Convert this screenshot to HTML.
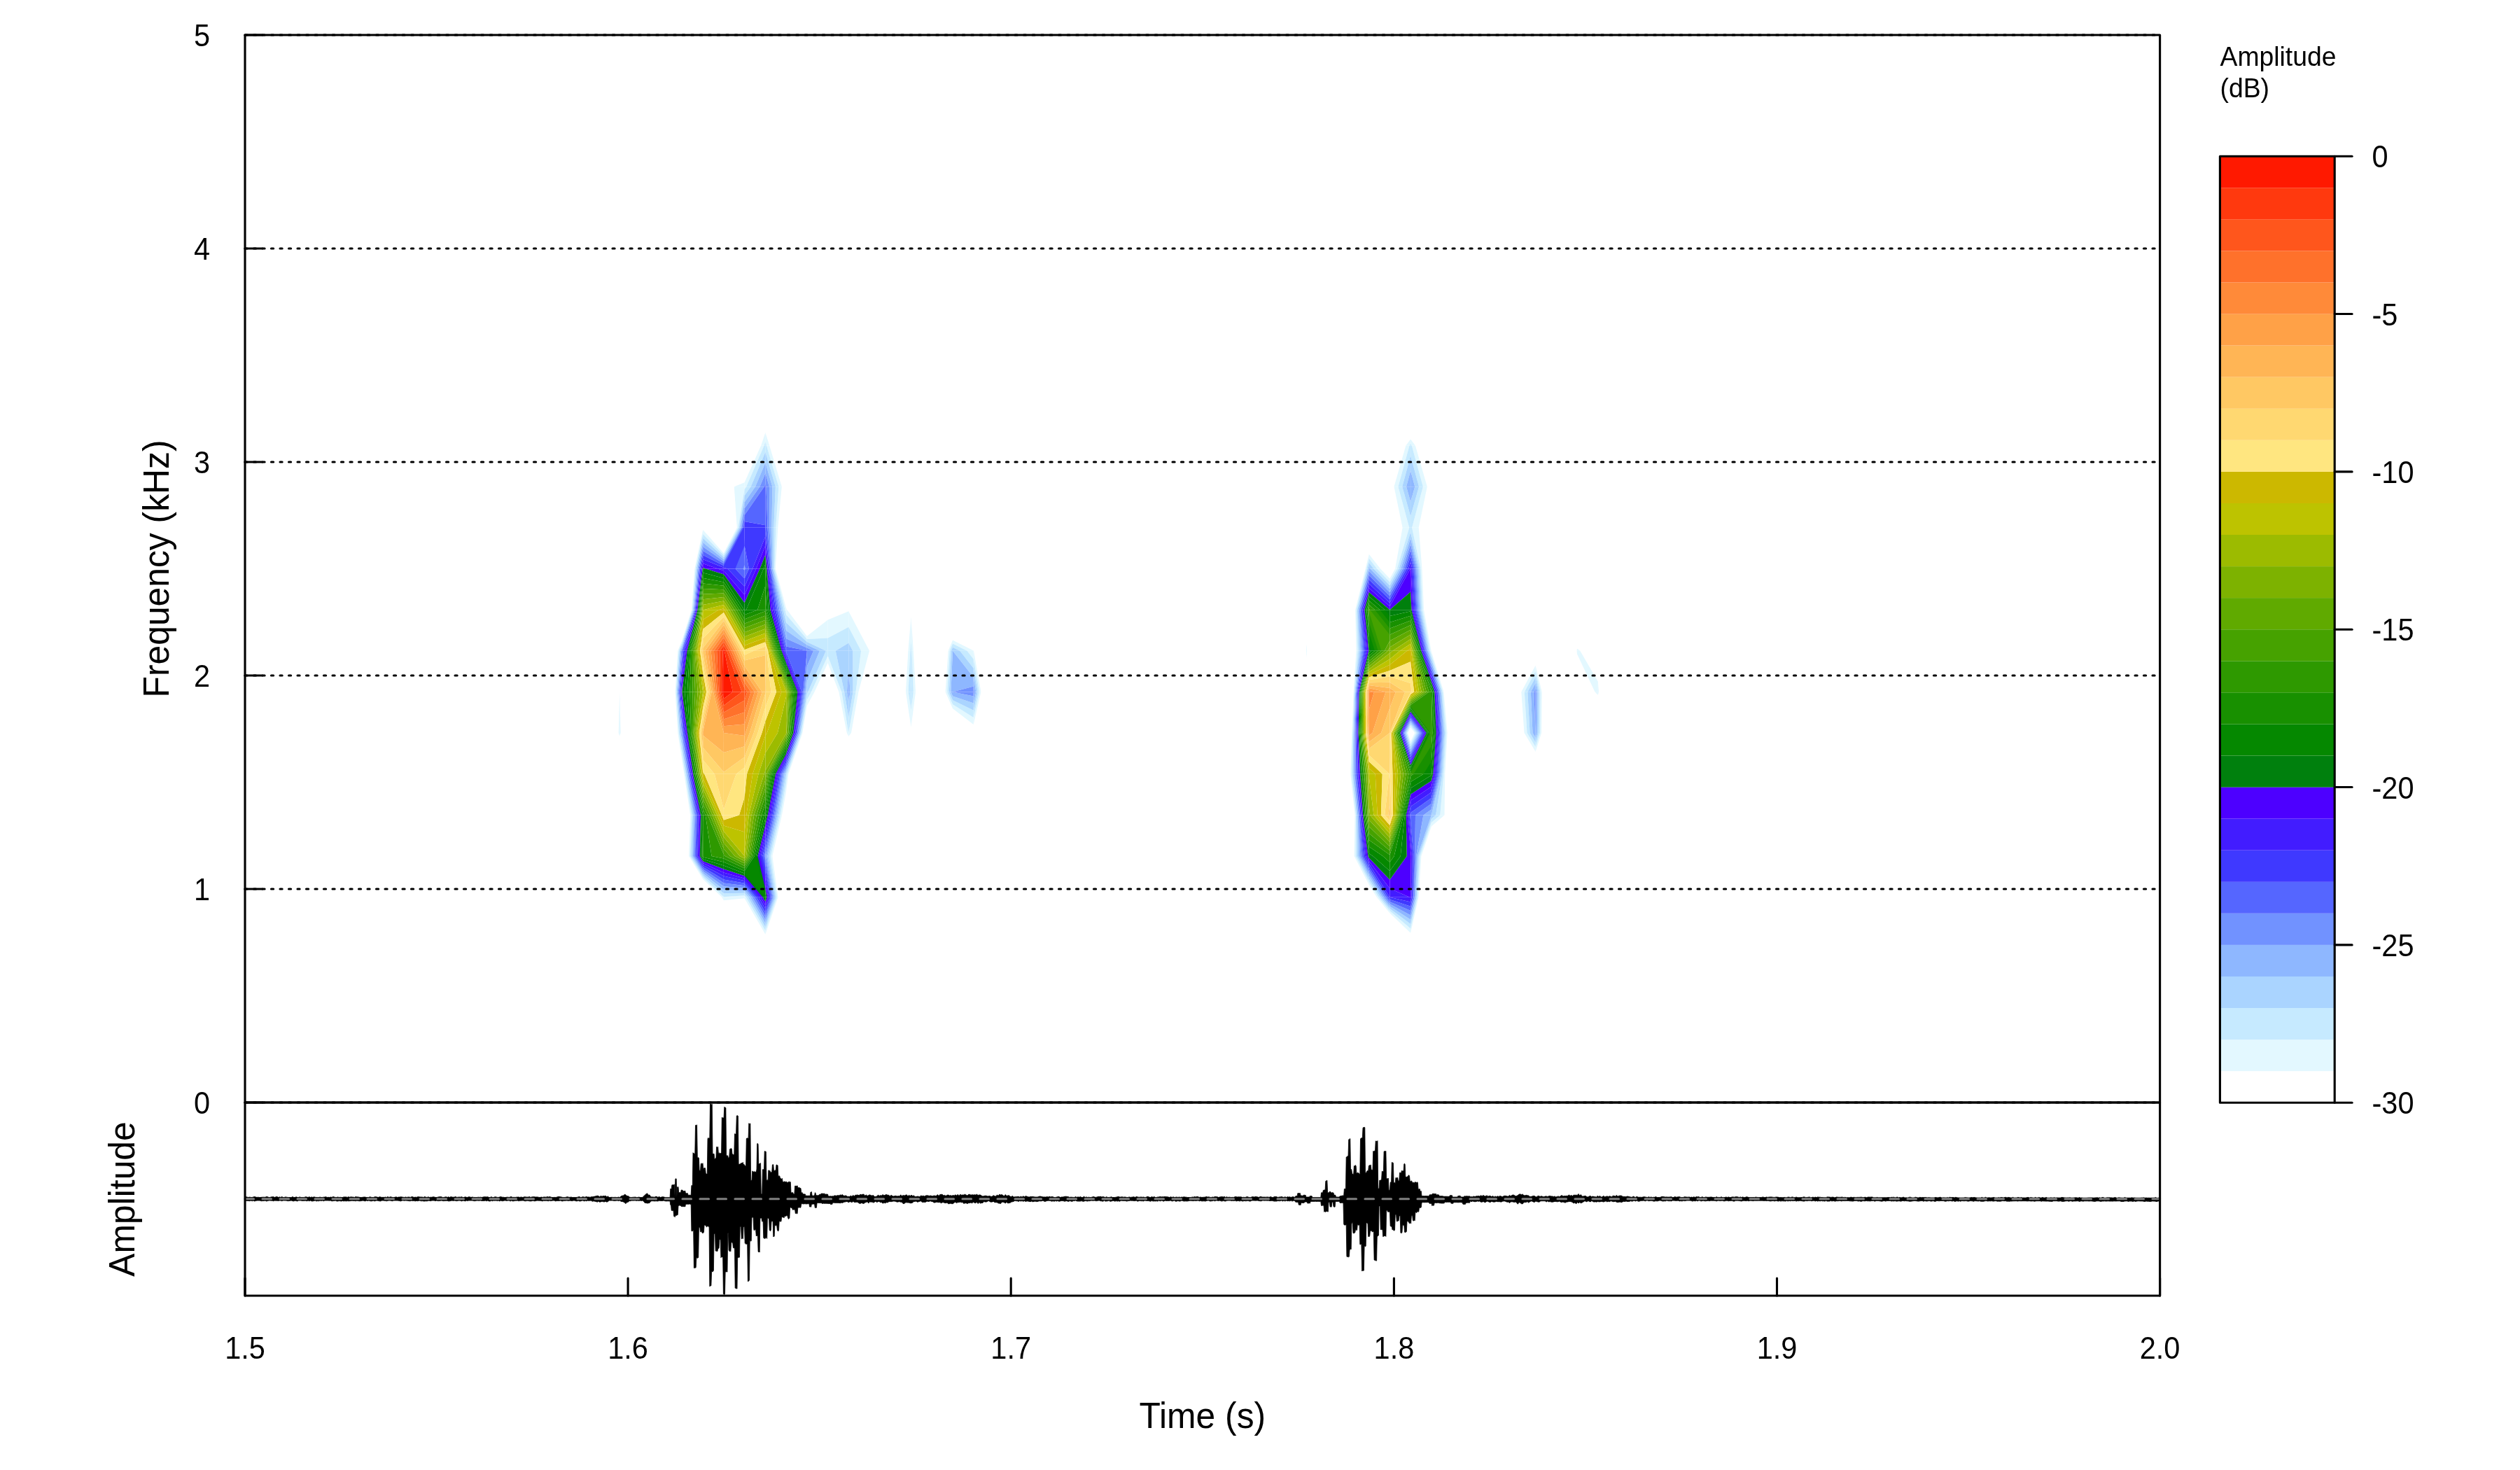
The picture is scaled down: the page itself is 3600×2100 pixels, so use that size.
<!DOCTYPE html>
<html><head><meta charset="utf-8"><title>Spectrogram</title>
<style>html,body{margin:0;padding:0;background:#fff}svg{display:block;will-change:transform}text{font-family:"Liberation Sans",sans-serif;fill:#000}.b1{fill:#E3F8FF}.b2{fill:#C6EAFF}.b3{fill:#AAD4FF}.b4{fill:#8EB7FF}.b5{fill:#7192FF}.b6{fill:#5566FF}.b7{fill:#3F39FF}.b8{fill:#421CFF}.b9{fill:#4D00FF}.b10{fill:#00800D}.b11{fill:#058800}.b12{fill:#189000}.b13{fill:#2E9900}.b14{fill:#46A200}.b15{fill:#60AA00}.b16{fill:#7DB200}.b17{fill:#9CBB00}.b18{fill:#BDC300}.b19{fill:#CCB800}.b20{fill:#FFE680}.b21{fill:#FFD871}.b22{fill:#FFC863}.b23{fill:#FFB555}.b24{fill:#FFA147}.b25{fill:#FF8A39}.b26{fill:#FF712B}.b27{fill:#FF561C}.b28{fill:#FF390E}.b29{fill:#FF1900}</style></head><body>
<svg width="3600" height="2100" viewBox="0 0 3600 2100">
<rect width="3600" height="2100" fill="#fff"/>
<g>
<path class="b1" d="M885.2,1051.4L885.2,1047.1L883.7,1047.1Z"/>
<path class="b1" d="M883.7,1047.1L885.2,1047.1L885.2,988.5Z"/>
<path class="b1" d="M886.7,1047.1L885.2,1047.1L885.2,1051.4Z"/>
<path class="b1" d="M885.2,1047.1L886.7,1047.1L885.2,988.5Z"/>
<path class="b1" d="M974.4,1087.4L974.4,1078.3L969.7,1047.1L968.3,1047.1Z"/>
<path class="b2" d="M974.4,1078.3L974.4,1069.1L971.1,1047.1L969.7,1047.1Z"/>
<path class="b3" d="M974.4,1069.1L974.4,1059.9L972.5,1047.1L971.1,1047.1Z"/>
<path class="b4" d="M974.4,1059.9L974.4,1050.8L973.9,1047.1L972.5,1047.1Z"/>
<path class="b5" d="M974.4,1050.8L974.4,1047.1L973.9,1047.1Z"/>
<path class="b1" d="M968.3,1047.1L969.7,1047.1L965.6,988.5L964.5,988.5Z"/>
<path class="b2" d="M969.7,1047.1L971.1,1047.1L966.7,988.5L965.6,988.5Z"/>
<path class="b3" d="M971.1,1047.1L972.5,1047.1L967.8,988.5L966.7,988.5Z"/>
<path class="b4" d="M972.5,1047.1L973.9,1047.1L968.9,988.5L967.8,988.5Z"/>
<path class="b5" d="M973.9,1047.1L974.4,1047.1L974.4,1039.5L970,988.5L968.9,988.5Z"/>
<path class="b6" d="M974.4,1039.5L974.4,1026.7L971.1,988.5L970,988.5Z"/>
<path class="b7" d="M974.4,1026.7L974.4,1014L972.2,988.5L971.1,988.5Z"/>
<path class="b8" d="M974.4,1014L974.4,1001.2L973.3,988.5L972.2,988.5Z"/>
<path class="b9" d="M974.4,1001.2L974.4,988.5L973.3,988.5Z"/>
<path class="b1" d="M964.5,988.5L965.6,988.5L969.5,929.8L968.2,929.8Z"/>
<path class="b2" d="M965.6,988.5L966.7,988.5L970.7,929.8L969.5,929.8Z"/>
<path class="b3" d="M966.7,988.5L967.8,988.5L972,929.8L970.7,929.8Z"/>
<path class="b4" d="M967.8,988.5L968.9,988.5L973.2,929.8L972,929.8Z"/>
<path class="b5" d="M968.9,988.5L970,988.5L974.4,929.8L973.2,929.8Z"/>
<path class="b6" d="M970,988.5L971.1,988.5L974.4,944.5L974.4,929.8Z"/>
<path class="b7" d="M971.1,988.5L972.2,988.5L974.4,959.1L974.4,944.5Z"/>
<path class="b8" d="M972.2,988.5L973.3,988.5L974.4,973.8L974.4,959.1Z"/>
<path class="b9" d="M973.3,988.5L974.4,988.5L974.4,973.8Z"/>
<path class="b1" d="M968.2,929.8L969.5,929.8L974.4,917.5L974.4,914.4Z"/>
<path class="b2" d="M969.5,929.8L970.7,929.8L974.4,920.5L974.4,917.5Z"/>
<path class="b3" d="M970.7,929.8L972,929.8L974.4,923.6L974.4,920.5Z"/>
<path class="b4" d="M972,929.8L973.2,929.8L974.4,926.7L974.4,923.6Z"/>
<path class="b5" d="M973.2,929.8L974.4,929.8L974.4,926.7Z"/>
<path class="b1" d="M1004.2,1256L1004.2,1253.1L985.8,1223.1L984.1,1223.1Z"/>
<path class="b2" d="M1004.2,1253.1L1004.2,1250.3L987.5,1223.1L985.8,1223.1Z"/>
<path class="b3" d="M1004.2,1250.3L1004.2,1247.4L989.3,1223.1L987.5,1223.1Z"/>
<path class="b4" d="M1004.2,1247.4L1004.2,1244.5L991,1223.1L989.3,1223.1Z"/>
<path class="b5" d="M1004.2,1244.5L1004.2,1241.7L992.8,1223.1L991,1223.1Z"/>
<path class="b6" d="M1004.2,1241.7L1004.2,1238.8L994.5,1223.1L992.8,1223.1Z"/>
<path class="b7" d="M1004.2,1238.8L1004.2,1236L996.3,1223.1L994.5,1223.1Z"/>
<path class="b8" d="M1004.2,1236L1004.2,1233.1L998,1223.1L996.3,1223.1Z"/>
<path class="b9" d="M1004.2,1233.1L1004.2,1230.2L999.8,1223.1L998,1223.1Z"/>
<path class="b10" d="M1004.2,1230.2L1004.2,1227.4L1001.5,1223.1L999.8,1223.1Z"/>
<path class="b11" d="M1004.2,1227.4L1004.2,1224.5L1003.3,1223.1L1001.5,1223.1Z"/>
<path class="b12" d="M1004.2,1224.5L1004.2,1223.1L1003.3,1223.1Z"/>
<path class="b1" d="M984.1,1223.1L985.8,1223.1L987.7,1164.4L986.1,1164.4Z"/>
<path class="b2" d="M985.8,1223.1L987.5,1223.1L989.4,1164.4L987.7,1164.4Z"/>
<path class="b3" d="M987.5,1223.1L989.3,1223.1L991,1164.4L989.4,1164.4Z"/>
<path class="b4" d="M989.3,1223.1L991,1223.1L992.7,1164.4L991,1164.4Z"/>
<path class="b5" d="M991,1223.1L992.8,1223.1L994.4,1164.4L992.7,1164.4Z"/>
<path class="b6" d="M992.8,1223.1L994.5,1223.1L996,1164.4L994.4,1164.4Z"/>
<path class="b7" d="M994.5,1223.1L996.3,1223.1L997.7,1164.4L996,1164.4Z"/>
<path class="b8" d="M996.3,1223.1L998,1223.1L999.3,1164.4L997.7,1164.4Z"/>
<path class="b9" d="M998,1223.1L999.8,1223.1L1001,1164.4L999.3,1164.4Z"/>
<path class="b10" d="M999.8,1223.1L1001.5,1223.1L1002.7,1164.4L1001,1164.4Z"/>
<path class="b11" d="M1001.5,1223.1L1003.3,1223.1L1004.2,1174.2L1004.2,1164.4L1002.7,1164.4Z"/>
<path class="b12" d="M1003.3,1223.1L1004.2,1223.1L1004.2,1174.2Z"/>
<path class="b1" d="M986.1,1164.4L987.7,1164.4L978.7,1105.8L977.3,1105.8Z"/>
<path class="b2" d="M987.7,1164.4L989.4,1164.4L980.1,1105.8L978.7,1105.8Z"/>
<path class="b3" d="M989.4,1164.4L991,1164.4L981.6,1105.8L980.1,1105.8Z"/>
<path class="b4" d="M991,1164.4L992.7,1164.4L983,1105.8L981.6,1105.8Z"/>
<path class="b5" d="M992.7,1164.4L994.4,1164.4L984.4,1105.8L983,1105.8Z"/>
<path class="b6" d="M994.4,1164.4L996,1164.4L985.8,1105.8L984.4,1105.8Z"/>
<path class="b7" d="M996,1164.4L997.7,1164.4L987.3,1105.8L985.8,1105.8Z"/>
<path class="b8" d="M997.7,1164.4L999.3,1164.4L988.7,1105.8L987.3,1105.8Z"/>
<path class="b9" d="M999.3,1164.4L1001,1164.4L990.1,1105.8L988.7,1105.8Z"/>
<path class="b10" d="M1001,1164.4L1002.7,1164.4L991.5,1105.8L990.1,1105.8Z"/>
<path class="b11" d="M1002.7,1164.4L1004.2,1164.4L1004.2,1163.7L993,1105.8L991.5,1105.8Z"/>
<path class="b12" d="M1004.2,1163.7L1004.2,1156.3L994.4,1105.8L993,1105.8Z"/>
<path class="b13" d="M1004.2,1156.3L1004.2,1148.9L995.8,1105.8L994.4,1105.8Z"/>
<path class="b14" d="M1004.2,1148.9L1004.2,1141.6L997.2,1105.8L995.8,1105.8Z"/>
<path class="b15" d="M1004.2,1141.6L1004.2,1134.2L998.7,1105.8L997.2,1105.8Z"/>
<path class="b16" d="M1004.2,1134.2L1004.2,1126.8L1000.1,1105.8L998.7,1105.8Z"/>
<path class="b17" d="M1004.2,1126.8L1004.2,1119.4L1001.5,1105.8L1000.1,1105.8Z"/>
<path class="b18" d="M1004.2,1119.4L1004.2,1112L1003,1105.8L1001.5,1105.8Z"/>
<path class="b19" d="M1004.2,1112L1004.2,1105.8L1003,1105.8Z"/>
<path class="b1" d="M977.3,1105.8L978.7,1105.8L974.4,1078.3L974.4,1087.4Z"/>
<path class="b2" d="M978.7,1105.8L980.1,1105.8L974.4,1069.1L974.4,1078.3Z"/>
<path class="b3" d="M980.1,1105.8L981.6,1105.8L974.4,1059.9L974.4,1069.1Z"/>
<path class="b4" d="M981.6,1105.8L983,1105.8L974.4,1050.8L974.4,1059.9Z"/>
<path class="b5" d="M983,1105.8L984.4,1105.8L975.4,1047.1L974.4,1047.1L974.4,1050.8Z"/>
<path class="b6" d="M984.4,1105.8L985.8,1105.8L977.1,1047.1L975.4,1047.1Z"/>
<path class="b7" d="M985.8,1105.8L987.3,1105.8L978.8,1047.1L977.1,1047.1Z"/>
<path class="b8" d="M987.3,1105.8L988.7,1105.8L980.4,1047.1L978.8,1047.1Z"/>
<path class="b9" d="M988.7,1105.8L990.1,1105.8L982.1,1047.1L980.4,1047.1Z"/>
<path class="b10" d="M990.1,1105.8L991.5,1105.8L983.8,1047.1L982.1,1047.1Z"/>
<path class="b11" d="M991.5,1105.8L993,1105.8L985.5,1047.1L983.8,1047.1Z"/>
<path class="b12" d="M993,1105.8L994.4,1105.8L987.1,1047.1L985.5,1047.1Z"/>
<path class="b13" d="M994.4,1105.8L995.8,1105.8L988.8,1047.1L987.1,1047.1Z"/>
<path class="b14" d="M995.8,1105.8L997.2,1105.8L990.5,1047.1L988.8,1047.1Z"/>
<path class="b15" d="M997.2,1105.8L998.7,1105.8L992.1,1047.1L990.5,1047.1Z"/>
<path class="b16" d="M998.7,1105.8L1000.1,1105.8L993.8,1047.1L992.1,1047.1Z"/>
<path class="b17" d="M1000.1,1105.8L1001.5,1105.8L995.5,1047.1L993.8,1047.1Z"/>
<path class="b18" d="M1001.5,1105.8L1003,1105.8L997.1,1047.1L995.5,1047.1Z"/>
<path class="b19" d="M1003,1105.8L1004.2,1105.8L1004.2,1103.1L998.8,1047.1L997.1,1047.1Z"/>
<path class="b20" d="M1004.2,1103.1L1004.2,1085.6L1000.5,1047.1L998.8,1047.1Z"/>
<path class="b21" d="M1004.2,1085.6L1004.2,1068.1L1002.2,1047.1L1000.5,1047.1Z"/>
<path class="b22" d="M1004.2,1068.1L1004.2,1050.6L1003.8,1047.1L1002.2,1047.1Z"/>
<path class="b23" d="M1004.2,1050.6L1004.2,1047.1L1003.8,1047.1Z"/>
<path class="b5" d="M974.4,1047.1L975.4,1047.1L974.4,1039.5Z"/>
<path class="b6" d="M975.4,1047.1L977.1,1047.1L974.4,1026.7L974.4,1039.5Z"/>
<path class="b7" d="M977.1,1047.1L978.8,1047.1L974.4,1014L974.4,1026.7Z"/>
<path class="b8" d="M978.8,1047.1L980.4,1047.1L974.4,1001.2L974.4,1014Z"/>
<path class="b9" d="M980.4,1047.1L982.1,1047.1L974.4,988.5L974.4,1001.2Z"/>
<path class="b10" d="M982.1,1047.1L983.8,1047.1L978.1,988.5L974.4,988.5Z"/>
<path class="b11" d="M983.8,1047.1L985.5,1047.1L981.9,988.5L978.1,988.5Z"/>
<path class="b12" d="M985.5,1047.1L987.1,1047.1L985.6,988.5L981.9,988.5Z"/>
<path class="b13" d="M987.1,1047.1L988.8,1047.1L989.3,988.5L985.6,988.5Z"/>
<path class="b14" d="M988.8,1047.1L990.5,1047.1L993,988.5L989.3,988.5Z"/>
<path class="b15" d="M990.5,1047.1L992.1,1047.1L996.7,988.5L993,988.5Z"/>
<path class="b16" d="M992.1,1047.1L993.8,1047.1L1000.4,988.5L996.7,988.5Z"/>
<path class="b17" d="M993.8,1047.1L995.5,1047.1L1004.2,988.5L1000.4,988.5Z"/>
<path class="b18" d="M995.5,1047.1L997.1,1047.1L1004.2,999.7L1004.2,988.5Z"/>
<path class="b19" d="M997.1,1047.1L998.8,1047.1L1004.2,1011L1004.2,999.7Z"/>
<path class="b20" d="M998.8,1047.1L1000.5,1047.1L1004.2,1022.3L1004.2,1011Z"/>
<path class="b21" d="M1000.5,1047.1L1002.2,1047.1L1004.2,1033.6L1004.2,1022.3Z"/>
<path class="b22" d="M1002.2,1047.1L1003.8,1047.1L1004.2,1044.9L1004.2,1033.6Z"/>
<path class="b23" d="M1003.8,1047.1L1004.2,1047.1L1004.2,1044.9Z"/>
<path class="b6" d="M976.3,929.8L974.4,929.8L974.4,944.5Z"/>
<path class="b7" d="M978.1,929.8L976.3,929.8L974.4,944.5L974.4,959.1Z"/>
<path class="b8" d="M979.9,929.8L978.1,929.8L974.4,959.1L974.4,973.8Z"/>
<path class="b9" d="M974.4,988.5L981.7,929.8L979.9,929.8L974.4,973.8Z"/>
<path class="b10" d="M974.4,988.5L978.1,988.5L983.6,929.8L981.7,929.8Z"/>
<path class="b11" d="M978.1,988.5L981.9,988.5L985.4,929.8L983.6,929.8Z"/>
<path class="b12" d="M981.9,988.5L985.6,988.5L987.2,929.8L985.4,929.8Z"/>
<path class="b13" d="M985.6,988.5L989.3,988.5L989,929.8L987.2,929.8Z"/>
<path class="b14" d="M989.3,988.5L993,988.5L990.8,929.8L989,929.8Z"/>
<path class="b15" d="M993,988.5L996.7,988.5L992.7,929.8L990.8,929.8Z"/>
<path class="b16" d="M996.7,988.5L1000.4,988.5L994.5,929.8L992.7,929.8Z"/>
<path class="b17" d="M1000.4,988.5L1004.2,988.5L996.3,929.8L994.5,929.8Z"/>
<path class="b18" d="M1004.2,988.5L1004.2,974.8L998.1,929.8L996.3,929.8Z"/>
<path class="b19" d="M1004.2,974.8L1004.2,961.2L1000,929.8L998.1,929.8Z"/>
<path class="b20" d="M1004.2,961.2L1004.2,947.5L1001.8,929.8L1000,929.8Z"/>
<path class="b21" d="M1004.2,947.5L1004.2,933.9L1003.6,929.8L1001.8,929.8Z"/>
<path class="b22" d="M1004.2,933.9L1004.2,929.8L1003.6,929.8Z"/>
<path class="b1" d="M988.8,871.2L987.9,871.2L974.4,914.4L974.4,917.5Z"/>
<path class="b2" d="M989.8,871.2L988.8,871.2L974.4,917.5L974.4,920.5Z"/>
<path class="b3" d="M990.8,871.2L989.8,871.2L974.4,920.5L974.4,923.6Z"/>
<path class="b4" d="M991.7,871.2L990.8,871.2L974.4,923.6L974.4,926.7Z"/>
<path class="b5" d="M974.4,929.8L992.7,871.2L991.7,871.2L974.4,926.7Z"/>
<path class="b6" d="M974.4,929.8L976.3,929.8L993.6,871.2L992.7,871.2Z"/>
<path class="b7" d="M976.3,929.8L978.1,929.8L994.6,871.2L993.6,871.2Z"/>
<path class="b8" d="M978.1,929.8L979.9,929.8L995.6,871.2L994.6,871.2Z"/>
<path class="b9" d="M979.9,929.8L981.7,929.8L996.5,871.2L995.6,871.2Z"/>
<path class="b10" d="M981.7,929.8L983.6,929.8L997.5,871.2L996.5,871.2Z"/>
<path class="b11" d="M983.6,929.8L985.4,929.8L998.4,871.2L997.5,871.2Z"/>
<path class="b12" d="M985.4,929.8L987.2,929.8L999.4,871.2L998.4,871.2Z"/>
<path class="b13" d="M987.2,929.8L989,929.8L1000.4,871.2L999.4,871.2Z"/>
<path class="b14" d="M989,929.8L990.8,929.8L1001.3,871.2L1000.4,871.2Z"/>
<path class="b15" d="M990.8,929.8L992.7,929.8L1002.3,871.2L1001.3,871.2Z"/>
<path class="b16" d="M992.7,929.8L994.5,929.8L1003.3,871.2L1002.3,871.2Z"/>
<path class="b17" d="M994.5,929.8L996.3,929.8L1004.2,871.8L1004.2,871.2L1003.3,871.2Z"/>
<path class="b18" d="M996.3,929.8L998.1,929.8L1004.2,885.3L1004.2,871.8Z"/>
<path class="b19" d="M998.1,929.8L1000,929.8L1004.2,898.8L1004.2,885.3Z"/>
<path class="b20" d="M1000,929.8L1001.8,929.8L1004.2,912.3L1004.2,898.8Z"/>
<path class="b21" d="M1001.8,929.8L1003.6,929.8L1004.2,925.8L1004.2,912.3Z"/>
<path class="b22" d="M1003.6,929.8L1004.2,929.8L1004.2,925.8Z"/>
<path class="b1" d="M987.9,871.2L988.8,871.2L993.6,812.5L992.3,812.5Z"/>
<path class="b2" d="M988.8,871.2L989.8,871.2L994.9,812.5L993.6,812.5Z"/>
<path class="b3" d="M989.8,871.2L990.8,871.2L996.2,812.5L994.9,812.5Z"/>
<path class="b4" d="M990.8,871.2L991.7,871.2L997.5,812.5L996.2,812.5Z"/>
<path class="b5" d="M991.7,871.2L992.7,871.2L998.7,812.5L997.5,812.5Z"/>
<path class="b6" d="M992.7,871.2L993.6,871.2L1000,812.5L998.7,812.5Z"/>
<path class="b7" d="M993.6,871.2L994.6,871.2L1001.3,812.5L1000,812.5Z"/>
<path class="b8" d="M994.6,871.2L995.6,871.2L1002.6,812.5L1001.3,812.5Z"/>
<path class="b9" d="M995.6,871.2L996.5,871.2L1003.8,812.5L1002.6,812.5Z"/>
<path class="b10" d="M996.5,871.2L997.5,871.2L1004.2,818.2L1004.2,812.5L1003.8,812.5Z"/>
<path class="b11" d="M997.5,871.2L998.4,871.2L1004.2,825.8L1004.2,818.2Z"/>
<path class="b12" d="M998.4,871.2L999.4,871.2L1004.2,833.4L1004.2,825.8Z"/>
<path class="b13" d="M999.4,871.2L1000.4,871.2L1004.2,841.1L1004.2,833.4Z"/>
<path class="b14" d="M1000.4,871.2L1001.3,871.2L1004.2,848.7L1004.2,841.1Z"/>
<path class="b15" d="M1001.3,871.2L1002.3,871.2L1004.2,856.3L1004.2,848.7Z"/>
<path class="b16" d="M1002.3,871.2L1003.3,871.2L1004.2,863.9L1004.2,856.3Z"/>
<path class="b17" d="M1003.3,871.2L1004.2,871.2L1004.2,863.9Z"/>
<path class="b1" d="M992.3,812.5L993.6,812.5L1004.2,762.9L1004.2,756.9Z"/>
<path class="b2" d="M993.6,812.5L994.9,812.5L1004.2,768.9L1004.2,762.9Z"/>
<path class="b3" d="M994.9,812.5L996.2,812.5L1004.2,774.9L1004.2,768.9Z"/>
<path class="b4" d="M996.2,812.5L997.5,812.5L1004.2,780.9L1004.2,774.9Z"/>
<path class="b5" d="M997.5,812.5L998.7,812.5L1004.2,786.9L1004.2,780.9Z"/>
<path class="b6" d="M998.7,812.5L1000,812.5L1004.2,792.9L1004.2,786.9Z"/>
<path class="b7" d="M1000,812.5L1001.3,812.5L1004.2,799L1004.2,792.9Z"/>
<path class="b8" d="M1001.3,812.5L1002.6,812.5L1004.2,805L1004.2,799Z"/>
<path class="b9" d="M1002.6,812.5L1003.8,812.5L1004.2,811L1004.2,805Z"/>
<path class="b10" d="M1003.8,812.5L1004.2,812.5L1004.2,811Z"/>
<path class="b1" d="M1033.9,1286.2L1033.9,1281.7L1031.2,1281.7Z"/>
<path class="b1" d="M1031.2,1281.7L1033.9,1281.7L1033.9,1281.2L1004.2,1253.1L1004.2,1256Z"/>
<path class="b2" d="M1033.9,1281.2L1033.9,1276.3L1004.2,1250.3L1004.2,1253.1Z"/>
<path class="b3" d="M1033.9,1276.3L1033.9,1271.3L1004.2,1247.4L1004.2,1250.3Z"/>
<path class="b4" d="M1033.9,1271.3L1033.9,1266.3L1004.2,1244.5L1004.2,1247.4Z"/>
<path class="b5" d="M1033.9,1266.3L1033.9,1261.4L1004.2,1241.7L1004.2,1244.5Z"/>
<path class="b6" d="M1033.9,1261.4L1033.9,1256.4L1004.2,1238.8L1004.2,1241.7Z"/>
<path class="b7" d="M1033.9,1256.4L1033.9,1251.4L1004.2,1236L1004.2,1238.8Z"/>
<path class="b8" d="M1033.9,1251.4L1033.9,1246.4L1004.2,1233.1L1004.2,1236Z"/>
<path class="b9" d="M1033.9,1246.4L1033.9,1241.5L1004.2,1230.2L1004.2,1233.1Z"/>
<path class="b10" d="M1033.9,1241.5L1033.9,1236.5L1004.2,1227.4L1004.2,1230.2Z"/>
<path class="b11" d="M1033.9,1236.5L1033.9,1231.5L1004.2,1224.5L1004.2,1227.4Z"/>
<path class="b12" d="M1033.9,1231.5L1033.9,1226.6L1016.6,1223.1L1004.2,1223.1L1004.2,1224.5Z"/>
<path class="b13" d="M1033.9,1226.6L1033.9,1223.1L1016.6,1223.1Z"/>
<path class="b11" d="M1004.5,1164.4L1004.2,1164.4L1004.2,1174.2Z"/>
<path class="b12" d="M1004.2,1223.1L1016.6,1223.1L1007.8,1164.4L1004.5,1164.4L1004.2,1174.2Z"/>
<path class="b13" d="M1016.6,1223.1L1033.9,1223.1L1033.9,1220.6L1011.1,1164.4L1007.8,1164.4Z"/>
<path class="b14" d="M1033.9,1220.6L1033.9,1212.4L1014.5,1164.4L1011.1,1164.4Z"/>
<path class="b15" d="M1033.9,1212.4L1033.9,1204.2L1017.8,1164.4L1014.5,1164.4Z"/>
<path class="b16" d="M1033.9,1204.2L1033.9,1196L1021.1,1164.4L1017.8,1164.4Z"/>
<path class="b17" d="M1033.9,1196L1033.9,1187.8L1024.4,1164.4L1021.1,1164.4Z"/>
<path class="b18" d="M1033.9,1187.8L1033.9,1179.6L1027.8,1164.4L1024.4,1164.4Z"/>
<path class="b19" d="M1033.9,1179.6L1033.9,1171.4L1031.1,1164.4L1027.8,1164.4Z"/>
<path class="b20" d="M1033.9,1171.4L1033.9,1164.4L1031.1,1164.4Z"/>
<path class="b11" d="M1004.2,1164.4L1004.5,1164.4L1004.2,1163.7Z"/>
<path class="b12" d="M1004.5,1164.4L1007.8,1164.4L1004.2,1156.3L1004.2,1163.7Z"/>
<path class="b13" d="M1007.8,1164.4L1011.1,1164.4L1004.2,1148.9L1004.2,1156.3Z"/>
<path class="b14" d="M1011.1,1164.4L1014.5,1164.4L1004.2,1141.6L1004.2,1148.9Z"/>
<path class="b15" d="M1014.5,1164.4L1017.8,1164.4L1004.2,1134.2L1004.2,1141.6Z"/>
<path class="b16" d="M1017.8,1164.4L1021.1,1164.4L1004.2,1126.8L1004.2,1134.2Z"/>
<path class="b17" d="M1021.1,1164.4L1024.4,1164.4L1004.2,1119.4L1004.2,1126.8Z"/>
<path class="b18" d="M1024.4,1164.4L1027.8,1164.4L1004.2,1112L1004.2,1119.4Z"/>
<path class="b19" d="M1027.8,1164.4L1031.1,1164.4L1006.3,1105.8L1004.2,1105.8L1004.2,1112Z"/>
<path class="b20" d="M1031.1,1164.4L1033.9,1164.4L1033.9,1156L1020.8,1105.8L1006.3,1105.8Z"/>
<path class="b21" d="M1033.9,1156L1033.9,1105.8L1020.8,1105.8Z"/>
<path class="b19" d="M1004.2,1105.8L1006.3,1105.8L1004.2,1103.1Z"/>
<path class="b20" d="M1006.3,1105.8L1020.8,1105.8L1004.2,1085.6L1004.2,1103.1Z"/>
<path class="b21" d="M1020.8,1105.8L1033.9,1105.8L1033.9,1103L1004.2,1068.1L1004.2,1085.6Z"/>
<path class="b22" d="M1033.9,1103L1033.9,1075L1004.2,1050.6L1004.2,1068.1Z"/>
<path class="b23" d="M1033.9,1075L1033.9,1047.1L1004.2,1047.1L1004.2,1050.6Z"/>
<path class="b18" d="M1006.6,988.5L1004.2,988.5L1004.2,999.7Z"/>
<path class="b19" d="M1009.1,988.5L1006.6,988.5L1004.2,999.7L1004.2,1011Z"/>
<path class="b20" d="M1011.6,988.5L1009.1,988.5L1004.2,1011L1004.2,1022.3Z"/>
<path class="b21" d="M1014.1,988.5L1011.6,988.5L1004.2,1022.3L1004.2,1033.6Z"/>
<path class="b22" d="M1016.6,988.5L1014.1,988.5L1004.2,1033.6L1004.2,1044.9Z"/>
<path class="b23" d="M1004.2,1047.1L1033.9,1047.1L1019,988.5L1016.6,988.5L1004.2,1044.9Z"/>
<path class="b24" d="M1033.9,1047.1L1033.9,1037.3L1021.5,988.5L1019,988.5Z"/>
<path class="b25" d="M1033.9,1037.3L1033.9,1027.6L1024,988.5L1021.5,988.5Z"/>
<path class="b26" d="M1033.9,1027.6L1033.9,1017.8L1026.5,988.5L1024,988.5Z"/>
<path class="b27" d="M1033.9,1017.8L1033.9,1008L1028.9,988.5L1026.5,988.5Z"/>
<path class="b28" d="M1033.9,1008L1033.9,998.2L1031.4,988.5L1028.9,988.5Z"/>
<path class="b29" d="M1033.9,998.2L1033.9,988.5L1031.4,988.5Z"/>
<path class="b18" d="M1004.2,988.5L1006.6,988.5L1004.2,974.8Z"/>
<path class="b19" d="M1006.6,988.5L1009.1,988.5L1004.2,961.2L1004.2,974.8Z"/>
<path class="b20" d="M1009.1,988.5L1011.6,988.5L1004.2,947.5L1004.2,961.2Z"/>
<path class="b21" d="M1011.6,988.5L1014.1,988.5L1004.2,933.9L1004.2,947.5Z"/>
<path class="b22" d="M1014.1,988.5L1016.6,988.5L1007.1,929.8L1004.2,929.8L1004.2,933.9Z"/>
<path class="b23" d="M1016.6,988.5L1019,988.5L1011.4,929.8L1007.1,929.8Z"/>
<path class="b24" d="M1019,988.5L1021.5,988.5L1015.6,929.8L1011.4,929.8Z"/>
<path class="b25" d="M1021.5,988.5L1024,988.5L1019.9,929.8L1015.6,929.8Z"/>
<path class="b26" d="M1024,988.5L1026.5,988.5L1024.1,929.8L1019.9,929.8Z"/>
<path class="b27" d="M1026.5,988.5L1028.9,988.5L1028.4,929.8L1024.1,929.8Z"/>
<path class="b28" d="M1028.9,988.5L1031.4,988.5L1032.6,929.8L1028.4,929.8Z"/>
<path class="b29" d="M1031.4,988.5L1033.9,988.5L1033.9,929.8L1032.6,929.8Z"/>
<path class="b17" d="M1005.2,871.2L1004.2,871.2L1004.2,871.8Z"/>
<path class="b18" d="M1026.5,871.2L1005.2,871.2L1004.2,871.8L1004.2,885.3Z"/>
<path class="b19" d="M1033.9,875L1033.9,871.2L1026.5,871.2L1004.2,885.3L1004.2,898.8Z"/>
<path class="b20" d="M1033.9,880.9L1033.9,875L1004.2,898.8L1004.2,912.3Z"/>
<path class="b21" d="M1033.9,886.8L1033.9,880.9L1004.2,912.3L1004.2,925.8Z"/>
<path class="b22" d="M1004.2,929.8L1007.1,929.8L1033.9,892.7L1033.9,886.8L1004.2,925.8Z"/>
<path class="b23" d="M1007.1,929.8L1011.4,929.8L1033.9,898.6L1033.9,892.7Z"/>
<path class="b24" d="M1011.4,929.8L1015.6,929.8L1033.9,904.5L1033.9,898.6Z"/>
<path class="b25" d="M1015.6,929.8L1019.9,929.8L1033.9,910.4L1033.9,904.5Z"/>
<path class="b26" d="M1019.9,929.8L1024.1,929.8L1033.9,916.2L1033.9,910.4Z"/>
<path class="b27" d="M1024.1,929.8L1028.4,929.8L1033.9,922.1L1033.9,916.2Z"/>
<path class="b28" d="M1028.4,929.8L1032.6,929.8L1033.9,928L1033.9,922.1Z"/>
<path class="b29" d="M1032.6,929.8L1033.9,929.8L1033.9,928Z"/>
<path class="b8" d="M1033.9,815.2L1033.9,812.5L1025.4,812.5Z"/>
<path class="b9" d="M1033.9,820.6L1033.9,815.2L1025.4,812.5L1008.4,812.5Z"/>
<path class="b10" d="M1033.9,826L1033.9,820.6L1008.4,812.5L1004.2,812.5L1004.2,818.2Z"/>
<path class="b11" d="M1033.9,831.4L1033.9,826L1004.2,818.2L1004.2,825.8Z"/>
<path class="b12" d="M1033.9,836.8L1033.9,831.4L1004.2,825.8L1004.2,833.4Z"/>
<path class="b13" d="M1033.9,842.2L1033.9,836.8L1004.2,833.4L1004.2,841.1Z"/>
<path class="b14" d="M1033.9,847.6L1033.9,842.2L1004.2,841.1L1004.2,848.7Z"/>
<path class="b15" d="M1033.9,853L1033.9,847.6L1004.2,848.7L1004.2,856.3Z"/>
<path class="b16" d="M1033.9,858.5L1033.9,853L1004.2,856.3L1004.2,863.9Z"/>
<path class="b17" d="M1004.2,871.2L1005.2,871.2L1033.9,863.9L1033.9,858.5L1004.2,863.9Z"/>
<path class="b18" d="M1005.2,871.2L1026.5,871.2L1033.9,869.3L1033.9,863.9Z"/>
<path class="b19" d="M1026.5,871.2L1033.9,871.2L1033.9,869.3Z"/>
<path class="b1" d="M1033.9,793.1L1033.9,790.2L1004.2,756.9L1004.2,762.9Z"/>
<path class="b2" d="M1033.9,796.1L1033.9,793.1L1004.2,762.9L1004.2,768.9Z"/>
<path class="b3" d="M1033.9,799.1L1033.9,796.1L1004.2,768.9L1004.2,774.9Z"/>
<path class="b4" d="M1033.9,802.1L1033.9,799.1L1004.2,774.9L1004.2,780.9Z"/>
<path class="b5" d="M1033.9,805.1L1033.9,802.1L1004.2,780.9L1004.2,786.9Z"/>
<path class="b6" d="M1033.9,808L1033.9,805.1L1004.2,786.9L1004.2,792.9Z"/>
<path class="b7" d="M1033.9,811L1033.9,808L1004.2,792.9L1004.2,799Z"/>
<path class="b8" d="M1025.4,812.5L1033.9,812.5L1033.9,811L1004.2,799L1004.2,805Z"/>
<path class="b9" d="M1008.4,812.5L1025.4,812.5L1004.2,805L1004.2,811Z"/>
<path class="b10" d="M1004.2,812.5L1008.4,812.5L1004.2,811Z"/>
<path class="b1" d="M1063.6,1283.2L1063.6,1281.7L1033.9,1281.7L1033.9,1286.2Z"/>
<path class="b1" d="M1033.9,1281.7L1063.6,1281.7L1063.6,1279.3L1033.9,1281.2Z"/>
<path class="b2" d="M1063.6,1279.3L1063.6,1275.8L1033.9,1276.3L1033.9,1281.2Z"/>
<path class="b3" d="M1063.6,1275.8L1063.6,1272.2L1033.9,1271.3L1033.9,1276.3Z"/>
<path class="b4" d="M1063.6,1272.2L1063.6,1268.7L1033.9,1266.3L1033.9,1271.3Z"/>
<path class="b5" d="M1063.6,1268.7L1063.6,1265.2L1033.9,1261.4L1033.9,1266.3Z"/>
<path class="b6" d="M1063.6,1265.2L1063.6,1261.7L1033.9,1256.4L1033.9,1261.4Z"/>
<path class="b7" d="M1063.6,1261.7L1063.6,1258.2L1033.9,1251.4L1033.9,1256.4Z"/>
<path class="b8" d="M1063.6,1258.2L1063.6,1254.7L1033.9,1246.4L1033.9,1251.4Z"/>
<path class="b9" d="M1063.6,1254.7L1063.6,1251.2L1033.9,1241.5L1033.9,1246.4Z"/>
<path class="b10" d="M1063.6,1251.2L1063.6,1247.7L1033.9,1236.5L1033.9,1241.5Z"/>
<path class="b11" d="M1063.6,1247.7L1063.6,1244.2L1033.9,1231.5L1033.9,1236.5Z"/>
<path class="b12" d="M1063.6,1244.2L1063.6,1240.6L1033.9,1226.6L1033.9,1231.5Z"/>
<path class="b13" d="M1063.6,1240.6L1063.6,1237.1L1036,1223.1L1033.9,1223.1L1033.9,1226.6Z"/>
<path class="b14" d="M1063.6,1237.1L1063.6,1233.6L1042.9,1223.1L1036,1223.1Z"/>
<path class="b15" d="M1063.6,1233.6L1063.6,1230.1L1049.8,1223.1L1042.9,1223.1Z"/>
<path class="b16" d="M1063.6,1230.1L1063.6,1226.6L1056.7,1223.1L1049.8,1223.1Z"/>
<path class="b17" d="M1063.6,1226.6L1063.6,1223.1L1056.7,1223.1Z"/>
<path class="b13" d="M1033.9,1223.1L1036,1223.1L1033.9,1220.6Z"/>
<path class="b14" d="M1036,1223.1L1042.9,1223.1L1033.9,1212.4L1033.9,1220.6Z"/>
<path class="b15" d="M1042.9,1223.1L1049.8,1223.1L1033.9,1204.2L1033.9,1212.4Z"/>
<path class="b16" d="M1049.8,1223.1L1056.7,1223.1L1033.9,1196L1033.9,1204.2Z"/>
<path class="b17" d="M1056.7,1223.1L1063.6,1223.1L1033.9,1187.8L1033.9,1196Z"/>
<path class="b18" d="M1063.6,1223.1L1063.6,1188.6L1033.9,1179.6L1033.9,1187.8Z"/>
<path class="b19" d="M1063.6,1188.6L1063.6,1164.4L1055.9,1164.4L1033.9,1171.4L1033.9,1179.6Z"/>
<path class="b20" d="M1055.9,1164.4L1033.9,1164.4L1033.9,1171.4Z"/>
<path class="b19" d="M1055.9,1164.4L1063.6,1164.4L1063.6,1139.3Z"/>
<path class="b20" d="M1033.9,1164.4L1055.9,1164.4L1063.6,1139.3L1063.6,1105.8L1051.7,1105.8L1033.9,1156Z"/>
<path class="b21" d="M1051.7,1105.8L1033.9,1105.8L1033.9,1156Z"/>
<path class="b20" d="M1051.7,1105.8L1063.6,1105.8L1063.6,1096.6Z"/>
<path class="b21" d="M1033.9,1105.8L1051.7,1105.8L1063.6,1096.6L1063.6,1081.4L1033.9,1103Z"/>
<path class="b22" d="M1063.6,1081.4L1063.6,1066.2L1033.9,1075L1033.9,1103Z"/>
<path class="b23" d="M1063.6,1066.2L1063.6,1050.9L1033.9,1047.1L1033.9,1075Z"/>
<path class="b24" d="M1063.6,1050.9L1063.6,1047.1L1033.9,1047.1Z"/>
<path class="b24" d="M1033.9,1047.1L1063.6,1047.1L1063.6,1034.4L1033.9,1037.3Z"/>
<path class="b25" d="M1063.6,1034.4L1063.6,1017.4L1033.9,1027.6L1033.9,1037.3Z"/>
<path class="b26" d="M1063.6,1017.4L1063.6,1000.4L1033.9,1017.8L1033.9,1027.6Z"/>
<path class="b27" d="M1063.6,1000.4L1063.6,988.5L1059.8,988.5L1033.9,1008L1033.9,1017.8Z"/>
<path class="b28" d="M1059.8,988.5L1046.8,988.5L1033.9,998.2L1033.9,1008Z"/>
<path class="b29" d="M1046.8,988.5L1033.9,988.5L1033.9,998.2Z"/>
<path class="b20" d="M1063.6,935.7L1063.6,929.8L1061.2,929.8Z"/>
<path class="b21" d="M1063.6,943.6L1063.6,935.7L1061.2,929.8L1057.9,929.8Z"/>
<path class="b22" d="M1063.6,951.5L1063.6,943.6L1057.9,929.8L1054.6,929.8Z"/>
<path class="b23" d="M1063.6,959.3L1063.6,951.5L1054.6,929.8L1051.3,929.8Z"/>
<path class="b24" d="M1063.6,967.2L1063.6,959.3L1051.3,929.8L1048,929.8Z"/>
<path class="b25" d="M1063.6,975.1L1063.6,967.2L1048,929.8L1044.7,929.8Z"/>
<path class="b26" d="M1063.6,983L1063.6,975.1L1044.7,929.8L1041.5,929.8Z"/>
<path class="b27" d="M1059.8,988.5L1063.6,988.5L1063.6,983L1041.5,929.8L1038.2,929.8Z"/>
<path class="b28" d="M1046.8,988.5L1059.8,988.5L1038.2,929.8L1034.9,929.8Z"/>
<path class="b29" d="M1033.9,988.5L1046.8,988.5L1034.9,929.8L1033.9,929.8Z"/>
<path class="b10" d="M1063.6,872.1L1063.6,871.2L1063.1,871.2Z"/>
<path class="b11" d="M1063.6,878.3L1063.6,872.1L1063.1,871.2L1059.6,871.2Z"/>
<path class="b12" d="M1063.6,884.6L1063.6,878.3L1059.6,871.2L1056.1,871.2Z"/>
<path class="b13" d="M1063.6,890.8L1063.6,884.6L1056.1,871.2L1052.6,871.2Z"/>
<path class="b14" d="M1063.6,897L1063.6,890.8L1052.6,871.2L1049.1,871.2Z"/>
<path class="b15" d="M1063.6,903.3L1063.6,897L1049.1,871.2L1045.6,871.2Z"/>
<path class="b16" d="M1063.6,909.5L1063.6,903.3L1045.6,871.2L1042.1,871.2Z"/>
<path class="b17" d="M1063.6,915.8L1063.6,909.5L1042.1,871.2L1038.6,871.2Z"/>
<path class="b18" d="M1063.6,922L1063.6,915.8L1038.6,871.2L1035.1,871.2Z"/>
<path class="b19" d="M1063.6,928.2L1063.6,922L1035.1,871.2L1033.9,871.2L1033.9,875Z"/>
<path class="b20" d="M1061.2,929.8L1063.6,929.8L1063.6,928.2L1033.9,875L1033.9,880.9Z"/>
<path class="b21" d="M1057.9,929.8L1061.2,929.8L1033.9,880.9L1033.9,886.8Z"/>
<path class="b22" d="M1054.6,929.8L1057.9,929.8L1033.9,886.8L1033.9,892.7Z"/>
<path class="b23" d="M1051.3,929.8L1054.6,929.8L1033.9,892.7L1033.9,898.6Z"/>
<path class="b24" d="M1048,929.8L1051.3,929.8L1033.9,898.6L1033.9,904.5Z"/>
<path class="b25" d="M1044.7,929.8L1048,929.8L1033.9,904.5L1033.9,910.4Z"/>
<path class="b26" d="M1041.5,929.8L1044.7,929.8L1033.9,910.4L1033.9,916.2Z"/>
<path class="b27" d="M1038.2,929.8L1041.5,929.8L1033.9,916.2L1033.9,922.1Z"/>
<path class="b28" d="M1034.9,929.8L1038.2,929.8L1033.9,922.1L1033.9,928Z"/>
<path class="b29" d="M1033.9,929.8L1034.9,929.8L1033.9,928Z"/>
<path class="b5" d="M1063.6,814.8L1063.6,812.5L1061.4,812.5Z"/>
<path class="b6" d="M1063.6,826.4L1063.6,814.8L1061.4,812.5L1050.4,812.5Z"/>
<path class="b7" d="M1063.6,838.1L1063.6,826.4L1050.4,812.5L1039.4,812.5Z"/>
<path class="b8" d="M1063.6,849.7L1063.6,838.1L1039.4,812.5L1033.9,812.5L1033.9,815.2Z"/>
<path class="b9" d="M1063.6,861.3L1063.6,849.7L1033.9,815.2L1033.9,820.6Z"/>
<path class="b10" d="M1063.1,871.2L1063.6,871.2L1063.6,861.3L1033.9,820.6L1033.9,826Z"/>
<path class="b11" d="M1059.6,871.2L1063.1,871.2L1033.9,826L1033.9,831.4Z"/>
<path class="b12" d="M1056.1,871.2L1059.6,871.2L1033.9,831.4L1033.9,836.8Z"/>
<path class="b13" d="M1052.6,871.2L1056.1,871.2L1033.9,836.8L1033.9,842.2Z"/>
<path class="b14" d="M1049.1,871.2L1052.6,871.2L1033.9,842.2L1033.9,847.6Z"/>
<path class="b15" d="M1045.6,871.2L1049.1,871.2L1033.9,847.6L1033.9,853Z"/>
<path class="b16" d="M1042.1,871.2L1045.6,871.2L1033.9,853L1033.9,858.5Z"/>
<path class="b17" d="M1038.6,871.2L1042.1,871.2L1033.9,858.5L1033.9,863.9Z"/>
<path class="b18" d="M1035.1,871.2L1038.6,871.2L1033.9,863.9L1033.9,869.3Z"/>
<path class="b19" d="M1033.9,871.2L1035.1,871.2L1033.9,869.3Z"/>
<path class="b1" d="M1054.4,753.8L1052.8,753.8L1033.9,790.2L1033.9,793.1Z"/>
<path class="b2" d="M1055.9,753.8L1054.4,753.8L1033.9,793.1L1033.9,796.1Z"/>
<path class="b3" d="M1057.5,753.8L1055.9,753.8L1033.9,796.1L1033.9,799.1Z"/>
<path class="b4" d="M1059.1,753.8L1057.5,753.8L1033.9,799.1L1033.9,802.1Z"/>
<path class="b5" d="M1061.4,812.5L1063.6,812.5L1063.6,807L1060.6,753.8L1059.1,753.8L1033.9,802.1L1033.9,805.1Z"/>
<path class="b6" d="M1050.4,812.5L1061.4,812.5L1063.6,807L1063.6,779.8L1062.2,753.8L1060.6,753.8L1033.9,805.1L1033.9,808Z"/>
<path class="b7" d="M1039.4,812.5L1050.4,812.5L1063.6,779.8L1063.6,753.8L1062.2,753.8L1033.9,808L1033.9,811Z"/>
<path class="b8" d="M1033.9,812.5L1039.4,812.5L1033.9,811Z"/>
<path class="b1" d="M1052.8,753.8L1054.4,753.8L1063.6,698.9L1063.6,695.2L1048.8,695.2Z"/>
<path class="b2" d="M1054.4,753.8L1055.9,753.8L1063.6,708.1L1063.6,698.9Z"/>
<path class="b3" d="M1055.9,753.8L1057.5,753.8L1063.6,717.4L1063.6,708.1Z"/>
<path class="b4" d="M1057.5,753.8L1059.1,753.8L1063.6,726.6L1063.6,717.4Z"/>
<path class="b5" d="M1059.1,753.8L1060.6,753.8L1063.6,735.8L1063.6,726.6Z"/>
<path class="b6" d="M1060.6,753.8L1062.2,753.8L1063.6,745.1L1063.6,735.8Z"/>
<path class="b7" d="M1062.2,753.8L1063.6,753.8L1063.6,745.1Z"/>
<path class="b1" d="M1048.8,695.2L1063.6,695.2L1063.6,689.2Z"/>
<path class="b1" d="M1093.4,1334.7L1093.4,1329.5L1065.7,1281.7L1063.6,1281.7L1063.6,1283.2Z"/>
<path class="b2" d="M1093.4,1329.5L1093.4,1324.3L1068.7,1281.7L1065.7,1281.7Z"/>
<path class="b3" d="M1093.4,1324.3L1093.4,1319.1L1071.7,1281.7L1068.7,1281.7Z"/>
<path class="b4" d="M1093.4,1319.1L1093.4,1313.9L1074.7,1281.7L1071.7,1281.7Z"/>
<path class="b5" d="M1093.4,1313.9L1093.4,1308.7L1077.8,1281.7L1074.7,1281.7Z"/>
<path class="b6" d="M1093.4,1308.7L1093.4,1303.5L1080.8,1281.7L1077.8,1281.7Z"/>
<path class="b7" d="M1093.4,1303.5L1093.4,1298.3L1083.8,1281.7L1080.8,1281.7Z"/>
<path class="b8" d="M1093.4,1298.3L1093.4,1293.2L1086.8,1281.7L1083.8,1281.7Z"/>
<path class="b9" d="M1093.4,1293.2L1093.4,1288L1089.8,1281.7L1086.8,1281.7Z"/>
<path class="b10" d="M1093.4,1288L1093.4,1282.8L1092.8,1281.7L1089.8,1281.7Z"/>
<path class="b11" d="M1093.4,1282.8L1093.4,1281.7L1092.8,1281.7Z"/>
<path class="b1" d="M1063.6,1281.7L1065.7,1281.7L1063.6,1279.3Z"/>
<path class="b2" d="M1065.7,1281.7L1068.7,1281.7L1063.6,1275.8L1063.6,1279.3Z"/>
<path class="b3" d="M1068.7,1281.7L1071.7,1281.7L1063.6,1272.2L1063.6,1275.8Z"/>
<path class="b4" d="M1071.7,1281.7L1074.7,1281.7L1063.6,1268.7L1063.6,1272.2Z"/>
<path class="b5" d="M1074.7,1281.7L1077.8,1281.7L1093.4,1230L1093.4,1223.1L1091.7,1223.1L1063.6,1265.2L1063.6,1268.7Z"/>
<path class="b6" d="M1077.8,1281.7L1080.8,1281.7L1093.4,1240L1093.4,1230L1091.7,1223.1L1089.4,1223.1L1063.6,1261.7L1063.6,1265.2Z"/>
<path class="b7" d="M1080.8,1281.7L1083.8,1281.7L1093.4,1249.9L1093.4,1240L1089.4,1223.1L1087,1223.1L1063.6,1258.2L1063.6,1261.7Z"/>
<path class="b8" d="M1083.8,1281.7L1086.8,1281.7L1093.4,1259.9L1093.4,1249.9L1087,1223.1L1084.7,1223.1L1063.6,1254.7L1063.6,1258.2Z"/>
<path class="b9" d="M1086.8,1281.7L1089.8,1281.7L1093.4,1269.8L1093.4,1259.9L1084.7,1223.1L1082.4,1223.1L1063.6,1251.2L1063.6,1254.7Z"/>
<path class="b10" d="M1089.8,1281.7L1092.8,1281.7L1093.4,1279.7L1093.4,1269.8L1082.4,1223.1L1080,1223.1L1063.6,1247.7L1063.6,1251.2Z"/>
<path class="b11" d="M1092.8,1281.7L1093.4,1281.7L1093.4,1279.7L1080,1223.1L1077.7,1223.1L1063.6,1244.2L1063.6,1247.7Z"/>
<path class="b12" d="M1077.7,1223.1L1075.3,1223.1L1063.6,1240.6L1063.6,1244.2Z"/>
<path class="b13" d="M1075.3,1223.1L1073,1223.1L1063.6,1237.1L1063.6,1240.6Z"/>
<path class="b14" d="M1073,1223.1L1070.7,1223.1L1063.6,1233.6L1063.6,1237.1Z"/>
<path class="b15" d="M1070.7,1223.1L1068.3,1223.1L1063.6,1230.1L1063.6,1233.6Z"/>
<path class="b16" d="M1068.3,1223.1L1066,1223.1L1063.6,1226.6L1063.6,1230.1Z"/>
<path class="b17" d="M1066,1223.1L1063.6,1223.1L1063.6,1226.6Z"/>
<path class="b5" d="M1091.7,1223.1L1093.4,1223.1L1093.4,1216.5Z"/>
<path class="b6" d="M1089.4,1223.1L1091.7,1223.1L1093.4,1216.5L1093.4,1207Z"/>
<path class="b7" d="M1087,1223.1L1089.4,1223.1L1093.4,1207L1093.4,1197.5Z"/>
<path class="b8" d="M1084.7,1223.1L1087,1223.1L1093.4,1197.5L1093.4,1188.1Z"/>
<path class="b9" d="M1082.4,1223.1L1084.7,1223.1L1093.4,1188.1L1093.4,1178.6Z"/>
<path class="b10" d="M1080,1223.1L1082.4,1223.1L1093.4,1178.6L1093.4,1169.2Z"/>
<path class="b11" d="M1077.7,1223.1L1080,1223.1L1093.4,1169.2L1093.4,1164.4L1091.6,1164.4Z"/>
<path class="b12" d="M1075.3,1223.1L1077.7,1223.1L1091.6,1164.4L1087.9,1164.4Z"/>
<path class="b13" d="M1073,1223.1L1075.3,1223.1L1087.9,1164.4L1084.3,1164.4Z"/>
<path class="b14" d="M1070.7,1223.1L1073,1223.1L1084.3,1164.4L1080.7,1164.4Z"/>
<path class="b15" d="M1068.3,1223.1L1070.7,1223.1L1080.7,1164.4L1077.1,1164.4Z"/>
<path class="b16" d="M1066,1223.1L1068.3,1223.1L1077.1,1164.4L1073.4,1164.4Z"/>
<path class="b17" d="M1063.6,1223.1L1066,1223.1L1073.4,1164.4L1069.8,1164.4Z"/>
<path class="b18" d="M1063.6,1223.1L1069.8,1164.4L1066.2,1164.4L1063.6,1188.6Z"/>
<path class="b19" d="M1066.2,1164.4L1063.6,1164.4L1063.6,1188.6Z"/>
<path class="b11" d="M1091.6,1164.4L1093.4,1164.4L1093.4,1158.9Z"/>
<path class="b12" d="M1087.9,1164.4L1091.6,1164.4L1093.4,1158.9L1093.4,1147.8Z"/>
<path class="b13" d="M1084.3,1164.4L1087.9,1164.4L1093.4,1147.8L1093.4,1136.8Z"/>
<path class="b14" d="M1080.7,1164.4L1084.3,1164.4L1093.4,1136.8L1093.4,1125.7Z"/>
<path class="b15" d="M1077.1,1164.4L1080.7,1164.4L1093.4,1125.7L1093.4,1114.6Z"/>
<path class="b16" d="M1073.4,1164.4L1077.1,1164.4L1093.4,1114.6L1093.4,1105.8L1091.7,1105.8Z"/>
<path class="b17" d="M1069.8,1164.4L1073.4,1164.4L1091.7,1105.8L1083.5,1105.8Z"/>
<path class="b18" d="M1066.2,1164.4L1069.8,1164.4L1083.5,1105.8L1075.2,1105.8Z"/>
<path class="b19" d="M1063.6,1164.4L1066.2,1164.4L1075.2,1105.8L1066.9,1105.8L1063.6,1139.3Z"/>
<path class="b20" d="M1066.9,1105.8L1063.6,1105.8L1063.6,1139.3Z"/>
<path class="b16" d="M1091.7,1105.8L1093.4,1105.8L1093.4,1100.8Z"/>
<path class="b17" d="M1083.5,1105.8L1091.7,1105.8L1093.4,1100.8L1093.4,1075.8Z"/>
<path class="b18" d="M1075.2,1105.8L1083.5,1105.8L1093.4,1075.8L1093.4,1050.9Z"/>
<path class="b19" d="M1066.9,1105.8L1075.2,1105.8L1093.4,1050.9L1093.4,1047.1L1088.4,1047.1Z"/>
<path class="b20" d="M1063.6,1105.8L1066.9,1105.8L1088.4,1047.1L1082.6,1047.1L1063.6,1096.6Z"/>
<path class="b21" d="M1082.6,1047.1L1076.8,1047.1L1063.6,1081.4L1063.6,1096.6Z"/>
<path class="b22" d="M1076.8,1047.1L1070.9,1047.1L1063.6,1066.2L1063.6,1081.4Z"/>
<path class="b23" d="M1070.9,1047.1L1065.1,1047.1L1063.6,1050.9L1063.6,1066.2Z"/>
<path class="b24" d="M1065.1,1047.1L1063.6,1047.1L1063.6,1050.9Z"/>
<path class="b19" d="M1088.4,1047.1L1093.4,1047.1L1093.4,1030.2Z"/>
<path class="b20" d="M1082.6,1047.1L1088.4,1047.1L1093.4,1030.2L1093.4,1010.3Z"/>
<path class="b21" d="M1076.8,1047.1L1082.6,1047.1L1093.4,1010.3L1093.4,990.4Z"/>
<path class="b22" d="M1070.9,1047.1L1076.8,1047.1L1093.4,990.4L1093.4,988.5L1088.6,988.5Z"/>
<path class="b23" d="M1065.1,1047.1L1070.9,1047.1L1088.6,988.5L1083.3,988.5Z"/>
<path class="b24" d="M1063.6,1047.1L1065.1,1047.1L1083.3,988.5L1078,988.5L1063.6,1034.4Z"/>
<path class="b25" d="M1078,988.5L1072.7,988.5L1063.6,1017.4L1063.6,1034.4Z"/>
<path class="b26" d="M1072.7,988.5L1067.4,988.5L1063.6,1000.4L1063.6,1017.4Z"/>
<path class="b27" d="M1067.4,988.5L1063.6,988.5L1063.6,1000.4Z"/>
<path class="b20" d="M1076.5,929.8L1063.6,929.8L1063.6,935.7Z"/>
<path class="b21" d="M1093.4,936.1L1093.4,929.8L1076.5,929.8L1063.6,935.7L1063.6,943.6Z"/>
<path class="b22" d="M1088.6,988.5L1093.4,988.5L1093.4,936.1L1063.6,943.6L1063.6,951.5Z"/>
<path class="b23" d="M1083.3,988.5L1088.6,988.5L1063.6,951.5L1063.6,959.3Z"/>
<path class="b24" d="M1078,988.5L1083.3,988.5L1063.6,959.3L1063.6,967.2Z"/>
<path class="b25" d="M1072.7,988.5L1078,988.5L1063.6,967.2L1063.6,975.1Z"/>
<path class="b26" d="M1067.4,988.5L1072.7,988.5L1063.6,975.1L1063.6,983Z"/>
<path class="b27" d="M1063.6,988.5L1067.4,988.5L1063.6,983Z"/>
<path class="b10" d="M1066,871.2L1063.6,871.2L1063.6,872.1Z"/>
<path class="b11" d="M1082.1,871.2L1066,871.2L1063.6,872.1L1063.6,878.3Z"/>
<path class="b12" d="M1093.4,873L1093.4,871.2L1082.1,871.2L1063.6,878.3L1063.6,884.6Z"/>
<path class="b13" d="M1093.4,879.4L1093.4,873L1063.6,884.6L1063.6,890.8Z"/>
<path class="b14" d="M1093.4,885.7L1093.4,879.4L1063.6,890.8L1063.6,897Z"/>
<path class="b15" d="M1093.4,892L1093.4,885.7L1063.6,897L1063.6,903.3Z"/>
<path class="b16" d="M1093.4,898.3L1093.4,892L1063.6,903.3L1063.6,909.5Z"/>
<path class="b17" d="M1093.4,904.6L1093.4,898.3L1063.6,909.5L1063.6,915.8Z"/>
<path class="b18" d="M1093.4,910.9L1093.4,904.6L1063.6,915.8L1063.6,922Z"/>
<path class="b19" d="M1093.4,917.3L1093.4,910.9L1063.6,922L1063.6,928.2Z"/>
<path class="b20" d="M1063.6,929.8L1076.5,929.8L1093.4,923.6L1093.4,917.3L1063.6,928.2Z"/>
<path class="b21" d="M1076.5,929.8L1093.4,929.8L1093.4,923.6Z"/>
<path class="b5" d="M1064.7,812.5L1063.6,812.5L1063.6,814.8Z"/>
<path class="b6" d="M1069.9,812.5L1064.7,812.5L1063.6,814.8L1063.6,826.4Z"/>
<path class="b7" d="M1075.1,812.5L1069.9,812.5L1063.6,826.4L1063.6,838.1Z"/>
<path class="b8" d="M1080.3,812.5L1075.1,812.5L1063.6,838.1L1063.6,849.7Z"/>
<path class="b9" d="M1085.5,812.5L1080.3,812.5L1063.6,849.7L1063.6,861.3Z"/>
<path class="b10" d="M1063.6,871.2L1066,871.2L1090.8,812.5L1085.5,812.5L1063.6,861.3Z"/>
<path class="b11" d="M1066,871.2L1082.1,871.2L1093.4,836.9L1093.4,812.5L1090.8,812.5Z"/>
<path class="b12" d="M1082.1,871.2L1093.4,871.2L1093.4,836.9Z"/>
<path class="b5" d="M1063.6,812.5L1064.7,812.5L1063.6,807Z"/>
<path class="b6" d="M1064.7,812.5L1069.9,812.5L1063.6,779.8L1063.6,807Z"/>
<path class="b7" d="M1069.9,812.5L1075.1,812.5L1093.4,766.4L1093.4,753.8L1063.6,753.8L1063.6,779.8Z"/>
<path class="b8" d="M1075.1,812.5L1080.3,812.5L1093.4,779.5L1093.4,766.4Z"/>
<path class="b9" d="M1080.3,812.5L1085.5,812.5L1093.4,792.7L1093.4,779.5Z"/>
<path class="b10" d="M1085.5,812.5L1090.8,812.5L1093.4,805.9L1093.4,792.7Z"/>
<path class="b11" d="M1090.8,812.5L1093.4,812.5L1093.4,805.9Z"/>
<path class="b1" d="M1066.2,695.2L1063.6,695.2L1063.6,698.9Z"/>
<path class="b2" d="M1072.6,695.2L1066.2,695.2L1063.6,698.9L1063.6,708.1Z"/>
<path class="b3" d="M1079,695.2L1072.6,695.2L1063.6,708.1L1063.6,717.4Z"/>
<path class="b4" d="M1085.4,695.2L1079,695.2L1063.6,717.4L1063.6,726.6Z"/>
<path class="b5" d="M1091.8,695.2L1085.4,695.2L1063.6,726.6L1063.6,735.8Z"/>
<path class="b6" d="M1093.4,750.2L1093.4,695.2L1091.8,695.2L1063.6,735.8L1063.6,745.1Z"/>
<path class="b7" d="M1063.6,753.8L1093.4,753.8L1093.4,750.2L1063.6,745.1Z"/>
<path class="b1" d="M1063.6,695.2L1066.2,695.2L1091.6,636.5L1087.2,636.5L1063.6,689.2Z"/>
<path class="b2" d="M1066.2,695.2L1072.6,695.2L1093.4,645.7L1093.4,636.5L1091.6,636.5Z"/>
<path class="b3" d="M1072.6,695.2L1079,695.2L1093.4,660.9L1093.4,645.7Z"/>
<path class="b4" d="M1079,695.2L1085.4,695.2L1093.4,676.1L1093.4,660.9Z"/>
<path class="b5" d="M1085.4,695.2L1091.8,695.2L1093.4,691.4L1093.4,676.1Z"/>
<path class="b6" d="M1091.8,695.2L1093.4,695.2L1093.4,691.4Z"/>
<path class="b1" d="M1087.2,636.5L1091.6,636.5L1093.4,631.2L1093.4,617.9Z"/>
<path class="b2" d="M1091.6,636.5L1093.4,636.5L1093.4,631.2Z"/>
<path class="b1" d="M1111.5,1281.7L1109.8,1281.7L1093.4,1329.5L1093.4,1334.7Z"/>
<path class="b2" d="M1109.8,1281.7L1108,1281.7L1093.4,1324.3L1093.4,1329.5Z"/>
<path class="b3" d="M1108,1281.7L1106.2,1281.7L1093.4,1319.1L1093.4,1324.3Z"/>
<path class="b4" d="M1106.2,1281.7L1104.4,1281.7L1093.4,1313.9L1093.4,1319.1Z"/>
<path class="b5" d="M1104.4,1281.7L1102.6,1281.7L1093.4,1308.7L1093.4,1313.9Z"/>
<path class="b6" d="M1102.6,1281.7L1100.8,1281.7L1093.4,1303.5L1093.4,1308.7Z"/>
<path class="b7" d="M1100.8,1281.7L1099.1,1281.7L1093.4,1298.3L1093.4,1303.5Z"/>
<path class="b8" d="M1099.1,1281.7L1097.3,1281.7L1093.4,1293.2L1093.4,1298.3Z"/>
<path class="b9" d="M1097.3,1281.7L1095.5,1281.7L1093.4,1288L1093.4,1293.2Z"/>
<path class="b10" d="M1095.5,1281.7L1093.7,1281.7L1093.4,1282.8L1093.4,1288Z"/>
<path class="b11" d="M1093.7,1281.7L1093.4,1281.7L1093.4,1282.8Z"/>
<path class="b1" d="M1109.8,1281.7L1111.5,1281.7L1103.4,1223.1L1101.1,1223.1Z"/>
<path class="b2" d="M1108,1281.7L1109.8,1281.7L1101.1,1223.1L1098.8,1223.1Z"/>
<path class="b3" d="M1106.2,1281.7L1108,1281.7L1098.8,1223.1L1096.4,1223.1Z"/>
<path class="b4" d="M1104.4,1281.7L1106.2,1281.7L1096.4,1223.1L1094.1,1223.1Z"/>
<path class="b5" d="M1102.6,1281.7L1104.4,1281.7L1094.1,1223.1L1093.4,1223.1L1093.4,1230Z"/>
<path class="b6" d="M1100.8,1281.7L1102.6,1281.7L1093.4,1230L1093.4,1240Z"/>
<path class="b7" d="M1099.1,1281.7L1100.8,1281.7L1093.4,1240L1093.4,1249.9Z"/>
<path class="b8" d="M1097.3,1281.7L1099.1,1281.7L1093.4,1249.9L1093.4,1259.9Z"/>
<path class="b9" d="M1095.5,1281.7L1097.3,1281.7L1093.4,1259.9L1093.4,1269.8Z"/>
<path class="b10" d="M1093.7,1281.7L1095.5,1281.7L1093.4,1269.8L1093.4,1279.7Z"/>
<path class="b11" d="M1093.4,1281.7L1093.7,1281.7L1093.4,1279.7Z"/>
<path class="b1" d="M1101.1,1223.1L1103.4,1223.1L1117,1164.4L1114.8,1164.4Z"/>
<path class="b2" d="M1098.8,1223.1L1101.1,1223.1L1114.8,1164.4L1112.5,1164.4Z"/>
<path class="b3" d="M1096.4,1223.1L1098.8,1223.1L1112.5,1164.4L1110.3,1164.4Z"/>
<path class="b4" d="M1094.1,1223.1L1096.4,1223.1L1110.3,1164.4L1108,1164.4Z"/>
<path class="b5" d="M1093.4,1223.1L1094.1,1223.1L1108,1164.4L1105.8,1164.4L1093.4,1216.5Z"/>
<path class="b6" d="M1105.8,1164.4L1103.5,1164.4L1093.4,1207L1093.4,1216.5Z"/>
<path class="b7" d="M1103.5,1164.4L1101.3,1164.4L1093.4,1197.5L1093.4,1207Z"/>
<path class="b8" d="M1101.3,1164.4L1099,1164.4L1093.4,1188.1L1093.4,1197.5Z"/>
<path class="b9" d="M1099,1164.4L1096.7,1164.4L1093.4,1178.6L1093.4,1188.1Z"/>
<path class="b10" d="M1096.7,1164.4L1094.5,1164.4L1093.4,1169.2L1093.4,1178.6Z"/>
<path class="b11" d="M1094.5,1164.4L1093.4,1164.4L1093.4,1169.2Z"/>
<path class="b1" d="M1114.8,1164.4L1117,1164.4L1123.1,1130.7L1123.1,1118.2Z"/>
<path class="b2" d="M1112.5,1164.4L1114.8,1164.4L1123.1,1118.2L1123.1,1105.8Z"/>
<path class="b3" d="M1110.3,1164.4L1112.5,1164.4L1123.1,1105.8L1120.9,1105.8Z"/>
<path class="b4" d="M1108,1164.4L1110.3,1164.4L1120.9,1105.8L1118.8,1105.8Z"/>
<path class="b5" d="M1105.8,1164.4L1108,1164.4L1118.8,1105.8L1116.6,1105.8Z"/>
<path class="b6" d="M1103.5,1164.4L1105.8,1164.4L1116.6,1105.8L1114.5,1105.8Z"/>
<path class="b7" d="M1101.3,1164.4L1103.5,1164.4L1114.5,1105.8L1112.3,1105.8Z"/>
<path class="b8" d="M1099,1164.4L1101.3,1164.4L1112.3,1105.8L1110.2,1105.8Z"/>
<path class="b9" d="M1096.7,1164.4L1099,1164.4L1110.2,1105.8L1108,1105.8Z"/>
<path class="b10" d="M1094.5,1164.4L1096.7,1164.4L1108,1105.8L1105.9,1105.8Z"/>
<path class="b11" d="M1093.4,1164.4L1094.5,1164.4L1105.9,1105.8L1103.7,1105.8L1093.4,1158.9Z"/>
<path class="b12" d="M1103.7,1105.8L1101.6,1105.8L1093.4,1147.8L1093.4,1158.9Z"/>
<path class="b13" d="M1101.6,1105.8L1099.4,1105.8L1093.4,1136.8L1093.4,1147.8Z"/>
<path class="b14" d="M1099.4,1105.8L1097.2,1105.8L1093.4,1125.7L1093.4,1136.8Z"/>
<path class="b15" d="M1097.2,1105.8L1095.1,1105.8L1093.4,1114.6L1093.4,1125.7Z"/>
<path class="b16" d="M1095.1,1105.8L1093.4,1105.8L1093.4,1114.6Z"/>
<path class="b3" d="M1120.9,1105.8L1123.1,1105.8L1123.1,1101.6Z"/>
<path class="b4" d="M1118.8,1105.8L1120.9,1105.8L1123.1,1101.6L1123.1,1097.5Z"/>
<path class="b5" d="M1116.6,1105.8L1118.8,1105.8L1123.1,1097.5L1123.1,1093.4Z"/>
<path class="b6" d="M1114.5,1105.8L1116.6,1105.8L1123.1,1093.4L1123.1,1089.2Z"/>
<path class="b7" d="M1112.3,1105.8L1114.5,1105.8L1123.1,1089.2L1123.1,1085.1Z"/>
<path class="b8" d="M1110.2,1105.8L1112.3,1105.8L1123.1,1085.1L1123.1,1081Z"/>
<path class="b9" d="M1108,1105.8L1110.2,1105.8L1123.1,1081L1123.1,1076.9Z"/>
<path class="b10" d="M1105.9,1105.8L1108,1105.8L1123.1,1076.9L1123.1,1072.7Z"/>
<path class="b11" d="M1103.7,1105.8L1105.9,1105.8L1123.1,1072.7L1123.1,1068.6Z"/>
<path class="b12" d="M1101.6,1105.8L1103.7,1105.8L1123.1,1068.6L1123.1,1064.5Z"/>
<path class="b13" d="M1099.4,1105.8L1101.6,1105.8L1123.1,1064.5L1123.1,1060.3Z"/>
<path class="b14" d="M1097.2,1105.8L1099.4,1105.8L1123.1,1060.3L1123.1,1056.2Z"/>
<path class="b15" d="M1095.1,1105.8L1097.2,1105.8L1123.1,1056.2L1123.1,1052.1Z"/>
<path class="b16" d="M1093.4,1105.8L1095.1,1105.8L1123.1,1052.1L1123.1,1047.9L1093.4,1100.8Z"/>
<path class="b17" d="M1123.1,1047.9L1123.1,1047.1L1110.9,1047.1L1093.4,1075.8L1093.4,1100.8Z"/>
<path class="b18" d="M1110.9,1047.1L1095.7,1047.1L1093.4,1050.9L1093.4,1075.8Z"/>
<path class="b19" d="M1095.7,1047.1L1093.4,1047.1L1093.4,1050.9Z"/>
<path class="b17" d="M1110.9,1047.1L1123.1,1047.1L1123.1,995Z"/>
<path class="b18" d="M1095.7,1047.1L1110.9,1047.1L1123.1,995L1123.1,988.5L1116.4,988.5Z"/>
<path class="b19" d="M1093.4,1047.1L1095.7,1047.1L1116.4,988.5L1109,988.5L1093.4,1030.2Z"/>
<path class="b20" d="M1109,988.5L1101.5,988.5L1093.4,1010.3L1093.4,1030.2Z"/>
<path class="b21" d="M1101.5,988.5L1094.1,988.5L1093.4,990.4L1093.4,1010.3Z"/>
<path class="b22" d="M1094.1,988.5L1093.4,988.5L1093.4,990.4Z"/>
<path class="b6" d="M1123.1,932.1L1123.1,929.8L1122.2,929.8Z"/>
<path class="b7" d="M1123.1,937.2L1123.1,932.1L1122.2,929.8L1120.3,929.8Z"/>
<path class="b8" d="M1123.1,942.2L1123.1,937.2L1120.3,929.8L1118.4,929.8Z"/>
<path class="b9" d="M1123.1,947.3L1123.1,942.2L1118.4,929.8L1116.5,929.8Z"/>
<path class="b10" d="M1123.1,952.4L1123.1,947.3L1116.5,929.8L1114.5,929.8Z"/>
<path class="b11" d="M1123.1,957.5L1123.1,952.4L1114.5,929.8L1112.6,929.8Z"/>
<path class="b12" d="M1123.1,962.6L1123.1,957.5L1112.6,929.8L1110.7,929.8Z"/>
<path class="b13" d="M1123.1,967.6L1123.1,962.6L1110.7,929.8L1108.8,929.8Z"/>
<path class="b14" d="M1123.1,972.7L1123.1,967.6L1108.8,929.8L1106.8,929.8Z"/>
<path class="b15" d="M1123.1,977.8L1123.1,972.7L1106.8,929.8L1104.9,929.8Z"/>
<path class="b16" d="M1123.1,982.9L1123.1,977.8L1104.9,929.8L1103,929.8Z"/>
<path class="b17" d="M1123.1,988L1123.1,982.9L1103,929.8L1101.1,929.8Z"/>
<path class="b18" d="M1116.4,988.5L1123.1,988.5L1123.1,988L1101.1,929.8L1099.1,929.8Z"/>
<path class="b19" d="M1109,988.5L1116.4,988.5L1099.1,929.8L1097.2,929.8Z"/>
<path class="b20" d="M1101.5,988.5L1109,988.5L1097.2,929.8L1095.3,929.8Z"/>
<path class="b21" d="M1094.1,988.5L1101.5,988.5L1095.3,929.8L1093.4,929.8L1093.4,936.1Z"/>
<path class="b22" d="M1093.4,988.5L1094.1,988.5L1093.4,936.1Z"/>
<path class="b1" d="M1123.1,878L1123.1,871.2L1121.5,871.2Z"/>
<path class="b2" d="M1123.1,889.4L1123.1,878L1121.5,871.2L1118.9,871.2Z"/>
<path class="b3" d="M1123.1,900.8L1123.1,889.4L1118.9,871.2L1116.3,871.2Z"/>
<path class="b4" d="M1123.1,912.2L1123.1,900.8L1116.3,871.2L1113.6,871.2Z"/>
<path class="b5" d="M1123.1,923.5L1123.1,912.2L1113.6,871.2L1111,871.2Z"/>
<path class="b6" d="M1122.2,929.8L1123.1,929.8L1123.1,923.5L1111,871.2L1108.4,871.2Z"/>
<path class="b7" d="M1120.3,929.8L1122.2,929.8L1108.4,871.2L1105.7,871.2Z"/>
<path class="b8" d="M1118.4,929.8L1120.3,929.8L1105.7,871.2L1103.1,871.2Z"/>
<path class="b9" d="M1116.5,929.8L1118.4,929.8L1103.1,871.2L1100.5,871.2Z"/>
<path class="b10" d="M1114.5,929.8L1116.5,929.8L1100.5,871.2L1097.8,871.2Z"/>
<path class="b11" d="M1112.6,929.8L1114.5,929.8L1097.8,871.2L1095.2,871.2Z"/>
<path class="b12" d="M1110.7,929.8L1112.6,929.8L1095.2,871.2L1093.4,871.2L1093.4,873Z"/>
<path class="b13" d="M1108.8,929.8L1110.7,929.8L1093.4,873L1093.4,879.4Z"/>
<path class="b14" d="M1106.8,929.8L1108.8,929.8L1093.4,879.4L1093.4,885.7Z"/>
<path class="b15" d="M1104.9,929.8L1106.8,929.8L1093.4,885.7L1093.4,892Z"/>
<path class="b16" d="M1103,929.8L1104.9,929.8L1093.4,892L1093.4,898.3Z"/>
<path class="b17" d="M1101.1,929.8L1103,929.8L1093.4,898.3L1093.4,904.6Z"/>
<path class="b18" d="M1099.1,929.8L1101.1,929.8L1093.4,904.6L1093.4,910.9Z"/>
<path class="b19" d="M1097.2,929.8L1099.1,929.8L1093.4,910.9L1093.4,917.3Z"/>
<path class="b20" d="M1095.3,929.8L1097.2,929.8L1093.4,917.3L1093.4,923.6Z"/>
<path class="b21" d="M1093.4,929.8L1095.3,929.8L1093.4,923.6Z"/>
<path class="b1" d="M1121.5,871.2L1123.1,871.2L1123.1,869.1L1107.9,812.5L1106.5,812.5Z"/>
<path class="b2" d="M1118.9,871.2L1121.5,871.2L1106.5,812.5L1105.1,812.5Z"/>
<path class="b3" d="M1116.3,871.2L1118.9,871.2L1105.1,812.5L1103.7,812.5Z"/>
<path class="b4" d="M1113.6,871.2L1116.3,871.2L1103.7,812.5L1102.4,812.5Z"/>
<path class="b5" d="M1111,871.2L1113.6,871.2L1102.4,812.5L1101,812.5Z"/>
<path class="b6" d="M1108.4,871.2L1111,871.2L1101,812.5L1099.6,812.5Z"/>
<path class="b7" d="M1105.7,871.2L1108.4,871.2L1099.6,812.5L1098.2,812.5Z"/>
<path class="b8" d="M1103.1,871.2L1105.7,871.2L1098.2,812.5L1096.8,812.5Z"/>
<path class="b9" d="M1100.5,871.2L1103.1,871.2L1096.8,812.5L1095.4,812.5Z"/>
<path class="b10" d="M1097.8,871.2L1100.5,871.2L1095.4,812.5L1094.1,812.5Z"/>
<path class="b11" d="M1095.2,871.2L1097.8,871.2L1094.1,812.5L1093.4,812.5L1093.4,836.9Z"/>
<path class="b12" d="M1093.4,871.2L1095.2,871.2L1093.4,836.9Z"/>
<path class="b1" d="M1106.5,812.5L1107.9,812.5L1111.3,753.8L1108.3,753.8Z"/>
<path class="b2" d="M1105.1,812.5L1106.5,812.5L1108.3,753.8L1105.4,753.8Z"/>
<path class="b3" d="M1103.7,812.5L1105.1,812.5L1105.4,753.8L1102.4,753.8Z"/>
<path class="b4" d="M1102.4,812.5L1103.7,812.5L1102.4,753.8L1099.4,753.8Z"/>
<path class="b5" d="M1101,812.5L1102.4,812.5L1099.4,753.8L1096.5,753.8Z"/>
<path class="b6" d="M1099.6,812.5L1101,812.5L1096.5,753.8L1093.5,753.8Z"/>
<path class="b7" d="M1098.2,812.5L1099.6,812.5L1093.5,753.8L1093.4,753.8L1093.4,766.4Z"/>
<path class="b8" d="M1096.8,812.5L1098.2,812.5L1093.4,766.4L1093.4,779.5Z"/>
<path class="b9" d="M1095.4,812.5L1096.8,812.5L1093.4,779.5L1093.4,792.7Z"/>
<path class="b10" d="M1094.1,812.5L1095.4,812.5L1093.4,792.7L1093.4,805.9Z"/>
<path class="b11" d="M1093.4,812.5L1094.1,812.5L1093.4,805.9Z"/>
<path class="b1" d="M1108.3,753.8L1111.3,753.8L1116.8,695.2L1112.4,695.2Z"/>
<path class="b2" d="M1105.4,753.8L1108.3,753.8L1112.4,695.2L1107.9,695.2Z"/>
<path class="b3" d="M1102.4,753.8L1105.4,753.8L1107.9,695.2L1103.4,695.2Z"/>
<path class="b4" d="M1099.4,753.8L1102.4,753.8L1103.4,695.2L1099,695.2Z"/>
<path class="b5" d="M1096.5,753.8L1099.4,753.8L1099,695.2L1094.5,695.2Z"/>
<path class="b6" d="M1093.5,753.8L1096.5,753.8L1094.5,695.2L1093.4,695.2L1093.4,750.2Z"/>
<path class="b7" d="M1093.4,753.8L1093.5,753.8L1093.4,750.2Z"/>
<path class="b1" d="M1112.4,695.2L1116.8,695.2L1099.2,636.5L1095,636.5Z"/>
<path class="b2" d="M1107.9,695.2L1112.4,695.2L1095,636.5L1093.4,636.5L1093.4,645.7Z"/>
<path class="b3" d="M1103.4,695.2L1107.9,695.2L1093.4,645.7L1093.4,660.9Z"/>
<path class="b4" d="M1099,695.2L1103.4,695.2L1093.4,660.9L1093.4,676.1Z"/>
<path class="b5" d="M1094.5,695.2L1099,695.2L1093.4,676.1L1093.4,691.4Z"/>
<path class="b6" d="M1093.4,695.2L1094.5,695.2L1093.4,691.4Z"/>
<path class="b1" d="M1095,636.5L1099.2,636.5L1093.4,617.9L1093.4,631.2Z"/>
<path class="b2" d="M1093.4,636.5L1095,636.5L1093.4,631.2Z"/>
<path class="b1" d="M1126.4,1105.8L1124.8,1105.8L1123.1,1118.2L1123.1,1130.7Z"/>
<path class="b2" d="M1124.8,1105.8L1123.1,1105.8L1123.1,1118.2Z"/>
<path class="b1" d="M1124.8,1105.8L1126.4,1105.8L1146.4,1047.1L1144.9,1047.1Z"/>
<path class="b2" d="M1123.1,1105.8L1124.8,1105.8L1144.9,1047.1L1143.5,1047.1Z"/>
<path class="b3" d="M1123.1,1105.8L1143.5,1047.1L1142.1,1047.1L1123.1,1101.6Z"/>
<path class="b4" d="M1142.1,1047.1L1140.6,1047.1L1123.1,1097.5L1123.1,1101.6Z"/>
<path class="b5" d="M1140.6,1047.1L1139.2,1047.1L1123.1,1093.4L1123.1,1097.5Z"/>
<path class="b6" d="M1139.2,1047.1L1137.8,1047.1L1123.1,1089.2L1123.1,1093.4Z"/>
<path class="b7" d="M1137.8,1047.1L1136.3,1047.1L1123.1,1085.1L1123.1,1089.2Z"/>
<path class="b8" d="M1136.3,1047.1L1134.9,1047.1L1123.1,1081L1123.1,1085.1Z"/>
<path class="b9" d="M1134.9,1047.1L1133.4,1047.1L1123.1,1076.9L1123.1,1081Z"/>
<path class="b10" d="M1133.4,1047.1L1132,1047.1L1123.1,1072.7L1123.1,1076.9Z"/>
<path class="b11" d="M1132,1047.1L1130.6,1047.1L1123.1,1068.6L1123.1,1072.7Z"/>
<path class="b12" d="M1130.6,1047.1L1129.1,1047.1L1123.1,1064.5L1123.1,1068.6Z"/>
<path class="b13" d="M1129.1,1047.1L1127.7,1047.1L1123.1,1060.3L1123.1,1064.5Z"/>
<path class="b14" d="M1127.7,1047.1L1126.3,1047.1L1123.1,1056.2L1123.1,1060.3Z"/>
<path class="b15" d="M1126.3,1047.1L1124.8,1047.1L1123.1,1052.1L1123.1,1056.2Z"/>
<path class="b16" d="M1124.8,1047.1L1123.4,1047.1L1123.1,1047.9L1123.1,1052.1Z"/>
<path class="b17" d="M1123.4,1047.1L1123.1,1047.1L1123.1,1047.9Z"/>
<path class="b1" d="M1144.9,1047.1L1146.4,1047.1L1152.8,1008.3L1152.8,999.7Z"/>
<path class="b2" d="M1143.5,1047.1L1144.9,1047.1L1152.8,999.7L1152.8,991Z"/>
<path class="b3" d="M1142.1,1047.1L1143.5,1047.1L1152.8,991L1152.8,988.5L1151.4,988.5Z"/>
<path class="b4" d="M1140.6,1047.1L1142.1,1047.1L1151.4,988.5L1149.4,988.5Z"/>
<path class="b5" d="M1139.2,1047.1L1140.6,1047.1L1149.4,988.5L1147.4,988.5Z"/>
<path class="b6" d="M1137.8,1047.1L1139.2,1047.1L1147.4,988.5L1145.4,988.5Z"/>
<path class="b7" d="M1136.3,1047.1L1137.8,1047.1L1145.4,988.5L1143.4,988.5Z"/>
<path class="b8" d="M1134.9,1047.1L1136.3,1047.1L1143.4,988.5L1141.4,988.5Z"/>
<path class="b9" d="M1133.4,1047.1L1134.9,1047.1L1141.4,988.5L1139.4,988.5Z"/>
<path class="b10" d="M1132,1047.1L1133.4,1047.1L1139.4,988.5L1137.4,988.5Z"/>
<path class="b11" d="M1130.6,1047.1L1132,1047.1L1137.4,988.5L1135.4,988.5Z"/>
<path class="b12" d="M1129.1,1047.1L1130.6,1047.1L1135.4,988.5L1133.4,988.5Z"/>
<path class="b13" d="M1127.7,1047.1L1129.1,1047.1L1133.4,988.5L1131.3,988.5Z"/>
<path class="b14" d="M1126.3,1047.1L1127.7,1047.1L1131.3,988.5L1129.3,988.5Z"/>
<path class="b15" d="M1124.8,1047.1L1126.3,1047.1L1129.3,988.5L1127.3,988.5Z"/>
<path class="b16" d="M1123.4,1047.1L1124.8,1047.1L1127.3,988.5L1125.3,988.5Z"/>
<path class="b17" d="M1123.1,1047.1L1123.4,1047.1L1125.3,988.5L1123.3,988.5L1123.1,995Z"/>
<path class="b18" d="M1123.3,988.5L1123.1,988.5L1123.1,995Z"/>
<path class="b3" d="M1151.4,988.5L1152.8,988.5L1152.8,973.5Z"/>
<path class="b4" d="M1149.4,988.5L1151.4,988.5L1152.8,973.5L1152.8,952.1Z"/>
<path class="b5" d="M1147.4,988.5L1149.4,988.5L1152.8,952.1L1152.8,930.7Z"/>
<path class="b6" d="M1145.4,988.5L1147.4,988.5L1152.8,930.7L1152.8,929.8L1123.1,929.8L1123.1,932.1Z"/>
<path class="b7" d="M1143.4,988.5L1145.4,988.5L1123.1,932.1L1123.1,937.2Z"/>
<path class="b8" d="M1141.4,988.5L1143.4,988.5L1123.1,937.2L1123.1,942.2Z"/>
<path class="b9" d="M1139.4,988.5L1141.4,988.5L1123.1,942.2L1123.1,947.3Z"/>
<path class="b10" d="M1137.4,988.5L1139.4,988.5L1123.1,947.3L1123.1,952.4Z"/>
<path class="b11" d="M1135.4,988.5L1137.4,988.5L1123.1,952.4L1123.1,957.5Z"/>
<path class="b12" d="M1133.4,988.5L1135.4,988.5L1123.1,957.5L1123.1,962.6Z"/>
<path class="b13" d="M1131.3,988.5L1133.4,988.5L1123.1,962.6L1123.1,967.6Z"/>
<path class="b14" d="M1129.3,988.5L1131.3,988.5L1123.1,967.6L1123.1,972.7Z"/>
<path class="b15" d="M1127.3,988.5L1129.3,988.5L1123.1,972.7L1123.1,977.8Z"/>
<path class="b16" d="M1125.3,988.5L1127.3,988.5L1123.1,977.8L1123.1,982.9Z"/>
<path class="b17" d="M1123.3,988.5L1125.3,988.5L1123.1,982.9L1123.1,988Z"/>
<path class="b18" d="M1123.1,988.5L1123.3,988.5L1123.1,988Z"/>
<path class="b1" d="M1152.8,912.9L1152.8,908.8L1124.4,871.2L1123.1,871.2L1123.1,878Z"/>
<path class="b2" d="M1152.8,917.1L1152.8,912.9L1123.1,878L1123.1,889.4Z"/>
<path class="b3" d="M1152.8,921.3L1152.8,917.1L1123.1,889.4L1123.1,900.8Z"/>
<path class="b4" d="M1152.8,925.5L1152.8,921.3L1123.1,900.8L1123.1,912.2Z"/>
<path class="b5" d="M1152.8,929.6L1152.8,925.5L1123.1,912.2L1123.1,923.5Z"/>
<path class="b6" d="M1123.1,929.8L1152.8,929.8L1152.8,929.6L1123.1,923.5Z"/>
<path class="b1" d="M1123.1,871.2L1124.4,871.2L1123.1,869.1Z"/>
<path class="b1" d="M1163.5,988.5L1158.9,988.5L1152.8,999.7L1152.8,1008.3Z"/>
<path class="b2" d="M1158.9,988.5L1154.2,988.5L1152.8,991L1152.8,999.7Z"/>
<path class="b3" d="M1154.2,988.5L1152.8,988.5L1152.8,991Z"/>
<path class="b1" d="M1158.9,988.5L1163.5,988.5L1182.6,947L1182.6,936.9Z"/>
<path class="b2" d="M1154.2,988.5L1158.9,988.5L1182.6,936.9L1182.6,929.8L1179.9,929.8Z"/>
<path class="b3" d="M1152.8,988.5L1154.2,988.5L1179.9,929.8L1171,929.8L1152.8,973.5Z"/>
<path class="b4" d="M1171,929.8L1162.1,929.8L1152.8,952.1L1152.8,973.5Z"/>
<path class="b5" d="M1162.1,929.8L1153.2,929.8L1152.8,930.7L1152.8,952.1Z"/>
<path class="b6" d="M1153.2,929.8L1152.8,929.8L1152.8,930.7Z"/>
<path class="b1" d="M1182.6,911.6L1182.6,885.5L1152.8,908.8L1152.8,912.9Z"/>
<path class="b2" d="M1179.9,929.8L1182.6,929.8L1182.6,911.6L1152.8,912.9L1152.8,917.1Z"/>
<path class="b3" d="M1171,929.8L1179.9,929.8L1152.8,917.1L1152.8,921.3Z"/>
<path class="b4" d="M1162.1,929.8L1171,929.8L1152.8,921.3L1152.8,925.5Z"/>
<path class="b5" d="M1153.2,929.8L1162.1,929.8L1152.8,925.5L1152.8,929.6Z"/>
<path class="b6" d="M1152.8,929.8L1153.2,929.8L1152.8,929.6Z"/>
<path class="b1" d="M1212.3,1052.1L1212.3,1047.1L1209.8,1047.1Z"/>
<path class="b1" d="M1209.8,1047.1L1212.3,1047.1L1202.3,988.5L1198.4,988.5Z"/>
<path class="b2" d="M1212.3,1047.1L1212.3,1024.6L1206.1,988.5L1202.3,988.5Z"/>
<path class="b3" d="M1212.3,1024.6L1212.3,1002L1210,988.5L1206.1,988.5Z"/>
<path class="b4" d="M1212.3,1002L1212.3,988.5L1210,988.5Z"/>
<path class="b1" d="M1198.4,988.5L1202.3,988.5L1182.6,936.9L1182.6,947Z"/>
<path class="b2" d="M1202.3,988.5L1206.1,988.5L1193.7,929.8L1182.6,929.8L1182.6,936.9Z"/>
<path class="b3" d="M1206.1,988.5L1210,988.5L1212.3,956.5L1212.3,929.8L1193.7,929.8Z"/>
<path class="b4" d="M1210,988.5L1212.3,988.5L1212.3,956.5Z"/>
<path class="b1" d="M1212.3,895.8L1212.3,873.2L1182.6,885.5L1182.6,911.6Z"/>
<path class="b2" d="M1182.6,929.8L1193.7,929.8L1212.3,918.5L1212.3,895.8L1182.6,911.6Z"/>
<path class="b3" d="M1193.7,929.8L1212.3,929.8L1212.3,918.5Z"/>
<path class="b1" d="M1216,1047.1L1212.3,1047.1L1212.3,1052.1Z"/>
<path class="b1" d="M1212.3,1047.1L1216,1047.1L1226.4,988.5L1222.5,988.5Z"/>
<path class="b2" d="M1212.3,1047.1L1222.5,988.5L1218.6,988.5L1212.3,1024.6Z"/>
<path class="b3" d="M1218.6,988.5L1214.7,988.5L1212.3,1002L1212.3,1024.6Z"/>
<path class="b4" d="M1214.7,988.5L1212.3,988.5L1212.3,1002Z"/>
<path class="b1" d="M1222.5,988.5L1226.4,988.5L1242,929.8L1230.1,929.8Z"/>
<path class="b2" d="M1218.6,988.5L1222.5,988.5L1230.1,929.8L1218.3,929.8Z"/>
<path class="b3" d="M1214.7,988.5L1218.6,988.5L1218.3,929.8L1212.3,929.8L1212.3,956.5Z"/>
<path class="b4" d="M1212.3,988.5L1214.7,988.5L1212.3,956.5Z"/>
<path class="b1" d="M1230.1,929.8L1242,929.8L1212.3,873.2L1212.3,895.8Z"/>
<path class="b2" d="M1218.3,929.8L1230.1,929.8L1212.3,895.8L1212.3,918.5Z"/>
<path class="b3" d="M1212.3,929.8L1218.3,929.8L1212.3,918.5Z"/>
<path class="b1" d="M1301.5,1038.7L1301.5,1014.8L1297.6,988.5L1294,988.5Z"/>
<path class="b2" d="M1301.5,1014.8L1301.5,990.9L1301.2,988.5L1297.6,988.5Z"/>
<path class="b3" d="M1301.5,990.9L1301.5,988.5L1301.2,988.5Z"/>
<path class="b1" d="M1294,988.5L1297.6,988.5L1300.3,929.8L1297.4,929.8Z"/>
<path class="b2" d="M1297.6,988.5L1301.2,988.5L1301.5,980.1L1301.5,929.8L1300.3,929.8Z"/>
<path class="b3" d="M1301.2,988.5L1301.5,988.5L1301.5,980.1Z"/>
<path class="b1" d="M1297.4,929.8L1300.3,929.8L1301.5,916L1301.5,881.5Z"/>
<path class="b2" d="M1300.3,929.8L1301.5,929.8L1301.5,916Z"/>
<path class="b1" d="M1308,988.5L1304.9,988.5L1301.5,1014.8L1301.5,1038.7Z"/>
<path class="b2" d="M1304.9,988.5L1301.8,988.5L1301.5,990.9L1301.5,1014.8Z"/>
<path class="b3" d="M1301.8,988.5L1301.5,988.5L1301.5,990.9Z"/>
<path class="b1" d="M1304.9,988.5L1308,988.5L1304.9,929.8L1302.5,929.8Z"/>
<path class="b2" d="M1301.8,988.5L1304.9,988.5L1302.5,929.8L1301.5,929.8L1301.5,980.1Z"/>
<path class="b3" d="M1301.5,988.5L1301.8,988.5L1301.5,980.1Z"/>
<path class="b1" d="M1302.5,929.8L1304.9,929.8L1301.5,881.5L1301.5,916Z"/>
<path class="b2" d="M1301.5,929.8L1302.5,929.8L1301.5,916Z"/>
<path class="b1" d="M1361,1012.2L1361,1006.2L1353.2,988.5L1350.6,988.5Z"/>
<path class="b2" d="M1361,1006.2L1361,1000.3L1355.8,988.5L1353.2,988.5Z"/>
<path class="b3" d="M1361,1000.3L1361,994.4L1358.4,988.5L1355.8,988.5Z"/>
<path class="b4" d="M1361,994.4L1361,988.5L1358.4,988.5Z"/>
<path class="b1" d="M1350.6,988.5L1353.2,988.5L1356.7,929.8L1354.6,929.8Z"/>
<path class="b2" d="M1353.2,988.5L1355.8,988.5L1358.9,929.8L1356.7,929.8Z"/>
<path class="b3" d="M1355.8,988.5L1358.4,988.5L1361,929.8L1358.9,929.8Z"/>
<path class="b4" d="M1358.4,988.5L1361,988.5L1361,929.8Z"/>
<path class="b1" d="M1354.6,929.8L1356.7,929.8L1361,919.5L1361,914.4Z"/>
<path class="b2" d="M1356.7,929.8L1358.9,929.8L1361,924.7L1361,919.5Z"/>
<path class="b3" d="M1358.9,929.8L1361,929.8L1361,924.7Z"/>
<path class="b1" d="M1390.7,1035L1390.7,1024.9L1361,1006.2L1361,1012.2Z"/>
<path class="b2" d="M1390.7,1024.9L1390.7,1014.8L1361,1000.3L1361,1006.2Z"/>
<path class="b3" d="M1390.7,1014.8L1390.7,1004.6L1361,994.4L1361,1000.3Z"/>
<path class="b4" d="M1390.7,1004.6L1390.7,994.5L1361,988.5L1361,994.4Z"/>
<path class="b5" d="M1390.7,994.5L1390.7,988.5L1361,988.5Z"/>
<path class="b1" d="M1390.7,941.5L1390.7,929.8L1381.5,929.8Z"/>
<path class="b2" d="M1390.7,954.6L1390.7,941.5L1381.5,929.8L1371.2,929.8Z"/>
<path class="b3" d="M1390.7,967.6L1390.7,954.6L1371.2,929.8L1361,929.8Z"/>
<path class="b4" d="M1361,988.5L1390.7,980.6L1390.7,967.6L1361,929.8Z"/>
<path class="b5" d="M1361,988.5L1390.7,988.5L1390.7,980.6Z"/>
<path class="b1" d="M1381.5,929.8L1390.7,929.8L1390.7,929.4L1361,914.4L1361,919.5Z"/>
<path class="b2" d="M1371.2,929.8L1381.5,929.8L1361,919.5L1361,924.7Z"/>
<path class="b3" d="M1361,929.8L1371.2,929.8L1361,924.7Z"/>
<path class="b1" d="M1401.4,988.5L1399.1,988.5L1390.7,1024.9L1390.7,1035Z"/>
<path class="b2" d="M1399.1,988.5L1396.8,988.5L1390.7,1014.8L1390.7,1024.9Z"/>
<path class="b3" d="M1396.8,988.5L1394.4,988.5L1390.7,1004.6L1390.7,1014.8Z"/>
<path class="b4" d="M1394.4,988.5L1392.1,988.5L1390.7,994.5L1390.7,1004.6Z"/>
<path class="b5" d="M1392.1,988.5L1390.7,988.5L1390.7,994.5Z"/>
<path class="b1" d="M1399.1,988.5L1401.4,988.5L1391,929.8L1390.7,929.8L1390.7,941.5Z"/>
<path class="b2" d="M1396.8,988.5L1399.1,988.5L1390.7,941.5L1390.7,954.6Z"/>
<path class="b3" d="M1394.4,988.5L1396.8,988.5L1390.7,954.6L1390.7,967.6Z"/>
<path class="b4" d="M1392.1,988.5L1394.4,988.5L1390.7,967.6L1390.7,980.6Z"/>
<path class="b5" d="M1390.7,988.5L1392.1,988.5L1390.7,980.6Z"/>
<path class="b1" d="M1390.7,929.8L1391,929.8L1390.7,929.4Z"/>
<path class="b1" d="M1866.5,939.6L1866.5,929.8L1865.9,929.8Z"/>
<path class="b1" d="M1865.9,929.8L1866.5,929.8L1866.5,920Z"/>
<path class="b1" d="M1867.1,929.8L1866.5,929.8L1866.5,939.6Z"/>
<path class="b1" d="M1866.5,929.8L1867.1,929.8L1866.5,920Z"/>
<path class="b1" d="M1955.7,1263.9L1955.7,1259.6L1936.7,1223.1L1934.5,1223.1Z"/>
<path class="b2" d="M1955.7,1259.6L1955.7,1255.4L1938.9,1223.1L1936.7,1223.1Z"/>
<path class="b3" d="M1955.7,1255.4L1955.7,1251.1L1941.1,1223.1L1938.9,1223.1Z"/>
<path class="b4" d="M1955.7,1251.1L1955.7,1246.9L1943.3,1223.1L1941.1,1223.1Z"/>
<path class="b5" d="M1955.7,1246.9L1955.7,1242.6L1945.5,1223.1L1943.3,1223.1Z"/>
<path class="b6" d="M1955.7,1242.6L1955.7,1238.4L1947.7,1223.1L1945.5,1223.1Z"/>
<path class="b7" d="M1955.7,1238.4L1955.7,1234.1L1950,1223.1L1947.7,1223.1Z"/>
<path class="b8" d="M1955.7,1234.1L1955.7,1229.9L1952.2,1223.1L1950,1223.1Z"/>
<path class="b9" d="M1955.7,1229.9L1955.7,1225.6L1954.4,1223.1L1952.2,1223.1Z"/>
<path class="b10" d="M1955.7,1225.6L1955.7,1223.1L1954.4,1223.1Z"/>
<path class="b1" d="M1934.5,1223.1L1936.7,1223.1L1936.8,1164.4L1935.5,1164.4Z"/>
<path class="b2" d="M1936.7,1223.1L1938.9,1223.1L1938,1164.4L1936.8,1164.4Z"/>
<path class="b3" d="M1938.9,1223.1L1941.1,1223.1L1939.3,1164.4L1938,1164.4Z"/>
<path class="b4" d="M1941.1,1223.1L1943.3,1223.1L1940.6,1164.4L1939.3,1164.4Z"/>
<path class="b5" d="M1943.3,1223.1L1945.5,1223.1L1941.9,1164.4L1940.6,1164.4Z"/>
<path class="b6" d="M1945.5,1223.1L1947.7,1223.1L1943.2,1164.4L1941.9,1164.4Z"/>
<path class="b7" d="M1947.7,1223.1L1950,1223.1L1944.5,1164.4L1943.2,1164.4Z"/>
<path class="b8" d="M1950,1223.1L1952.2,1223.1L1945.8,1164.4L1944.5,1164.4Z"/>
<path class="b9" d="M1952.2,1223.1L1954.4,1223.1L1947.1,1164.4L1945.8,1164.4Z"/>
<path class="b10" d="M1954.4,1223.1L1955.7,1223.1L1955.7,1219.2L1948.3,1164.4L1947.1,1164.4Z"/>
<path class="b11" d="M1955.7,1219.2L1955.7,1209.6L1949.6,1164.4L1948.3,1164.4Z"/>
<path class="b12" d="M1955.7,1209.6L1955.7,1200L1950.9,1164.4L1949.6,1164.4Z"/>
<path class="b13" d="M1955.7,1200L1955.7,1190.4L1952.2,1164.4L1950.9,1164.4Z"/>
<path class="b14" d="M1955.7,1190.4L1955.7,1180.8L1953.5,1164.4L1952.2,1164.4Z"/>
<path class="b15" d="M1955.7,1180.8L1955.7,1171.2L1954.8,1164.4L1953.5,1164.4Z"/>
<path class="b16" d="M1955.7,1171.2L1955.7,1164.4L1954.8,1164.4Z"/>
<path class="b1" d="M1935.5,1164.4L1936.8,1164.4L1930.7,1105.8L1929.2,1105.8Z"/>
<path class="b2" d="M1936.8,1164.4L1938,1164.4L1932.3,1105.8L1930.7,1105.8Z"/>
<path class="b3" d="M1938,1164.4L1939.3,1164.4L1933.8,1105.8L1932.3,1105.8Z"/>
<path class="b4" d="M1939.3,1164.4L1940.6,1164.4L1935.4,1105.8L1933.8,1105.8Z"/>
<path class="b5" d="M1940.6,1164.4L1941.9,1164.4L1936.9,1105.8L1935.4,1105.8Z"/>
<path class="b6" d="M1941.9,1164.4L1943.2,1164.4L1938.5,1105.8L1936.9,1105.8Z"/>
<path class="b7" d="M1943.2,1164.4L1944.5,1164.4L1940,1105.8L1938.5,1105.8Z"/>
<path class="b8" d="M1944.5,1164.4L1945.8,1164.4L1941.6,1105.8L1940,1105.8Z"/>
<path class="b9" d="M1945.8,1164.4L1947.1,1164.4L1943.1,1105.8L1941.6,1105.8Z"/>
<path class="b10" d="M1947.1,1164.4L1948.3,1164.4L1944.7,1105.8L1943.1,1105.8Z"/>
<path class="b11" d="M1948.3,1164.4L1949.6,1164.4L1946.2,1105.8L1944.7,1105.8Z"/>
<path class="b12" d="M1949.6,1164.4L1950.9,1164.4L1947.8,1105.8L1946.2,1105.8Z"/>
<path class="b13" d="M1950.9,1164.4L1952.2,1164.4L1949.3,1105.8L1947.8,1105.8Z"/>
<path class="b14" d="M1952.2,1164.4L1953.5,1164.4L1950.9,1105.8L1949.3,1105.8Z"/>
<path class="b15" d="M1953.5,1164.4L1954.8,1164.4L1952.4,1105.8L1950.9,1105.8Z"/>
<path class="b16" d="M1954.8,1164.4L1955.7,1164.4L1955.7,1151.9L1954,1105.8L1952.4,1105.8Z"/>
<path class="b17" d="M1955.7,1151.9L1955.7,1110L1955.5,1105.8L1954,1105.8Z"/>
<path class="b18" d="M1955.7,1110L1955.7,1105.8L1955.5,1105.8Z"/>
<path class="b1" d="M1929.2,1105.8L1930.7,1105.8L1932.2,1047.1L1931.2,1047.1Z"/>
<path class="b2" d="M1930.7,1105.8L1932.3,1105.8L1933.3,1047.1L1932.2,1047.1Z"/>
<path class="b3" d="M1932.3,1105.8L1933.8,1105.8L1934.3,1047.1L1933.3,1047.1Z"/>
<path class="b4" d="M1933.8,1105.8L1935.4,1105.8L1935.4,1047.1L1934.3,1047.1Z"/>
<path class="b5" d="M1935.4,1105.8L1936.9,1105.8L1936.4,1047.1L1935.4,1047.1Z"/>
<path class="b6" d="M1936.9,1105.8L1938.5,1105.8L1937.5,1047.1L1936.4,1047.1Z"/>
<path class="b7" d="M1938.5,1105.8L1940,1105.8L1938.5,1047.1L1937.5,1047.1Z"/>
<path class="b8" d="M1940,1105.8L1941.6,1105.8L1939.6,1047.1L1938.5,1047.1Z"/>
<path class="b9" d="M1941.6,1105.8L1943.1,1105.8L1940.6,1047.1L1939.6,1047.1Z"/>
<path class="b10" d="M1943.1,1105.8L1944.7,1105.8L1941.6,1047.1L1940.6,1047.1Z"/>
<path class="b11" d="M1944.7,1105.8L1946.2,1105.8L1942.7,1047.1L1941.6,1047.1Z"/>
<path class="b12" d="M1946.2,1105.8L1947.8,1105.8L1943.7,1047.1L1942.7,1047.1Z"/>
<path class="b13" d="M1947.8,1105.8L1949.3,1105.8L1944.8,1047.1L1943.7,1047.1Z"/>
<path class="b14" d="M1949.3,1105.8L1950.9,1105.8L1945.8,1047.1L1944.8,1047.1Z"/>
<path class="b15" d="M1950.9,1105.8L1952.4,1105.8L1946.9,1047.1L1945.8,1047.1Z"/>
<path class="b16" d="M1952.4,1105.8L1954,1105.8L1947.9,1047.1L1946.9,1047.1Z"/>
<path class="b17" d="M1954,1105.8L1955.5,1105.8L1949,1047.1L1947.9,1047.1Z"/>
<path class="b18" d="M1955.5,1105.8L1955.7,1105.8L1955.7,1097.4L1950,1047.1L1949,1047.1Z"/>
<path class="b19" d="M1955.7,1097.4L1955.7,1088.1L1951.1,1047.1L1950,1047.1Z"/>
<path class="b20" d="M1955.7,1088.1L1955.7,1078.8L1952.1,1047.1L1951.1,1047.1Z"/>
<path class="b21" d="M1955.7,1078.8L1955.7,1069.5L1953.2,1047.1L1952.1,1047.1Z"/>
<path class="b22" d="M1955.7,1069.5L1955.7,1060.1L1954.2,1047.1L1953.2,1047.1Z"/>
<path class="b23" d="M1955.7,1060.1L1955.7,1050.8L1955.3,1047.1L1954.2,1047.1Z"/>
<path class="b24" d="M1955.7,1050.8L1955.7,1047.1L1955.3,1047.1Z"/>
<path class="b1" d="M1931.2,1047.1L1932.2,1047.1L1934.5,988.5L1933.6,988.5Z"/>
<path class="b2" d="M1932.2,1047.1L1933.3,1047.1L1935.4,988.5L1934.5,988.5Z"/>
<path class="b3" d="M1933.3,1047.1L1934.3,1047.1L1936.3,988.5L1935.4,988.5Z"/>
<path class="b4" d="M1934.3,1047.1L1935.4,1047.1L1937.2,988.5L1936.3,988.5Z"/>
<path class="b5" d="M1935.4,1047.1L1936.4,1047.1L1938.1,988.5L1937.2,988.5Z"/>
<path class="b6" d="M1936.4,1047.1L1937.5,1047.1L1939,988.5L1938.1,988.5Z"/>
<path class="b7" d="M1937.5,1047.1L1938.5,1047.1L1939.9,988.5L1939,988.5Z"/>
<path class="b8" d="M1938.5,1047.1L1939.6,1047.1L1940.8,988.5L1939.9,988.5Z"/>
<path class="b9" d="M1939.6,1047.1L1940.6,1047.1L1941.7,988.5L1940.8,988.5Z"/>
<path class="b10" d="M1940.6,1047.1L1941.6,1047.1L1942.6,988.5L1941.7,988.5Z"/>
<path class="b11" d="M1941.6,1047.1L1942.7,1047.1L1943.5,988.5L1942.6,988.5Z"/>
<path class="b12" d="M1942.7,1047.1L1943.7,1047.1L1944.4,988.5L1943.5,988.5Z"/>
<path class="b13" d="M1943.7,1047.1L1944.8,1047.1L1945.3,988.5L1944.4,988.5Z"/>
<path class="b14" d="M1944.8,1047.1L1945.8,1047.1L1946.2,988.5L1945.3,988.5Z"/>
<path class="b15" d="M1945.8,1047.1L1946.9,1047.1L1947.2,988.5L1946.2,988.5Z"/>
<path class="b16" d="M1946.9,1047.1L1947.9,1047.1L1948.1,988.5L1947.2,988.5Z"/>
<path class="b17" d="M1947.9,1047.1L1949,1047.1L1949,988.5L1948.1,988.5Z"/>
<path class="b18" d="M1949,1047.1L1950,1047.1L1949.9,988.5L1949,988.5Z"/>
<path class="b19" d="M1950,1047.1L1951.1,1047.1L1950.8,988.5L1949.9,988.5Z"/>
<path class="b20" d="M1951.1,1047.1L1952.1,1047.1L1951.7,988.5L1950.8,988.5Z"/>
<path class="b21" d="M1952.1,1047.1L1953.2,1047.1L1952.6,988.5L1951.7,988.5Z"/>
<path class="b22" d="M1953.2,1047.1L1954.2,1047.1L1953.5,988.5L1952.6,988.5Z"/>
<path class="b23" d="M1954.2,1047.1L1955.3,1047.1L1954.4,988.5L1953.5,988.5Z"/>
<path class="b24" d="M1955.3,1047.1L1955.7,1047.1L1955.7,1013.6L1955.3,988.5L1954.4,988.5Z"/>
<path class="b25" d="M1955.7,1013.6L1955.7,988.5L1955.3,988.5Z"/>
<path class="b1" d="M1933.6,988.5L1934.5,988.5L1939.4,929.8L1937.4,929.8Z"/>
<path class="b2" d="M1934.5,988.5L1935.4,988.5L1941.4,929.8L1939.4,929.8Z"/>
<path class="b3" d="M1935.4,988.5L1936.3,988.5L1943.4,929.8L1941.4,929.8Z"/>
<path class="b4" d="M1936.3,988.5L1937.2,988.5L1945.4,929.8L1943.4,929.8Z"/>
<path class="b5" d="M1937.2,988.5L1938.1,988.5L1947.4,929.8L1945.4,929.8Z"/>
<path class="b6" d="M1938.1,988.5L1939,988.5L1949.3,929.8L1947.4,929.8Z"/>
<path class="b7" d="M1939,988.5L1939.9,988.5L1951.3,929.8L1949.3,929.8Z"/>
<path class="b8" d="M1939.9,988.5L1940.8,988.5L1953.3,929.8L1951.3,929.8Z"/>
<path class="b9" d="M1940.8,988.5L1941.7,988.5L1955.3,929.8L1953.3,929.8Z"/>
<path class="b10" d="M1941.7,988.5L1942.6,988.5L1955.7,932.9L1955.7,929.8L1955.3,929.8Z"/>
<path class="b11" d="M1942.6,988.5L1943.5,988.5L1955.7,936.7L1955.7,932.9Z"/>
<path class="b12" d="M1943.5,988.5L1944.4,988.5L1955.7,940.6L1955.7,936.7Z"/>
<path class="b13" d="M1944.4,988.5L1945.3,988.5L1955.7,944.4L1955.7,940.6Z"/>
<path class="b14" d="M1945.3,988.5L1946.2,988.5L1955.7,948.3L1955.7,944.4Z"/>
<path class="b15" d="M1946.2,988.5L1947.2,988.5L1955.7,952.1L1955.7,948.3Z"/>
<path class="b16" d="M1947.2,988.5L1948.1,988.5L1955.7,956L1955.7,952.1Z"/>
<path class="b17" d="M1948.1,988.5L1949,988.5L1955.7,959.8L1955.7,956Z"/>
<path class="b18" d="M1949,988.5L1949.9,988.5L1955.7,963.7L1955.7,959.8Z"/>
<path class="b19" d="M1949.9,988.5L1950.8,988.5L1955.7,967.5L1955.7,963.7Z"/>
<path class="b20" d="M1950.8,988.5L1951.7,988.5L1955.7,971.3L1955.7,967.5Z"/>
<path class="b21" d="M1951.7,988.5L1952.6,988.5L1955.7,975.2L1955.7,971.3Z"/>
<path class="b22" d="M1952.6,988.5L1953.5,988.5L1955.7,979L1955.7,975.2Z"/>
<path class="b23" d="M1953.5,988.5L1954.4,988.5L1955.7,982.9L1955.7,979Z"/>
<path class="b24" d="M1954.4,988.5L1955.3,988.5L1955.7,986.7L1955.7,982.9Z"/>
<path class="b25" d="M1955.3,988.5L1955.7,988.5L1955.7,986.7Z"/>
<path class="b1" d="M1937.4,929.8L1939.4,929.8L1937.5,871.2L1936.1,871.2Z"/>
<path class="b2" d="M1939.4,929.8L1941.4,929.8L1939,871.2L1937.5,871.2Z"/>
<path class="b3" d="M1941.4,929.8L1943.4,929.8L1940.5,871.2L1939,871.2Z"/>
<path class="b4" d="M1943.4,929.8L1945.4,929.8L1942,871.2L1940.5,871.2Z"/>
<path class="b5" d="M1945.4,929.8L1947.4,929.8L1943.5,871.2L1942,871.2Z"/>
<path class="b6" d="M1947.4,929.8L1949.3,929.8L1945,871.2L1943.5,871.2Z"/>
<path class="b7" d="M1949.3,929.8L1951.3,929.8L1946.5,871.2L1945,871.2Z"/>
<path class="b8" d="M1951.3,929.8L1953.3,929.8L1947.9,871.2L1946.5,871.2Z"/>
<path class="b9" d="M1953.3,929.8L1955.3,929.8L1949.4,871.2L1947.9,871.2Z"/>
<path class="b10" d="M1955.3,929.8L1955.7,929.8L1955.7,918.1L1950.9,871.2L1949.4,871.2Z"/>
<path class="b11" d="M1955.7,918.1L1955.7,903.4L1952.4,871.2L1950.9,871.2Z"/>
<path class="b12" d="M1955.7,903.4L1955.7,888.8L1953.9,871.2L1952.4,871.2Z"/>
<path class="b13" d="M1955.7,888.8L1955.7,874.1L1955.4,871.2L1953.9,871.2Z"/>
<path class="b14" d="M1955.7,874.1L1955.7,871.2L1955.4,871.2Z"/>
<path class="b1" d="M1936.1,871.2L1937.5,871.2L1952.1,812.5L1950.6,812.5Z"/>
<path class="b2" d="M1937.5,871.2L1939,871.2L1953.6,812.5L1952.1,812.5Z"/>
<path class="b3" d="M1939,871.2L1940.5,871.2L1955.1,812.5L1953.6,812.5Z"/>
<path class="b4" d="M1940.5,871.2L1942,871.2L1955.7,816.1L1955.7,812.5L1955.1,812.5Z"/>
<path class="b5" d="M1942,871.2L1943.5,871.2L1955.7,822.1L1955.7,816.1Z"/>
<path class="b6" d="M1943.5,871.2L1945,871.2L1955.7,828.1L1955.7,822.1Z"/>
<path class="b7" d="M1945,871.2L1946.5,871.2L1955.7,834L1955.7,828.1Z"/>
<path class="b8" d="M1946.5,871.2L1947.9,871.2L1955.7,840L1955.7,834Z"/>
<path class="b9" d="M1947.9,871.2L1949.4,871.2L1955.7,846L1955.7,840Z"/>
<path class="b10" d="M1949.4,871.2L1950.9,871.2L1955.7,852L1955.7,846Z"/>
<path class="b11" d="M1950.9,871.2L1952.4,871.2L1955.7,858L1955.7,852Z"/>
<path class="b12" d="M1952.4,871.2L1953.9,871.2L1955.7,864L1955.7,858Z"/>
<path class="b13" d="M1953.9,871.2L1955.4,871.2L1955.7,870L1955.7,864Z"/>
<path class="b14" d="M1955.4,871.2L1955.7,871.2L1955.7,870Z"/>
<path class="b1" d="M1950.6,812.5L1952.1,812.5L1955.7,797.8L1955.7,791.7Z"/>
<path class="b2" d="M1952.1,812.5L1953.6,812.5L1955.7,803.9L1955.7,797.8Z"/>
<path class="b3" d="M1953.6,812.5L1955.1,812.5L1955.7,810.1L1955.7,803.9Z"/>
<path class="b4" d="M1955.1,812.5L1955.7,812.5L1955.7,810.1Z"/>
<path class="b1" d="M1985.4,1304.5L1985.4,1301.3L1969.5,1281.7L1966.8,1281.7Z"/>
<path class="b2" d="M1985.4,1301.3L1985.4,1298L1972.1,1281.7L1969.5,1281.7Z"/>
<path class="b3" d="M1985.4,1298L1985.4,1294.8L1974.8,1281.7L1972.1,1281.7Z"/>
<path class="b4" d="M1985.4,1294.8L1985.4,1291.5L1977.4,1281.7L1974.8,1281.7Z"/>
<path class="b5" d="M1985.4,1291.5L1985.4,1288.2L1980.1,1281.7L1977.4,1281.7Z"/>
<path class="b6" d="M1985.4,1288.2L1985.4,1285L1982.8,1281.7L1980.1,1281.7Z"/>
<path class="b7" d="M1985.4,1285L1985.4,1281.7L1982.8,1281.7Z"/>
<path class="b1" d="M1966.8,1281.7L1969.5,1281.7L1955.7,1259.6L1955.7,1263.9Z"/>
<path class="b2" d="M1969.5,1281.7L1972.1,1281.7L1955.7,1255.4L1955.7,1259.6Z"/>
<path class="b3" d="M1972.1,1281.7L1974.8,1281.7L1955.7,1251.1L1955.7,1255.4Z"/>
<path class="b4" d="M1974.8,1281.7L1977.4,1281.7L1955.7,1246.9L1955.7,1251.1Z"/>
<path class="b5" d="M1977.4,1281.7L1980.1,1281.7L1955.7,1242.6L1955.7,1246.9Z"/>
<path class="b6" d="M1980.1,1281.7L1982.8,1281.7L1955.7,1238.4L1955.7,1242.6Z"/>
<path class="b7" d="M1982.8,1281.7L1985.4,1281.7L1955.7,1234.1L1955.7,1238.4Z"/>
<path class="b8" d="M1985.4,1281.7L1985.4,1269.3L1955.7,1229.9L1955.7,1234.1Z"/>
<path class="b9" d="M1985.4,1269.3L1985.4,1256.8L1955.7,1225.6L1955.7,1229.9Z"/>
<path class="b10" d="M1985.4,1256.8L1985.4,1244.3L1961.3,1223.1L1955.7,1223.1L1955.7,1225.6Z"/>
<path class="b11" d="M1985.4,1244.3L1985.4,1231.8L1975.5,1223.1L1961.3,1223.1Z"/>
<path class="b12" d="M1985.4,1231.8L1985.4,1223.1L1975.5,1223.1Z"/>
<path class="b10" d="M1955.7,1223.1L1961.3,1223.1L1955.7,1219.2Z"/>
<path class="b11" d="M1961.3,1223.1L1975.5,1223.1L1955.7,1209.6L1955.7,1219.2Z"/>
<path class="b12" d="M1975.5,1223.1L1985.4,1223.1L1985.4,1221.3L1955.7,1200L1955.7,1209.6Z"/>
<path class="b13" d="M1985.4,1221.3L1985.4,1215.2L1955.7,1190.4L1955.7,1200Z"/>
<path class="b14" d="M1985.4,1215.2L1985.4,1209.2L1955.7,1180.8L1955.7,1190.4Z"/>
<path class="b15" d="M1985.4,1209.2L1985.4,1203.1L1955.7,1171.2L1955.7,1180.8Z"/>
<path class="b16" d="M1985.4,1203.1L1985.4,1197.1L1957.2,1164.4L1955.7,1164.4L1955.7,1171.2Z"/>
<path class="b17" d="M1985.4,1197.1L1985.4,1191L1962.5,1164.4L1957.2,1164.4Z"/>
<path class="b18" d="M1985.4,1191L1985.4,1185L1967.7,1164.4L1962.5,1164.4Z"/>
<path class="b19" d="M1985.4,1185L1985.4,1178.9L1972.9,1164.4L1967.7,1164.4Z"/>
<path class="b20" d="M1985.4,1178.9L1985.4,1172.9L1978.1,1164.4L1972.9,1164.4Z"/>
<path class="b21" d="M1985.4,1172.9L1985.4,1166.8L1983.3,1164.4L1978.1,1164.4Z"/>
<path class="b22" d="M1985.4,1166.8L1985.4,1164.4L1983.3,1164.4Z"/>
<path class="b16" d="M1955.7,1164.4L1957.2,1164.4L1955.7,1151.9Z"/>
<path class="b17" d="M1957.2,1164.4L1962.5,1164.4L1955.7,1110L1955.7,1151.9Z"/>
<path class="b18" d="M1962.5,1164.4L1967.7,1164.4L1964.7,1105.8L1955.7,1105.8L1955.7,1110Z"/>
<path class="b19" d="M1967.7,1164.4L1972.9,1164.4L1974.8,1105.8L1964.7,1105.8Z"/>
<path class="b20" d="M1972.9,1164.4L1978.1,1164.4L1984.9,1105.8L1974.8,1105.8Z"/>
<path class="b21" d="M1978.1,1164.4L1983.3,1164.4L1985.4,1147L1985.4,1105.8L1984.9,1105.8Z"/>
<path class="b22" d="M1983.3,1164.4L1985.4,1164.4L1985.4,1147Z"/>
<path class="b18" d="M1955.7,1105.8L1964.7,1105.8L1955.7,1097.4Z"/>
<path class="b19" d="M1964.7,1105.8L1974.8,1105.8L1955.7,1088.1L1955.7,1097.4Z"/>
<path class="b20" d="M1974.8,1105.8L1984.9,1105.8L1955.7,1078.8L1955.7,1088.1Z"/>
<path class="b21" d="M1984.9,1105.8L1985.4,1105.8L1985.4,1047.1L1955.7,1069.5L1955.7,1078.8Z"/>
<path class="b22" d="M1985.4,1047.1L1973,1047.1L1955.7,1060.1L1955.7,1069.5Z"/>
<path class="b23" d="M1973,1047.1L1960.6,1047.1L1955.7,1050.8L1955.7,1060.1Z"/>
<path class="b24" d="M1960.6,1047.1L1955.7,1047.1L1955.7,1050.8Z"/>
<path class="b22" d="M1973,1047.1L1985.4,1047.1L1985.4,1011.4Z"/>
<path class="b23" d="M1960.6,1047.1L1973,1047.1L1985.4,1011.4L1985.4,988.5L1979.5,988.5Z"/>
<path class="b24" d="M1955.7,1047.1L1960.6,1047.1L1979.5,988.5L1963.1,988.5L1955.7,1013.6Z"/>
<path class="b25" d="M1963.1,988.5L1955.7,988.5L1955.7,1013.6Z"/>
<path class="b10" d="M1959.4,929.8L1955.7,929.8L1955.7,932.9Z"/>
<path class="b11" d="M1964,929.8L1959.4,929.8L1955.7,932.9L1955.7,936.7Z"/>
<path class="b12" d="M1968.7,929.8L1964,929.8L1955.7,936.7L1955.7,940.6Z"/>
<path class="b13" d="M1973.3,929.8L1968.7,929.8L1955.7,940.6L1955.7,944.4Z"/>
<path class="b14" d="M1978,929.8L1973.3,929.8L1955.7,944.4L1955.7,948.3Z"/>
<path class="b15" d="M1982.6,929.8L1978,929.8L1955.7,948.3L1955.7,952.1Z"/>
<path class="b16" d="M1985.4,933.1L1985.4,929.8L1982.6,929.8L1955.7,952.1L1955.7,956Z"/>
<path class="b17" d="M1985.4,941.5L1985.4,933.1L1955.7,956L1955.7,959.8Z"/>
<path class="b18" d="M1985.4,949.8L1985.4,941.5L1955.7,959.8L1955.7,963.7Z"/>
<path class="b19" d="M1985.4,958.1L1985.4,949.8L1955.7,963.7L1955.7,967.5Z"/>
<path class="b20" d="M1985.4,966.5L1985.4,958.1L1955.7,967.5L1955.7,971.3Z"/>
<path class="b21" d="M1985.4,974.8L1985.4,966.5L1955.7,971.3L1955.7,975.2Z"/>
<path class="b22" d="M1985.4,983.1L1985.4,974.8L1955.7,975.2L1955.7,979Z"/>
<path class="b23" d="M1979.5,988.5L1985.4,988.5L1985.4,983.1L1955.7,979L1955.7,982.9Z"/>
<path class="b24" d="M1963.1,988.5L1979.5,988.5L1955.7,982.9L1955.7,986.7Z"/>
<path class="b25" d="M1955.7,988.5L1963.1,988.5L1955.7,986.7Z"/>
<path class="b10" d="M1955.7,929.8L1959.4,929.8L1985.4,880L1985.4,871.2L1978.3,871.2L1955.7,918.1Z"/>
<path class="b11" d="M1959.4,929.8L1964,929.8L1985.4,888.9L1985.4,880L1978.3,871.2L1971.3,871.2L1955.7,903.4L1955.7,918.1Z"/>
<path class="b12" d="M1964,929.8L1968.7,929.8L1985.4,897.8L1985.4,888.9L1971.3,871.2L1964.2,871.2L1955.7,888.8L1955.7,903.4Z"/>
<path class="b13" d="M1968.7,929.8L1973.3,929.8L1985.4,906.7L1985.4,897.8L1964.2,871.2L1957.1,871.2L1955.7,874.1L1955.7,888.8Z"/>
<path class="b14" d="M1973.3,929.8L1978,929.8L1985.4,915.6L1985.4,906.7L1957.1,871.2L1955.7,871.2L1955.7,874.1Z"/>
<path class="b15" d="M1978,929.8L1982.6,929.8L1985.4,924.5L1985.4,915.6Z"/>
<path class="b16" d="M1982.6,929.8L1985.4,929.8L1985.4,924.5Z"/>
<path class="b1" d="M1985.4,831.4L1985.4,826.4L1972,812.5L1967.2,812.5Z"/>
<path class="b2" d="M1985.4,836.4L1985.4,831.4L1967.2,812.5L1962.4,812.5Z"/>
<path class="b3" d="M1985.4,841.3L1985.4,836.4L1962.4,812.5L1957.6,812.5Z"/>
<path class="b4" d="M1985.4,846.3L1985.4,841.3L1957.6,812.5L1955.7,812.5L1955.7,816.1Z"/>
<path class="b5" d="M1985.4,851.3L1985.4,846.3L1955.7,816.1L1955.7,822.1Z"/>
<path class="b6" d="M1985.4,856.2L1985.4,851.3L1955.7,822.1L1955.7,828.1Z"/>
<path class="b7" d="M1985.4,861.2L1985.4,856.2L1955.7,828.1L1955.7,834Z"/>
<path class="b8" d="M1985.4,866.2L1985.4,861.2L1955.7,834L1955.7,840Z"/>
<path class="b9" d="M1985.4,871.2L1985.4,866.2L1955.7,840L1955.7,846Z"/>
<path class="b10" d="M1978.3,871.2L1985.4,871.2L1955.7,846L1955.7,852Z"/>
<path class="b11" d="M1971.3,871.2L1978.3,871.2L1955.7,852L1955.7,858Z"/>
<path class="b12" d="M1964.2,871.2L1971.3,871.2L1955.7,858L1955.7,864Z"/>
<path class="b13" d="M1957.1,871.2L1964.2,871.2L1955.7,864L1955.7,870Z"/>
<path class="b14" d="M1955.7,871.2L1957.1,871.2L1955.7,870Z"/>
<path class="b1" d="M1967.2,812.5L1972,812.5L1955.7,791.7L1955.7,797.8Z"/>
<path class="b2" d="M1962.4,812.5L1967.2,812.5L1955.7,797.8L1955.7,803.9Z"/>
<path class="b3" d="M1957.6,812.5L1962.4,812.5L1955.7,803.9L1955.7,810.1Z"/>
<path class="b4" d="M1955.7,812.5L1957.6,812.5L1955.7,810.1Z"/>
<path class="b1" d="M2015.1,1332.8L2015.1,1326.4L1985.4,1301.3L1985.4,1304.5Z"/>
<path class="b2" d="M2015.1,1326.4L2015.1,1320.1L1985.4,1298L1985.4,1301.3Z"/>
<path class="b3" d="M2015.1,1320.1L2015.1,1313.8L1985.4,1294.8L1985.4,1298Z"/>
<path class="b4" d="M2015.1,1313.8L2015.1,1307.4L1985.4,1291.5L1985.4,1294.8Z"/>
<path class="b5" d="M2015.1,1307.4L2015.1,1301.1L1985.4,1288.2L1985.4,1291.5Z"/>
<path class="b6" d="M2015.1,1301.1L2015.1,1294.7L1985.4,1285L1985.4,1288.2Z"/>
<path class="b7" d="M2015.1,1294.7L2015.1,1288.4L1985.4,1281.7L1985.4,1285Z"/>
<path class="b8" d="M2015.1,1288.4L2015.1,1282L2013.7,1281.7L1985.4,1281.7Z"/>
<path class="b9" d="M2015.1,1282L2015.1,1281.7L2013.7,1281.7Z"/>
<path class="b8" d="M1985.4,1281.7L2013.7,1281.7L1985.4,1269.3Z"/>
<path class="b9" d="M2013.7,1281.7L2015.1,1281.7L2015.1,1223.1L2009.7,1223.1L1985.4,1256.8L1985.4,1269.3Z"/>
<path class="b10" d="M2009.7,1223.1L2000.7,1223.1L1985.4,1244.3L1985.4,1256.8Z"/>
<path class="b11" d="M2000.7,1223.1L1991.7,1223.1L1985.4,1231.8L1985.4,1244.3Z"/>
<path class="b12" d="M1991.7,1223.1L1985.4,1223.1L1985.4,1231.8Z"/>
<path class="b6" d="M2015.1,1172.8L2015.1,1164.4L2014.4,1164.4Z"/>
<path class="b7" d="M2015.1,1193.8L2015.1,1172.8L2014.4,1164.4L2012.5,1164.4Z"/>
<path class="b8" d="M2015.1,1214.7L2015.1,1193.8L2012.5,1164.4L2010.6,1164.4Z"/>
<path class="b9" d="M2009.7,1223.1L2015.1,1223.1L2015.1,1214.7L2010.6,1164.4L2008.7,1164.4Z"/>
<path class="b10" d="M2000.7,1223.1L2009.7,1223.1L2008.7,1164.4L2006.9,1164.4Z"/>
<path class="b11" d="M1991.7,1223.1L2000.7,1223.1L2006.9,1164.4L2005,1164.4Z"/>
<path class="b12" d="M1985.4,1223.1L1991.7,1223.1L2005,1164.4L2003.1,1164.4L1985.4,1221.3Z"/>
<path class="b13" d="M2003.1,1164.4L2001.2,1164.4L1985.4,1215.2L1985.4,1221.3Z"/>
<path class="b14" d="M2001.2,1164.4L1999.3,1164.4L1985.4,1209.2L1985.4,1215.2Z"/>
<path class="b15" d="M1999.3,1164.4L1997.5,1164.4L1985.4,1203.1L1985.4,1209.2Z"/>
<path class="b16" d="M1997.5,1164.4L1995.6,1164.4L1985.4,1197.1L1985.4,1203.1Z"/>
<path class="b17" d="M1995.6,1164.4L1993.7,1164.4L1985.4,1191L1985.4,1197.1Z"/>
<path class="b18" d="M1993.7,1164.4L1991.8,1164.4L1985.4,1185L1985.4,1191Z"/>
<path class="b19" d="M1991.8,1164.4L1989.9,1164.4L1985.4,1178.9L1985.4,1185Z"/>
<path class="b20" d="M1989.9,1164.4L1988,1164.4L1985.4,1172.9L1985.4,1178.9Z"/>
<path class="b21" d="M1988,1164.4L1986.2,1164.4L1985.4,1166.8L1985.4,1172.9Z"/>
<path class="b22" d="M1986.2,1164.4L1985.4,1164.4L1985.4,1166.8Z"/>
<path class="b6" d="M2014.4,1164.4L2015.1,1164.4L2015.1,1160.9Z"/>
<path class="b7" d="M2012.5,1164.4L2014.4,1164.4L2015.1,1160.9L2015.1,1152.2Z"/>
<path class="b8" d="M2010.6,1164.4L2012.5,1164.4L2015.1,1152.2L2015.1,1143.4Z"/>
<path class="b9" d="M2008.7,1164.4L2010.6,1164.4L2015.1,1143.4L2015.1,1134.7Z"/>
<path class="b10" d="M2006.9,1164.4L2008.7,1164.4L2015.1,1134.7L2015.1,1125.9Z"/>
<path class="b11" d="M2005,1164.4L2006.9,1164.4L2015.1,1125.9L2015.1,1117.1Z"/>
<path class="b12" d="M2003.1,1164.4L2005,1164.4L2015.1,1117.1L2015.1,1108.4Z"/>
<path class="b13" d="M2001.2,1164.4L2003.1,1164.4L2015.1,1108.4L2015.1,1105.8L2012.5,1105.8Z"/>
<path class="b14" d="M1999.3,1164.4L2001.2,1164.4L2012.5,1105.8L2008.6,1105.8Z"/>
<path class="b15" d="M1997.5,1164.4L1999.3,1164.4L2008.6,1105.8L2004.8,1105.8Z"/>
<path class="b16" d="M1995.6,1164.4L1997.5,1164.4L2004.8,1105.8L2001,1105.8Z"/>
<path class="b17" d="M1993.7,1164.4L1995.6,1164.4L2001,1105.8L1997.1,1105.8Z"/>
<path class="b18" d="M1991.8,1164.4L1993.7,1164.4L1997.1,1105.8L1993.3,1105.8Z"/>
<path class="b19" d="M1989.9,1164.4L1991.8,1164.4L1993.3,1105.8L1989.4,1105.8Z"/>
<path class="b20" d="M1988,1164.4L1989.9,1164.4L1989.4,1105.8L1985.6,1105.8Z"/>
<path class="b21" d="M1986.2,1164.4L1988,1164.4L1985.6,1105.8L1985.4,1105.8L1985.4,1147Z"/>
<path class="b22" d="M1985.4,1164.4L1986.2,1164.4L1985.4,1147Z"/>
<path class="b1" d="M2015.1,1063L2015.1,1059.2L2011.2,1047.1L2010,1047.1Z"/>
<path class="b2" d="M2015.1,1066.8L2015.1,1063L2010,1047.1L2008.8,1047.1Z"/>
<path class="b3" d="M2015.1,1070.6L2015.1,1066.8L2008.8,1047.1L2007.5,1047.1Z"/>
<path class="b4" d="M2015.1,1074.4L2015.1,1070.6L2007.5,1047.1L2006.3,1047.1Z"/>
<path class="b5" d="M2015.1,1078.1L2015.1,1074.4L2006.3,1047.1L2005.1,1047.1Z"/>
<path class="b6" d="M2015.1,1081.9L2015.1,1078.1L2005.1,1047.1L2003.8,1047.1Z"/>
<path class="b7" d="M2015.1,1085.7L2015.1,1081.9L2003.8,1047.1L2002.6,1047.1Z"/>
<path class="b8" d="M2015.1,1089.5L2015.1,1085.7L2002.6,1047.1L2001.4,1047.1Z"/>
<path class="b9" d="M2015.1,1093.3L2015.1,1089.5L2001.4,1047.1L2000.2,1047.1Z"/>
<path class="b10" d="M2015.1,1097.1L2015.1,1093.3L2000.2,1047.1L1998.9,1047.1Z"/>
<path class="b11" d="M2015.1,1100.8L2015.1,1097.1L1998.9,1047.1L1997.7,1047.1Z"/>
<path class="b12" d="M2015.1,1104.6L2015.1,1100.8L1997.7,1047.1L1996.5,1047.1Z"/>
<path class="b13" d="M2012.5,1105.8L2015.1,1105.8L2015.1,1104.6L1996.5,1047.1L1995.2,1047.1Z"/>
<path class="b14" d="M2008.6,1105.8L2012.5,1105.8L1995.2,1047.1L1994,1047.1Z"/>
<path class="b15" d="M2004.8,1105.8L2008.6,1105.8L1994,1047.1L1992.8,1047.1Z"/>
<path class="b16" d="M2001,1105.8L2004.8,1105.8L1992.8,1047.1L1991.6,1047.1Z"/>
<path class="b17" d="M1997.1,1105.8L2001,1105.8L1991.6,1047.1L1990.3,1047.1Z"/>
<path class="b18" d="M1993.3,1105.8L1997.1,1105.8L1990.3,1047.1L1989.1,1047.1Z"/>
<path class="b19" d="M1989.4,1105.8L1993.3,1105.8L1989.1,1047.1L1987.9,1047.1Z"/>
<path class="b20" d="M1985.6,1105.8L1989.4,1105.8L1987.9,1047.1L1986.6,1047.1Z"/>
<path class="b21" d="M1985.4,1105.8L1985.6,1105.8L1986.6,1047.1L1985.4,1047.1Z"/>
<path class="b1" d="M2010,1047.1L2011.2,1047.1L2015.1,1039.2L2015.1,1036.7Z"/>
<path class="b2" d="M2008.8,1047.1L2010,1047.1L2015.1,1036.7L2015.1,1034.2Z"/>
<path class="b3" d="M2007.5,1047.1L2008.8,1047.1L2015.1,1034.2L2015.1,1031.7Z"/>
<path class="b4" d="M2006.3,1047.1L2007.5,1047.1L2015.1,1031.7L2015.1,1029.2Z"/>
<path class="b5" d="M2005.1,1047.1L2006.3,1047.1L2015.1,1029.2L2015.1,1026.7Z"/>
<path class="b6" d="M2003.8,1047.1L2005.1,1047.1L2015.1,1026.7L2015.1,1024.3Z"/>
<path class="b7" d="M2002.6,1047.1L2003.8,1047.1L2015.1,1024.3L2015.1,1021.8Z"/>
<path class="b8" d="M2001.4,1047.1L2002.6,1047.1L2015.1,1021.8L2015.1,1019.3Z"/>
<path class="b9" d="M2000.2,1047.1L2001.4,1047.1L2015.1,1019.3L2015.1,1016.8Z"/>
<path class="b10" d="M1998.9,1047.1L2000.2,1047.1L2015.1,1016.8L2015.1,1014.3Z"/>
<path class="b11" d="M1997.7,1047.1L1998.9,1047.1L2015.1,1014.3L2015.1,1011.8Z"/>
<path class="b12" d="M1996.5,1047.1L1997.7,1047.1L2015.1,1011.8L2015.1,1009.3Z"/>
<path class="b13" d="M1995.2,1047.1L1996.5,1047.1L2015.1,1009.3L2015.1,1006.9Z"/>
<path class="b14" d="M1994,1047.1L1995.2,1047.1L2015.1,1006.9L2015.1,1004.4Z"/>
<path class="b15" d="M1992.8,1047.1L1994,1047.1L2015.1,1004.4L2015.1,1001.9Z"/>
<path class="b16" d="M1991.6,1047.1L1992.8,1047.1L2015.1,1001.9L2015.1,999.4Z"/>
<path class="b17" d="M1990.3,1047.1L1991.6,1047.1L2015.1,999.4L2015.1,996.9Z"/>
<path class="b18" d="M1989.1,1047.1L1990.3,1047.1L2015.1,996.9L2015.1,994.4Z"/>
<path class="b19" d="M1987.9,1047.1L1989.1,1047.1L2015.1,994.4L2015.1,991.9Z"/>
<path class="b20" d="M1986.6,1047.1L1987.9,1047.1L2015.1,991.9L2015.1,989.5Z"/>
<path class="b21" d="M1985.4,1047.1L1986.6,1047.1L2015.1,989.5L2015.1,988.5L2007.2,988.5Z"/>
<path class="b22" d="M1985.4,1047.1L2007.2,988.5L1993.9,988.5L1985.4,1011.4Z"/>
<path class="b23" d="M1993.9,988.5L1985.4,988.5L1985.4,1011.4Z"/>
<path class="b16" d="M1989.5,929.8L1985.4,929.8L1985.4,933.1Z"/>
<path class="b17" d="M1999.8,929.8L1989.5,929.8L1985.4,933.1L1985.4,941.5Z"/>
<path class="b18" d="M2010,929.8L1999.8,929.8L1985.4,941.5L1985.4,949.8Z"/>
<path class="b19" d="M2015.1,945.2L2015.1,929.8L2010,929.8L1985.4,949.8L1985.4,958.1Z"/>
<path class="b20" d="M2015.1,976.1L2015.1,945.2L1985.4,958.1L1985.4,966.5Z"/>
<path class="b21" d="M2007.2,988.5L2015.1,988.5L2015.1,976.1L1985.4,966.5L1985.4,974.8Z"/>
<path class="b22" d="M1993.9,988.5L2007.2,988.5L1985.4,974.8L1985.4,983.1Z"/>
<path class="b23" d="M1985.4,988.5L1993.9,988.5L1985.4,983.1Z"/>
<path class="b10" d="M2015.1,873.2L2015.1,871.2L1985.4,871.2L1985.4,880Z"/>
<path class="b11" d="M2015.1,879.8L2015.1,873.2L1985.4,880L1985.4,888.9Z"/>
<path class="b12" d="M2015.1,886.5L2015.1,879.8L1985.4,888.9L1985.4,897.8Z"/>
<path class="b13" d="M2015.1,893.1L2015.1,886.5L1985.4,897.8L1985.4,906.7Z"/>
<path class="b14" d="M2015.1,899.8L2015.1,893.1L1985.4,906.7L1985.4,915.6Z"/>
<path class="b15" d="M2015.1,906.5L2015.1,899.8L1985.4,915.6L1985.4,924.5Z"/>
<path class="b16" d="M1985.4,929.8L1989.5,929.8L2015.1,913.1L2015.1,906.5L1985.4,924.5Z"/>
<path class="b17" d="M1989.5,929.8L1999.8,929.8L2015.1,919.8L2015.1,913.1Z"/>
<path class="b18" d="M1999.8,929.8L2010,929.8L2015.1,926.5L2015.1,919.8Z"/>
<path class="b19" d="M2010,929.8L2015.1,929.8L2015.1,926.5Z"/>
<path class="b1" d="M1995.8,812.5L1993.1,812.5L1985.4,826.4L1985.4,831.4Z"/>
<path class="b2" d="M1998.5,812.5L1995.8,812.5L1985.4,831.4L1985.4,836.4Z"/>
<path class="b3" d="M2001.2,812.5L1998.5,812.5L1985.4,836.4L1985.4,841.3Z"/>
<path class="b4" d="M2004,812.5L2001.2,812.5L1985.4,841.3L1985.4,846.3Z"/>
<path class="b5" d="M2006.7,812.5L2004,812.5L1985.4,846.3L1985.4,851.3Z"/>
<path class="b6" d="M2009.4,812.5L2006.7,812.5L1985.4,851.3L1985.4,856.2Z"/>
<path class="b7" d="M2012.1,812.5L2009.4,812.5L1985.4,856.2L1985.4,861.2Z"/>
<path class="b8" d="M2014.9,812.5L2012.1,812.5L1985.4,861.2L1985.4,866.2Z"/>
<path class="b9" d="M1985.4,871.2L2015.1,845.5L2015.1,812.5L2014.9,812.5L1985.4,866.2Z"/>
<path class="b10" d="M1985.4,871.2L2015.1,871.2L2015.1,845.5Z"/>
<path class="b1" d="M1993.1,812.5L1995.8,812.5L2013.2,753.8L2003.6,753.8Z"/>
<path class="b2" d="M1995.8,812.5L1998.5,812.5L2015.1,760.6L2015.1,753.8L2013.2,753.8Z"/>
<path class="b3" d="M1998.5,812.5L2001.2,812.5L2015.1,769.1L2015.1,760.6Z"/>
<path class="b4" d="M2001.2,812.5L2004,812.5L2015.1,777.6L2015.1,769.1Z"/>
<path class="b5" d="M2004,812.5L2006.7,812.5L2015.1,786.1L2015.1,777.6Z"/>
<path class="b6" d="M2006.7,812.5L2009.4,812.5L2015.1,794.6L2015.1,786.1Z"/>
<path class="b7" d="M2009.4,812.5L2012.1,812.5L2015.1,803.1L2015.1,794.6Z"/>
<path class="b8" d="M2012.1,812.5L2014.9,812.5L2015.1,811.6L2015.1,803.1Z"/>
<path class="b9" d="M2014.9,812.5L2015.1,812.5L2015.1,811.6Z"/>
<path class="b1" d="M2003.6,753.8L2013.2,753.8L1997.4,695.2L1991.5,695.2Z"/>
<path class="b2" d="M2013.2,753.8L2015.1,753.8L2015.1,737.4L2003.2,695.2L1997.4,695.2Z"/>
<path class="b3" d="M2015.1,737.4L2015.1,716.8L2009,695.2L2003.2,695.2Z"/>
<path class="b4" d="M2015.1,716.8L2015.1,696.2L2014.9,695.2L2009,695.2Z"/>
<path class="b5" d="M2015.1,696.2L2015.1,695.2L2014.9,695.2Z"/>
<path class="b1" d="M1991.5,695.2L1997.4,695.2L2013.5,636.5L2008.4,636.5Z"/>
<path class="b2" d="M1997.4,695.2L2003.2,695.2L2015.1,651L2015.1,636.5L2013.5,636.5Z"/>
<path class="b3" d="M2003.2,695.2L2009,695.2L2015.1,672.6L2015.1,651Z"/>
<path class="b4" d="M2009,695.2L2014.9,695.2L2015.1,694.1L2015.1,672.6Z"/>
<path class="b5" d="M2014.9,695.2L2015.1,695.2L2015.1,694.1Z"/>
<path class="b1" d="M2008.4,636.5L2013.5,636.5L2015.1,634.3L2015.1,627.5Z"/>
<path class="b2" d="M2013.5,636.5L2015.1,636.5L2015.1,634.3Z"/>
<path class="b1" d="M2026.6,1281.7L2025.2,1281.7L2015.1,1326.4L2015.1,1332.8Z"/>
<path class="b2" d="M2025.2,1281.7L2023.8,1281.7L2015.1,1320.1L2015.1,1326.4Z"/>
<path class="b3" d="M2023.8,1281.7L2022.3,1281.7L2015.1,1313.8L2015.1,1320.1Z"/>
<path class="b4" d="M2022.3,1281.7L2020.9,1281.7L2015.1,1307.4L2015.1,1313.8Z"/>
<path class="b5" d="M2020.9,1281.7L2019.5,1281.7L2015.1,1301.1L2015.1,1307.4Z"/>
<path class="b6" d="M2019.5,1281.7L2018.1,1281.7L2015.1,1294.7L2015.1,1301.1Z"/>
<path class="b7" d="M2018.1,1281.7L2016.6,1281.7L2015.1,1288.4L2015.1,1294.7Z"/>
<path class="b8" d="M2016.6,1281.7L2015.2,1281.7L2015.1,1282L2015.1,1288.4Z"/>
<path class="b9" d="M2015.2,1281.7L2015.1,1281.7L2015.1,1282Z"/>
<path class="b1" d="M2025.2,1281.7L2026.6,1281.7L2030.4,1223.1L2028.6,1223.1Z"/>
<path class="b2" d="M2023.8,1281.7L2025.2,1281.7L2028.6,1223.1L2026.8,1223.1Z"/>
<path class="b3" d="M2022.3,1281.7L2023.8,1281.7L2026.8,1223.1L2024.9,1223.1Z"/>
<path class="b4" d="M2020.9,1281.7L2022.3,1281.7L2024.9,1223.1L2023.1,1223.1Z"/>
<path class="b5" d="M2019.5,1281.7L2020.9,1281.7L2023.1,1223.1L2021.3,1223.1Z"/>
<path class="b6" d="M2018.1,1281.7L2019.5,1281.7L2021.3,1223.1L2019.5,1223.1Z"/>
<path class="b7" d="M2016.6,1281.7L2018.1,1281.7L2019.5,1223.1L2017.7,1223.1Z"/>
<path class="b8" d="M2015.2,1281.7L2016.6,1281.7L2017.7,1223.1L2015.9,1223.1Z"/>
<path class="b9" d="M2015.1,1281.7L2015.2,1281.7L2015.9,1223.1L2015.1,1223.1Z"/>
<path class="b1" d="M2028.6,1223.1L2030.4,1223.1L2044.9,1180.4L2044.9,1175.1Z"/>
<path class="b2" d="M2026.8,1223.1L2028.6,1223.1L2044.9,1175.1L2044.9,1169.8Z"/>
<path class="b3" d="M2024.9,1223.1L2026.8,1223.1L2044.9,1169.8L2044.9,1164.4Z"/>
<path class="b4" d="M2023.1,1223.1L2024.9,1223.1L2044.9,1164.4L2033.4,1164.4Z"/>
<path class="b5" d="M2021.3,1223.1L2023.1,1223.1L2033.4,1164.4L2022,1164.4Z"/>
<path class="b6" d="M2019.5,1223.1L2021.3,1223.1L2022,1164.4L2015.1,1164.4L2015.1,1172.8Z"/>
<path class="b7" d="M2017.7,1223.1L2019.5,1223.1L2015.1,1172.8L2015.1,1193.8Z"/>
<path class="b8" d="M2015.9,1223.1L2017.7,1223.1L2015.1,1193.8L2015.1,1214.7Z"/>
<path class="b9" d="M2015.1,1223.1L2015.9,1223.1L2015.1,1214.7Z"/>
<path class="b4" d="M2033.4,1164.4L2044.9,1164.4L2044.9,1156.3Z"/>
<path class="b5" d="M2022,1164.4L2033.4,1164.4L2044.9,1156.3L2044.9,1148.1Z"/>
<path class="b6" d="M2015.1,1164.4L2022,1164.4L2044.9,1148.1L2044.9,1140L2015.1,1160.9Z"/>
<path class="b7" d="M2044.9,1140L2044.9,1131.8L2015.1,1152.2L2015.1,1160.9Z"/>
<path class="b8" d="M2044.9,1131.8L2044.9,1123.7L2015.1,1143.4L2015.1,1152.2Z"/>
<path class="b9" d="M2044.9,1123.7L2044.9,1115.5L2015.1,1134.7L2015.1,1143.4Z"/>
<path class="b10" d="M2044.9,1115.5L2044.9,1107.4L2015.1,1125.9L2015.1,1134.7Z"/>
<path class="b11" d="M2044.9,1107.4L2044.9,1105.8L2033.6,1105.8L2015.1,1117.1L2015.1,1125.9Z"/>
<path class="b12" d="M2033.6,1105.8L2019.4,1105.8L2015.1,1108.4L2015.1,1117.1Z"/>
<path class="b13" d="M2019.4,1105.8L2015.1,1105.8L2015.1,1108.4Z"/>
<path class="b1" d="M2023,1047.1L2021.1,1047.1L2015.1,1059.2L2015.1,1063Z"/>
<path class="b2" d="M2024.8,1047.1L2023,1047.1L2015.1,1063L2015.1,1066.8Z"/>
<path class="b3" d="M2026.7,1047.1L2024.8,1047.1L2015.1,1066.8L2015.1,1070.6Z"/>
<path class="b4" d="M2028.5,1047.1L2026.7,1047.1L2015.1,1070.6L2015.1,1074.4Z"/>
<path class="b5" d="M2030.4,1047.1L2028.5,1047.1L2015.1,1074.4L2015.1,1078.1Z"/>
<path class="b6" d="M2032.2,1047.1L2030.4,1047.1L2015.1,1078.1L2015.1,1081.9Z"/>
<path class="b7" d="M2034.1,1047.1L2032.2,1047.1L2015.1,1081.9L2015.1,1085.7Z"/>
<path class="b8" d="M2036,1047.1L2034.1,1047.1L2015.1,1085.7L2015.1,1089.5Z"/>
<path class="b9" d="M2037.8,1047.1L2036,1047.1L2015.1,1089.5L2015.1,1093.3Z"/>
<path class="b10" d="M2039.7,1047.1L2037.8,1047.1L2015.1,1093.3L2015.1,1097.1Z"/>
<path class="b11" d="M2033.6,1105.8L2044.9,1105.8L2044.9,1087.7L2041.5,1047.1L2039.7,1047.1L2015.1,1097.1L2015.1,1100.8Z"/>
<path class="b12" d="M2019.4,1105.8L2033.6,1105.8L2044.9,1087.7L2044.9,1065.2L2043.4,1047.1L2041.5,1047.1L2015.1,1100.8L2015.1,1104.6Z"/>
<path class="b13" d="M2015.1,1105.8L2019.4,1105.8L2044.9,1065.2L2044.9,1047.1L2043.4,1047.1L2015.1,1104.6Z"/>
<path class="b1" d="M2021.1,1047.1L2023,1047.1L2015.1,1036.7L2015.1,1039.2Z"/>
<path class="b2" d="M2023,1047.1L2024.8,1047.1L2015.1,1034.2L2015.1,1036.7Z"/>
<path class="b3" d="M2024.8,1047.1L2026.7,1047.1L2015.1,1031.7L2015.1,1034.2Z"/>
<path class="b4" d="M2026.7,1047.1L2028.5,1047.1L2015.1,1029.2L2015.1,1031.7Z"/>
<path class="b5" d="M2028.5,1047.1L2030.4,1047.1L2015.1,1026.7L2015.1,1029.2Z"/>
<path class="b6" d="M2030.4,1047.1L2032.2,1047.1L2015.1,1024.3L2015.1,1026.7Z"/>
<path class="b7" d="M2032.2,1047.1L2034.1,1047.1L2015.1,1021.8L2015.1,1024.3Z"/>
<path class="b8" d="M2034.1,1047.1L2036,1047.1L2015.1,1019.3L2015.1,1021.8Z"/>
<path class="b9" d="M2036,1047.1L2037.8,1047.1L2015.1,1016.8L2015.1,1019.3Z"/>
<path class="b10" d="M2037.8,1047.1L2039.7,1047.1L2015.1,1014.3L2015.1,1016.8Z"/>
<path class="b11" d="M2039.7,1047.1L2041.5,1047.1L2015.1,1011.8L2015.1,1014.3Z"/>
<path class="b12" d="M2041.5,1047.1L2043.4,1047.1L2044.9,988.5L2015.1,1009.3L2015.1,1011.8Z"/>
<path class="b13" d="M2043.4,1047.1L2044.9,1047.1L2044.9,988.5L2041.3,988.5L2015.1,1006.9L2015.1,1009.3Z"/>
<path class="b14" d="M2041.3,988.5L2037.8,988.5L2015.1,1004.4L2015.1,1006.9Z"/>
<path class="b15" d="M2037.8,988.5L2034.3,988.5L2015.1,1001.9L2015.1,1004.4Z"/>
<path class="b16" d="M2034.3,988.5L2030.7,988.5L2015.1,999.4L2015.1,1001.9Z"/>
<path class="b17" d="M2030.7,988.5L2027.2,988.5L2015.1,996.9L2015.1,999.4Z"/>
<path class="b18" d="M2027.2,988.5L2023.6,988.5L2015.1,994.4L2015.1,996.9Z"/>
<path class="b19" d="M2023.6,988.5L2020.1,988.5L2015.1,991.9L2015.1,994.4Z"/>
<path class="b20" d="M2020.1,988.5L2016.6,988.5L2015.1,989.5L2015.1,991.9Z"/>
<path class="b21" d="M2016.6,988.5L2015.1,988.5L2015.1,989.5Z"/>
<path class="b1" d="M2044.9,935.6L2044.9,930.8L2044.6,929.8L2043,929.8Z"/>
<path class="b2" d="M2044.9,940.4L2044.9,935.6L2043,929.8L2041.4,929.8Z"/>
<path class="b3" d="M2044.9,945.2L2044.9,940.4L2041.4,929.8L2039.8,929.8Z"/>
<path class="b4" d="M2044.9,950L2044.9,945.2L2039.8,929.8L2038.2,929.8Z"/>
<path class="b5" d="M2044.9,954.8L2044.9,950L2038.2,929.8L2036.6,929.8Z"/>
<path class="b6" d="M2044.9,959.6L2044.9,954.8L2036.6,929.8L2035,929.8Z"/>
<path class="b7" d="M2044.9,964.4L2044.9,959.6L2035,929.8L2033.4,929.8Z"/>
<path class="b8" d="M2044.9,969.2L2044.9,964.4L2033.4,929.8L2031.8,929.8Z"/>
<path class="b9" d="M2044.9,974L2044.9,969.2L2031.8,929.8L2030.3,929.8Z"/>
<path class="b10" d="M2044.9,978.8L2044.9,974L2030.3,929.8L2028.7,929.8Z"/>
<path class="b11" d="M2044.9,983.7L2044.9,978.8L2028.7,929.8L2027.1,929.8Z"/>
<path class="b12" d="M2044.9,988.5L2044.9,983.7L2027.1,929.8L2025.5,929.8Z"/>
<path class="b13" d="M2041.3,988.5L2044.9,988.5L2025.5,929.8L2023.9,929.8Z"/>
<path class="b14" d="M2037.8,988.5L2041.3,988.5L2023.9,929.8L2022.3,929.8Z"/>
<path class="b15" d="M2034.3,988.5L2037.8,988.5L2022.3,929.8L2020.7,929.8Z"/>
<path class="b16" d="M2030.7,988.5L2034.3,988.5L2020.7,929.8L2019.1,929.8Z"/>
<path class="b17" d="M2027.2,988.5L2030.7,988.5L2019.1,929.8L2017.5,929.8Z"/>
<path class="b18" d="M2023.6,988.5L2027.2,988.5L2017.5,929.8L2015.9,929.8Z"/>
<path class="b19" d="M2020.1,988.5L2023.6,988.5L2015.9,929.8L2015.1,929.8L2015.1,945.2Z"/>
<path class="b20" d="M2016.6,988.5L2020.1,988.5L2015.1,945.2L2015.1,976.1Z"/>
<path class="b21" d="M2015.1,988.5L2016.6,988.5L2015.1,976.1Z"/>
<path class="b1" d="M2043,929.8L2044.6,929.8L2034.1,871.2L2032.2,871.2Z"/>
<path class="b2" d="M2041.4,929.8L2043,929.8L2032.2,871.2L2030.2,871.2Z"/>
<path class="b3" d="M2039.8,929.8L2041.4,929.8L2030.2,871.2L2028.3,871.2Z"/>
<path class="b4" d="M2038.2,929.8L2039.8,929.8L2028.3,871.2L2026.3,871.2Z"/>
<path class="b5" d="M2036.6,929.8L2038.2,929.8L2026.3,871.2L2024.3,871.2Z"/>
<path class="b6" d="M2035,929.8L2036.6,929.8L2024.3,871.2L2022.4,871.2Z"/>
<path class="b7" d="M2033.4,929.8L2035,929.8L2022.4,871.2L2020.4,871.2Z"/>
<path class="b8" d="M2031.8,929.8L2033.4,929.8L2020.4,871.2L2018.5,871.2Z"/>
<path class="b9" d="M2030.3,929.8L2031.8,929.8L2018.5,871.2L2016.5,871.2Z"/>
<path class="b10" d="M2028.7,929.8L2030.3,929.8L2016.5,871.2L2015.1,871.2L2015.1,873.2Z"/>
<path class="b11" d="M2027.1,929.8L2028.7,929.8L2015.1,873.2L2015.1,879.8Z"/>
<path class="b12" d="M2025.5,929.8L2027.1,929.8L2015.1,879.8L2015.1,886.5Z"/>
<path class="b13" d="M2023.9,929.8L2025.5,929.8L2015.1,886.5L2015.1,893.1Z"/>
<path class="b14" d="M2022.3,929.8L2023.9,929.8L2015.1,893.1L2015.1,899.8Z"/>
<path class="b15" d="M2020.7,929.8L2022.3,929.8L2015.1,899.8L2015.1,906.5Z"/>
<path class="b16" d="M2019.1,929.8L2020.7,929.8L2015.1,906.5L2015.1,913.1Z"/>
<path class="b17" d="M2017.5,929.8L2019.1,929.8L2015.1,913.1L2015.1,919.8Z"/>
<path class="b18" d="M2015.9,929.8L2017.5,929.8L2015.1,919.8L2015.1,926.5Z"/>
<path class="b19" d="M2015.1,929.8L2015.9,929.8L2015.1,926.5Z"/>
<path class="b1" d="M2032.2,871.2L2034.1,871.2L2031.5,812.5L2029.5,812.5Z"/>
<path class="b2" d="M2030.2,871.2L2032.2,871.2L2029.5,812.5L2027.5,812.5Z"/>
<path class="b3" d="M2028.3,871.2L2030.2,871.2L2027.5,812.5L2025.5,812.5Z"/>
<path class="b4" d="M2026.3,871.2L2028.3,871.2L2025.5,812.5L2023.4,812.5Z"/>
<path class="b5" d="M2024.3,871.2L2026.3,871.2L2023.4,812.5L2021.4,812.5Z"/>
<path class="b6" d="M2022.4,871.2L2024.3,871.2L2021.4,812.5L2019.4,812.5Z"/>
<path class="b7" d="M2020.4,871.2L2022.4,871.2L2019.4,812.5L2017.4,812.5Z"/>
<path class="b8" d="M2018.5,871.2L2020.4,871.2L2017.4,812.5L2015.4,812.5Z"/>
<path class="b9" d="M2016.5,871.2L2018.5,871.2L2015.4,812.5L2015.1,812.5L2015.1,845.5Z"/>
<path class="b10" d="M2015.1,871.2L2016.5,871.2L2015.1,845.5Z"/>
<path class="b1" d="M2029.5,812.5L2031.5,812.5L2026.7,753.8L2017.1,753.8Z"/>
<path class="b2" d="M2027.5,812.5L2029.5,812.5L2017.1,753.8L2015.1,753.8L2015.1,760.6Z"/>
<path class="b3" d="M2025.5,812.5L2027.5,812.5L2015.1,760.6L2015.1,769.1Z"/>
<path class="b4" d="M2023.4,812.5L2025.5,812.5L2015.1,769.1L2015.1,777.6Z"/>
<path class="b5" d="M2021.4,812.5L2023.4,812.5L2015.1,777.6L2015.1,786.1Z"/>
<path class="b6" d="M2019.4,812.5L2021.4,812.5L2015.1,786.1L2015.1,794.6Z"/>
<path class="b7" d="M2017.4,812.5L2019.4,812.5L2015.1,794.6L2015.1,803.1Z"/>
<path class="b8" d="M2015.4,812.5L2017.4,812.5L2015.1,803.1L2015.1,811.6Z"/>
<path class="b9" d="M2015.1,812.5L2015.4,812.5L2015.1,811.6Z"/>
<path class="b1" d="M2017.1,753.8L2026.7,753.8L2038.8,695.2L2032.9,695.2Z"/>
<path class="b2" d="M2015.1,753.8L2017.1,753.8L2032.9,695.2L2027.1,695.2L2015.1,737.4Z"/>
<path class="b3" d="M2027.1,695.2L2021.3,695.2L2015.1,716.8L2015.1,737.4Z"/>
<path class="b4" d="M2021.3,695.2L2015.4,695.2L2015.1,696.2L2015.1,716.8Z"/>
<path class="b5" d="M2015.4,695.2L2015.1,695.2L2015.1,696.2Z"/>
<path class="b1" d="M2032.9,695.2L2038.8,695.2L2021.9,636.5L2016.8,636.5Z"/>
<path class="b2" d="M2027.1,695.2L2032.9,695.2L2016.8,636.5L2015.1,636.5L2015.1,651Z"/>
<path class="b3" d="M2021.3,695.2L2027.1,695.2L2015.1,651L2015.1,672.6Z"/>
<path class="b4" d="M2015.4,695.2L2021.3,695.2L2015.1,672.6L2015.1,694.1Z"/>
<path class="b5" d="M2015.1,695.2L2015.4,695.2L2015.1,694.1Z"/>
<path class="b1" d="M2016.8,636.5L2021.9,636.5L2015.1,627.5L2015.1,634.3Z"/>
<path class="b2" d="M2015.1,636.5L2016.8,636.5L2015.1,634.3Z"/>
<path class="b1" d="M2063.5,1164.4L2057.3,1164.4L2044.9,1175.1L2044.9,1180.4Z"/>
<path class="b2" d="M2057.3,1164.4L2051.1,1164.4L2044.9,1169.8L2044.9,1175.1Z"/>
<path class="b3" d="M2051.1,1164.4L2044.9,1164.4L2044.9,1169.8Z"/>
<path class="b1" d="M2057.3,1164.4L2063.5,1164.4L2064.3,1105.8L2062.4,1105.8Z"/>
<path class="b2" d="M2051.1,1164.4L2057.3,1164.4L2062.4,1105.8L2060.5,1105.8Z"/>
<path class="b3" d="M2044.9,1164.4L2051.1,1164.4L2060.5,1105.8L2058.6,1105.8Z"/>
<path class="b4" d="M2044.9,1164.4L2058.6,1105.8L2056.7,1105.8L2044.9,1156.3Z"/>
<path class="b5" d="M2056.7,1105.8L2054.8,1105.8L2044.9,1148.1L2044.9,1156.3Z"/>
<path class="b6" d="M2054.8,1105.8L2052.9,1105.8L2044.9,1140L2044.9,1148.1Z"/>
<path class="b7" d="M2052.9,1105.8L2051,1105.8L2044.9,1131.8L2044.9,1140Z"/>
<path class="b8" d="M2051,1105.8L2049.1,1105.8L2044.9,1123.7L2044.9,1131.8Z"/>
<path class="b9" d="M2049.1,1105.8L2047.2,1105.8L2044.9,1115.5L2044.9,1123.7Z"/>
<path class="b10" d="M2047.2,1105.8L2045.3,1105.8L2044.9,1107.4L2044.9,1115.5Z"/>
<path class="b11" d="M2045.3,1105.8L2044.9,1105.8L2044.9,1107.4Z"/>
<path class="b1" d="M2062.4,1105.8L2064.3,1105.8L2067.7,1047.1L2065.9,1047.1Z"/>
<path class="b2" d="M2060.5,1105.8L2062.4,1105.8L2065.9,1047.1L2064.1,1047.1Z"/>
<path class="b3" d="M2058.6,1105.8L2060.5,1105.8L2064.1,1047.1L2062.3,1047.1Z"/>
<path class="b4" d="M2056.7,1105.8L2058.6,1105.8L2062.3,1047.1L2060.6,1047.1Z"/>
<path class="b5" d="M2054.8,1105.8L2056.7,1105.8L2060.6,1047.1L2058.8,1047.1Z"/>
<path class="b6" d="M2052.9,1105.8L2054.8,1105.8L2058.8,1047.1L2057,1047.1Z"/>
<path class="b7" d="M2051,1105.8L2052.9,1105.8L2057,1047.1L2055.2,1047.1Z"/>
<path class="b8" d="M2049.1,1105.8L2051,1105.8L2055.2,1047.1L2053.4,1047.1Z"/>
<path class="b9" d="M2047.2,1105.8L2049.1,1105.8L2053.4,1047.1L2051.6,1047.1Z"/>
<path class="b10" d="M2045.3,1105.8L2047.2,1105.8L2051.6,1047.1L2049.9,1047.1Z"/>
<path class="b11" d="M2044.9,1105.8L2045.3,1105.8L2049.9,1047.1L2048.1,1047.1L2044.9,1087.7Z"/>
<path class="b12" d="M2048.1,1047.1L2046.3,1047.1L2044.9,1065.2L2044.9,1087.7Z"/>
<path class="b13" d="M2046.3,1047.1L2044.9,1047.1L2044.9,1065.2Z"/>
<path class="b1" d="M2065.9,1047.1L2067.7,1047.1L2062.5,988.5L2061,988.5Z"/>
<path class="b2" d="M2064.1,1047.1L2065.9,1047.1L2061,988.5L2059.5,988.5Z"/>
<path class="b3" d="M2062.3,1047.1L2064.1,1047.1L2059.5,988.5L2058.1,988.5Z"/>
<path class="b4" d="M2060.6,1047.1L2062.3,1047.1L2058.1,988.5L2056.6,988.5Z"/>
<path class="b5" d="M2058.8,1047.1L2060.6,1047.1L2056.6,988.5L2055.1,988.5Z"/>
<path class="b6" d="M2057,1047.1L2058.8,1047.1L2055.1,988.5L2053.7,988.5Z"/>
<path class="b7" d="M2055.2,1047.1L2057,1047.1L2053.7,988.5L2052.2,988.5Z"/>
<path class="b8" d="M2053.4,1047.1L2055.2,1047.1L2052.2,988.5L2050.7,988.5Z"/>
<path class="b9" d="M2051.6,1047.1L2053.4,1047.1L2050.7,988.5L2049.3,988.5Z"/>
<path class="b10" d="M2049.9,1047.1L2051.6,1047.1L2049.3,988.5L2047.8,988.5Z"/>
<path class="b11" d="M2048.1,1047.1L2049.9,1047.1L2047.8,988.5L2046.3,988.5Z"/>
<path class="b12" d="M2046.3,1047.1L2048.1,1047.1L2046.3,988.5L2044.9,988.5Z"/>
<path class="b13" d="M2044.9,1047.1L2046.3,1047.1L2044.9,988.5Z"/>
<path class="b1" d="M2061,988.5L2062.5,988.5L2044.9,930.8L2044.9,935.6Z"/>
<path class="b2" d="M2059.5,988.5L2061,988.5L2044.9,935.6L2044.9,940.4Z"/>
<path class="b3" d="M2058.1,988.5L2059.5,988.5L2044.9,940.4L2044.9,945.2Z"/>
<path class="b4" d="M2056.6,988.5L2058.1,988.5L2044.9,945.2L2044.9,950Z"/>
<path class="b5" d="M2055.1,988.5L2056.6,988.5L2044.9,950L2044.9,954.8Z"/>
<path class="b6" d="M2053.7,988.5L2055.1,988.5L2044.9,954.8L2044.9,959.6Z"/>
<path class="b7" d="M2052.2,988.5L2053.7,988.5L2044.9,959.6L2044.9,964.4Z"/>
<path class="b8" d="M2050.7,988.5L2052.2,988.5L2044.9,964.4L2044.9,969.2Z"/>
<path class="b9" d="M2049.3,988.5L2050.7,988.5L2044.9,969.2L2044.9,974Z"/>
<path class="b10" d="M2047.8,988.5L2049.3,988.5L2044.9,974L2044.9,978.8Z"/>
<path class="b11" d="M2046.3,988.5L2047.8,988.5L2044.9,978.8L2044.9,983.7Z"/>
<path class="b12" d="M2044.9,988.5L2046.3,988.5L2044.9,983.7Z"/>
<path class="b1" d="M2193.6,1073.8L2193.6,1067.1L2181.5,1047.1L2177.5,1047.1Z"/>
<path class="b2" d="M2193.6,1067.1L2193.6,1060.4L2185.5,1047.1L2181.5,1047.1Z"/>
<path class="b3" d="M2193.6,1060.4L2193.6,1053.8L2189.5,1047.1L2185.5,1047.1Z"/>
<path class="b4" d="M2193.6,1053.8L2193.6,1047.1L2189.5,1047.1Z"/>
<path class="b1" d="M2177.5,1047.1L2181.5,1047.1L2177.8,988.5L2173.3,988.5Z"/>
<path class="b2" d="M2181.5,1047.1L2185.5,1047.1L2182.3,988.5L2177.8,988.5Z"/>
<path class="b3" d="M2185.5,1047.1L2189.5,1047.1L2186.8,988.5L2182.3,988.5Z"/>
<path class="b4" d="M2189.5,1047.1L2193.6,1047.1L2191.3,988.5L2186.8,988.5Z"/>
<path class="b5" d="M2193.6,1047.1L2193.6,988.5L2191.3,988.5Z"/>
<path class="b1" d="M2173.3,988.5L2177.8,988.5L2193.6,959.1L2193.6,950.8Z"/>
<path class="b2" d="M2177.8,988.5L2182.3,988.5L2193.6,967.5L2193.6,959.1Z"/>
<path class="b3" d="M2182.3,988.5L2186.8,988.5L2193.6,975.9L2193.6,967.5Z"/>
<path class="b4" d="M2186.8,988.5L2191.3,988.5L2193.6,984.3L2193.6,975.9Z"/>
<path class="b5" d="M2191.3,988.5L2193.6,988.5L2193.6,984.3Z"/>
<path class="b1" d="M2202.1,1047.1L2200,1047.1L2193.6,1067.1L2193.6,1073.8Z"/>
<path class="b2" d="M2200,1047.1L2197.8,1047.1L2193.6,1060.4L2193.6,1067.1Z"/>
<path class="b3" d="M2197.8,1047.1L2195.7,1047.1L2193.6,1053.8L2193.6,1060.4Z"/>
<path class="b4" d="M2195.7,1047.1L2193.6,1047.1L2193.6,1053.8Z"/>
<path class="b1" d="M2200,1047.1L2202.1,1047.1L2202.7,988.5L2200.6,988.5Z"/>
<path class="b2" d="M2197.8,1047.1L2200,1047.1L2200.6,988.5L2198.6,988.5Z"/>
<path class="b3" d="M2195.7,1047.1L2197.8,1047.1L2198.6,988.5L2196.6,988.5Z"/>
<path class="b4" d="M2193.6,1047.1L2195.7,1047.1L2196.6,988.5L2194.6,988.5Z"/>
<path class="b5" d="M2193.6,1047.1L2194.6,988.5L2193.6,988.5Z"/>
<path class="b1" d="M2200.6,988.5L2202.7,988.5L2193.6,950.8L2193.6,959.1Z"/>
<path class="b2" d="M2198.6,988.5L2200.6,988.5L2193.6,959.1L2193.6,967.5Z"/>
<path class="b3" d="M2196.6,988.5L2198.6,988.5L2193.6,967.5L2193.6,975.9Z"/>
<path class="b4" d="M2194.6,988.5L2196.6,988.5L2193.6,975.9L2193.6,984.3Z"/>
<path class="b5" d="M2193.6,988.5L2194.6,988.5L2193.6,984.3Z"/>
<path class="b1" d="M2253,934.3L2253,929.8L2252.6,929.8Z"/>
<path class="b1" d="M2252.6,929.8L2253,929.8L2253,926.8Z"/>
<path class="b1" d="M2282.8,992.8L2282.8,988.5L2278.5,988.5Z"/>
<path class="b1" d="M2278.5,988.5L2282.8,988.5L2282.8,973.8L2257.3,929.8L2253,929.8L2253,934.3Z"/>
<path class="b1" d="M2253,929.8L2257.3,929.8L2253,926.8Z"/>
<path class="b1" d="M2284,988.5L2282.8,988.5L2282.8,992.8Z"/>
<path class="b1" d="M2282.8,988.5L2284,988.5L2282.8,973.8Z"/>
</g>
<g stroke="#000" stroke-width="3.125" stroke-linecap="round" fill="none">
<line x1="350" y1="1575" x2="3085.6" y2="1575" stroke-dasharray="3.125 9.375"/>
<line x1="350" y1="1270" x2="3085.6" y2="1270" stroke-dasharray="3.125 9.375"/>
<line x1="350" y1="965" x2="3085.6" y2="965" stroke-dasharray="3.125 9.375"/>
<line x1="350" y1="660" x2="3085.6" y2="660" stroke-dasharray="3.125 9.375"/>
<line x1="350" y1="355" x2="3085.6" y2="355" stroke-dasharray="3.125 9.375"/>
<line x1="350" y1="50" x2="3085.6" y2="50" stroke-dasharray="3.125 9.375"/>
</g>
<path d="M350,1710.3L351.7,1709.7L353.4,1710.2L355.1,1710.5L356.8,1710.1L358.5,1710.5L360.2,1710.5L361.9,1710L363.6,1709.6L365.3,1710L367,1710.5L368.7,1710.2L370.4,1710.5L372.1,1710.5L373.8,1710.3L375.5,1710.2L377.2,1710.2L378.9,1710.3L380.6,1709.6L382.3,1709.8L384,1710.5L385.7,1710.5L387.4,1709.9L389.1,1709.8L390.8,1709.7L392.5,1710.5L394.2,1709.7L395.9,1709.6L397.6,1710.5L399.3,1709.9L401,1710.5L402.7,1709.6L404.4,1710.5L406.1,1710.5L407.8,1709.9L409.5,1710.2L411.2,1710.5L412.9,1710.5L414.6,1710.5L416.3,1710.5L418,1709.6L419.7,1710.5L421.4,1710.5L423.1,1709.8L424.8,1710.5L426.5,1710.5L428.2,1709.9L429.9,1710.5L431.6,1710.5L433.3,1710.5L435,1710.4L436.7,1709.7L438.4,1710.1L440.1,1710.5L441.8,1709.7L443.5,1710.5L445.2,1709.9L446.9,1710.5L448.6,1709.8L450.3,1710.3L452,1710.5L453.7,1710.5L455.4,1710.5L457.1,1710.1L458.8,1710.5L460.5,1710.5L462.2,1710.2L463.9,1710.1L465.6,1709.7L467.3,1710.5L469,1710.3L470.7,1710.5L472.4,1710.1L474.1,1710.4L475.8,1709.6L477.5,1710L479.2,1710.5L480.9,1710.5L482.6,1710L484.3,1710.5L486,1710.3L487.7,1710.5L489.4,1710.5L491.1,1709.9L492.8,1709.9L494.5,1709.9L496.2,1710.4L497.9,1709.7L499.6,1710.3L501.3,1709.8L503,1710.1L504.7,1710.1L506.4,1710.5L508.1,1709.6L509.8,1709.9L511.5,1709.9L513.2,1710.3L514.9,1710.5L516.6,1710.5L518.3,1710.3L520,1710L521.7,1710.1L523.4,1710.5L525.1,1710.5L526.8,1710.5L528.5,1709.7L530.2,1710.3L531.9,1710.5L533.6,1710.5L535.3,1709.8L537,1709.8L538.7,1710.1L540.4,1710.5L542.1,1709.8L543.8,1710L545.5,1710.5L547.2,1710.3L548.9,1710.5L550.6,1710.1L552.3,1710.5L554,1709.6L555.7,1710.5L557.4,1709.8L559.1,1710L560.8,1710.5L562.5,1710.5L564.2,1710.3L565.9,1709.8L567.6,1710.5L569.3,1710.1L571,1710.1L572.7,1709.8L574.4,1710L576.1,1710.3L577.8,1710.5L579.5,1710L581.2,1710.5L582.9,1710L584.6,1710.1L586.3,1710.4L588,1709.7L589.7,1709.7L591.4,1710.5L593.1,1710.1L594.8,1710.4L596.5,1709.8L598.2,1709.7L599.9,1710L601.6,1710L603.3,1710.1L605,1710.5L606.7,1709.6L608.4,1710.2L610.1,1710.5L611.8,1709.8L613.5,1710.5L615.2,1710.2L616.9,1710.3L618.6,1709.8L620.3,1709.9L622,1710.5L623.7,1710.5L625.4,1710.2L627.1,1709.8L628.8,1709.7L630.5,1709.7L632.2,1710.5L633.9,1710.5L635.6,1710.1L637.3,1709.8L639,1710.5L640.7,1709.8L642.4,1710.5L644.1,1709.6L645.8,1710.1L647.5,1710.2L649.2,1710.1L650.9,1709.6L652.6,1710.4L654.3,1710.2L656,1710L657.7,1710.2L659.4,1709.7L661.1,1710.5L662.8,1710.5L664.5,1709.8L666.2,1710.3L667.9,1710.5L669.6,1709.7L671.3,1709.9L673,1710.5L674.7,1710L676.4,1710.4L678.1,1710.5L679.8,1710.5L681.5,1710.5L683.2,1710.2L684.9,1710.4L686.6,1710.2L688.3,1710.5L690,1710.1L691.7,1709.8L693.4,1709.8L695.1,1709.9L696.8,1709.7L698.5,1710.5L700.2,1710.5L701.9,1709.7L703.6,1710.5L705.3,1710.5L707,1709.8L708.7,1709.9L710.4,1710.4L712.1,1710.5L713.8,1710L715.5,1709.6L717.2,1710.2L718.9,1710.2L720.6,1710.5L722.3,1710.5L724,1710.2L725.7,1710.2L727.4,1710.5L729.1,1709.8L730.8,1709.7L732.5,1710.5L734.2,1710.3L735.9,1710.5L737.6,1710.2L739.3,1710.1L741,1710L742.7,1710.5L744.4,1709.9L746.1,1710.5L747.8,1710.2L749.5,1709.7L751.2,1710L752.9,1710.1L754.6,1710.1L756.3,1709.6L758,1710.5L759.7,1709.9L761.4,1709.8L763.1,1709.7L764.8,1710L766.5,1709.9L768.2,1710L769.9,1710.4L771.6,1710.5L773.3,1710.1L775,1710.5L776.7,1710L778.4,1710L780.1,1710.2L781.8,1709.6L783.5,1710L785.2,1709.6L786.9,1710.1L788.6,1710.5L790.3,1710.5L792,1710.4L793.7,1710.5L795.4,1710.2L797.1,1709.6L798.8,1709.6L800.5,1709.8L802.2,1710.1L803.9,1710.5L805.6,1710.5L807.3,1710.5L809,1710.1L810.7,1709.7L812.4,1710.2L814.1,1710.4L815.8,1710L817.5,1710.5L819.2,1710.5L820.9,1710.5L822.6,1710.5L824.3,1710.4L826,1709.9L827.7,1709.6L829.4,1710.5L831.1,1710.3L832.8,1709.6L834.5,1710.2L836.2,1710L837.9,1709.6L839.6,1710.1L841.3,1709.9L843,1710.4L844.7,1709.7L846.4,1709.7L848.1,1709.5L849.8,1709.1L851.5,1708.7L853.2,1708.2L854.9,1708.6L856.6,1709.8L858.3,1708.4L860,1709.2L861.7,1708.5L863.4,1708.7L865.1,1708.3L866.8,1709.7L868.5,1708.9L870.2,1710.5L871.9,1710.5L873.6,1710.3L875.3,1710.4L877,1710.5L878.7,1710.3L880.4,1710.5L882.1,1710.5L883.8,1710.1L885.5,1710.5L887.2,1708.9L888.9,1708.1L890.6,1708.1L892.3,1706.2L894,1706.9L895.7,1708.6L897.4,1708.6L899.1,1710L900.8,1710.5L902.5,1710.5L904.2,1710.3L905.9,1710.2L907.6,1710.1L909.3,1710.5L911,1710.5L912.7,1710.1L914.4,1710.5L916.1,1710.5L917.8,1710.5L919.5,1709L921.2,1707.2L922.9,1705.8L924.6,1704.8L926.3,1707.2L928,1707L929.7,1709.8L931.4,1709.9L933.1,1709.9L934.8,1710.3L936.5,1709.4L938.2,1709.4L939.9,1710.4L941.6,1709.5L943.3,1710.5L945,1710.1L946.7,1709.7L948.4,1710L950.1,1710.5L950.8,1710.5L951.5,1710.5L952.2,1710.5L952.9,1710.5L953.6,1710.5L954.3,1710.5L955,1710.5L955.7,1710.5L956.4,1710.5L957.1,1710.5L957.8,1698.2L958.5,1698.5L959.2,1698.4L959.9,1692.7L960.6,1692.7L961.3,1692.9L962,1692.2L962.7,1692.7L963.4,1692L964.1,1710.5L964.8,1684.2L965.5,1683.8L966.2,1684L966.9,1710.5L967.6,1695.5L968.3,1696.4L969,1695.5L969.7,1703.9L970.4,1703.5L971.1,1703.6L971.8,1703.6L972.5,1703.9L973.2,1700L973.9,1700L974.6,1700.1L975.3,1700.6L976,1701.3L976.7,1701.8L977.4,1701.5L978.1,1701.5L978.8,1701.1L979.5,1705L980.2,1704.8L980.9,1704.6L981.6,1704.9L982.3,1704.5L983,1707.2L983.7,1707.4L984.4,1707.1L985.1,1707.2L985.8,1707.5L986.5,1707.3L987.2,1707.2L987.9,1693.6L988.6,1693.4L989.3,1694.6L990,1646.7L990.7,1648L991.4,1647.5L992.1,1648.5L992.8,1648.3L993.5,1607.4L994.2,1607.7L994.9,1607.5L995.6,1606.9L996.3,1653.7L997,1654L997.7,1653.5L998.4,1654.3L999.1,1672.5L999.8,1672L1000.5,1672.7L1001.2,1663.3L1001.9,1661.7L1002.6,1663.1L1003.3,1662.8L1004,1661.7L1004.7,1669.5L1005.4,1669.1L1006.1,1668.6L1006.8,1668.5L1007.5,1668.7L1008.2,1675.8L1008.9,1676.7L1009.6,1677.2L1010.3,1676.7L1011,1626.9L1011.7,1625.5L1012.4,1626.6L1013.1,1625.6L1013.8,1626.9L1014.5,1577.2L1015.2,1577.2L1015.9,1577.2L1016.6,1578.2L1017.3,1577.4L1018,1649.1L1018.7,1648.3L1019.4,1648.4L1020.1,1648.3L1020.8,1656.3L1021.5,1655.6L1022.2,1654.4L1022.9,1655L1023.6,1638.1L1024.3,1638.9L1025,1639.5L1025.7,1638.2L1026.4,1648.4L1027.1,1647.3L1027.8,1646.8L1028.5,1648.5L1029.2,1648L1029.9,1647L1030.6,1647.8L1031.3,1596.3L1032,1597.3L1032.7,1596.8L1033.4,1596.9L1034.1,1596.4L1034.8,1581.3L1035.5,1582.1L1036.2,1582.1L1036.9,1582.8L1037.6,1652.1L1038.3,1650.7L1039,1651L1039.7,1650.9L1040.4,1654.4L1041.1,1653.9L1041.8,1652.8L1042.5,1641.8L1043.2,1641.1L1043.9,1641.1L1044.6,1640.5L1045.3,1641.4L1046,1648.9L1046.7,1648.8L1047.4,1649.6L1048.1,1649.5L1048.8,1649.6L1049.5,1619.7L1050.2,1619.8L1050.9,1620.4L1051.6,1619.4L1052.3,1593.9L1053,1594.2L1053.7,1593.6L1054.4,1594.3L1055.1,1662.9L1055.8,1663.2L1056.5,1663.1L1057.2,1662.9L1057.9,1662.7L1058.6,1661.6L1059.3,1661.6L1060,1661.6L1060.7,1661.3L1061.4,1660.4L1062.1,1664.1L1062.8,1663.2L1063.5,1664.1L1064.2,1665.6L1064.9,1665.5L1065.6,1666.8L1066.3,1626.6L1067,1626.1L1067.7,1625.7L1068.4,1626.4L1069.1,1625.4L1069.8,1604.7L1070.5,1606.4L1071.2,1605L1071.9,1605.1L1072.6,1687.1L1073.3,1686.1L1074,1686.5L1074.7,1672.8L1075.4,1673.4L1076.1,1674.6L1076.8,1673.7L1077.5,1673.3L1078.2,1674.5L1078.9,1674.4L1079.6,1673.7L1080.3,1674.5L1081,1670.2L1081.7,1633.8L1082.4,1633.5L1083.1,1634.8L1083.8,1662.9L1084.5,1662.5L1085.2,1662.5L1085.9,1662L1086.6,1661.6L1087.3,1705.9L1088,1705.6L1088.7,1705.8L1089.4,1670.6L1090.1,1671.6L1090.8,1670.3L1091.5,1671.7L1092.2,1644.8L1092.9,1644.4L1093.6,1645.1L1094.3,1645.3L1095,1686.5L1095.7,1685.8L1096.4,1685.5L1097.1,1686.9L1097.8,1671.9L1098.5,1671.8L1099.2,1673.4L1099.9,1672.3L1100.6,1674.5L1101.3,1674.7L1102,1674.8L1102.7,1674.4L1103.4,1664L1104.1,1663.5L1104.8,1663.8L1105.5,1672.7L1106.2,1672.4L1106.9,1672L1107.6,1671.7L1108.3,1672.4L1109,1664.1L1109.7,1664.1L1110.4,1664.6L1111.1,1664.8L1111.8,1680.7L1112.5,1679.9L1113.2,1679.6L1113.9,1680.4L1114.6,1683.5L1115.3,1683.2L1116,1684.2L1116.7,1684.6L1117.4,1683.3L1118.1,1687.8L1118.8,1688.9L1119.5,1688.2L1120.2,1687.9L1120.9,1688L1121.6,1688L1122.3,1689.3L1123,1687.8L1123.7,1688.4L1124.4,1689.6L1125.1,1688.7L1125.8,1689.6L1126.5,1688.6L1127.2,1687.8L1127.9,1689.4L1128.6,1688.5L1129.3,1688.5L1130,1703.5L1130.7,1704L1131.4,1703.6L1132.1,1703.8L1132.8,1703.8L1133.5,1705.7L1134.2,1706L1134.9,1705.5L1135.6,1694.3L1136.3,1693.9L1137,1694.6L1137.7,1694.7L1138.4,1693.9L1139.1,1693.9L1139.8,1696.7L1140.5,1696.6L1141.2,1696.6L1141.9,1696.7L1142.6,1696.8L1143.3,1697.6L1144,1697.5L1144.7,1703.7L1145.4,1703.9L1146.1,1703.6L1146.8,1705.6L1147.5,1705.7L1148.2,1705.9L1148.9,1705.7L1149.6,1706L1150.3,1705.9L1151,1708.4L1151.7,1708.2L1152.4,1708.1L1153.1,1708.2L1153.8,1708.3L1154.5,1708.2L1155.2,1708.1L1155.9,1708.3L1156.6,1708.2L1157.3,1708.3L1158,1703L1158.7,1703L1159.4,1702.5L1160.1,1708L1160.8,1708L1161.5,1708.2L1162.2,1708L1162.9,1708L1163.6,1707.9L1164.3,1703.8L1165,1704.1L1165.7,1707.7L1166.4,1707.6L1167.1,1707.7L1167.8,1707.8L1168.5,1707.7L1169.2,1707.6L1169.9,1707.5L1170.6,1706.2L1171.3,1706.2L1172,1706.3L1172.7,1706.1L1173.4,1705L1174.1,1705.1L1174.8,1704.9L1175.5,1705.3L1176.2,1705.3L1176.9,1705.1L1177.6,1704.9L1178.3,1705.9L1179,1706.2L1179.7,1706L1180.4,1705.9L1181.1,1706.3L1181.8,1706L1182.5,1706L1183.2,1708.9L1183.9,1708.8L1184.6,1709L1185.3,1708.9L1186,1708.8L1186.7,1708.8L1187.4,1709L1188.1,1709L1188.8,1708.7L1189.5,1708.8L1190.2,1709L1190.9,1708.7L1191.6,1708.1L1192.3,1707.9L1193,1708L1193.7,1708.1L1194.4,1708.1L1195.1,1708.1L1195.8,1708.2L1196.5,1707.6L1197.2,1707.6L1197.9,1707.8L1198.6,1707.9L1199.3,1707.5L1200,1706.8L1201.7,1707.4L1203.4,1706.6L1205.1,1708.2L1206.8,1708.2L1208.5,1707.9L1210.2,1709.2L1211.9,1709.3L1213.6,1709.4L1215.3,1708.2L1217,1709.3L1218.7,1707.5L1220.4,1708.7L1222.1,1707.2L1223.8,1707.2L1225.5,1707L1227.2,1707.8L1228.9,1706.2L1230.6,1706.8L1232.3,1706.2L1234,1706.1L1235.7,1708.3L1237.4,1706.9L1239.1,1708.4L1240.8,1707.6L1242.5,1706.8L1244.2,1707.7L1245.9,1708.1L1247.6,1707.6L1249.3,1709.6L1251,1709.5L1252.7,1708.9L1254.4,1707.1L1256.1,1708.4L1257.8,1707.7L1259.5,1707.9L1261.2,1706.5L1262.9,1707.9L1264.6,1707.1L1266.3,1706.4L1268,1707.3L1269.7,1707.2L1271.4,1708.9L1273.1,1707.3L1274.8,1708.5L1276.5,1709L1278.2,1708.6L1279.9,1708.3L1281.6,1709L1283.3,1708.5L1285,1709.1L1286.7,1706.8L1288.4,1708.7L1290.1,1707.5L1291.8,1708.1L1293.5,1707.4L1295.2,1706.7L1296.9,1708.8L1298.6,1707.4L1300.3,1708.5L1302,1707.2L1303.7,1708.4L1305.4,1707.9L1307.1,1709.5L1308.8,1709.5L1310.5,1709.1L1312.2,1709.2L1313.9,1709.8L1315.6,1707.9L1317.3,1708.7L1319,1708.2L1320.7,1709L1322.4,1708.1L1324.1,1707.8L1325.8,1707.9L1327.5,1708.4L1329.2,1708L1330.9,1708.5L1332.6,1708.7L1334.3,1707.9L1336,1708.4L1337.7,1708.2L1339.4,1706.6L1341.1,1708.5L1342.8,1706.5L1344.5,1706.3L1346.2,1706.3L1347.9,1708L1349.6,1707.4L1351.3,1708.4L1353,1707.3L1354.7,1707L1356.4,1708L1358.1,1707.7L1359.8,1708.3L1361.5,1707.5L1363.2,1708.1L1364.9,1706.8L1366.6,1708L1368.3,1706.3L1370,1708.4L1371.7,1706.3L1373.4,1707.2L1375.1,1707L1376.8,1707L1378.5,1706.2L1380.2,1707.1L1381.9,1708.1L1383.6,1706.3L1385.3,1706.3L1387,1707.2L1388.7,1706.7L1390.4,1707L1392.1,1706.8L1393.8,1707L1395.5,1706.2L1397.2,1707.5L1398.9,1706.9L1400.6,1707.1L1402.3,1708.2L1404,1709.1L1405.7,1708.6L1407.4,1708.2L1409.1,1708.3L1410.8,1708.9L1412.5,1708.7L1414.2,1708.6L1415.9,1709.5L1417.6,1708.9L1419.3,1707.7L1421,1708.8L1422.7,1709L1424.4,1707L1426.1,1708.2L1427.8,1706.2L1429.5,1707.1L1431.2,1706.5L1432.9,1707.7L1434.6,1708.7L1436.3,1706.5L1438,1708.5L1439.7,1707.9L1441.4,1707.7L1443.1,1709.3L1444.8,1709.4L1446.5,1708.6L1448.2,1710.1L1449.9,1709.7L1451.6,1709.8L1453.3,1709.4L1455,1709.4L1456.7,1710.1L1458.4,1709.2L1460.1,1710.1L1461.8,1708.8L1463.5,1709.7L1465.2,1708.7L1466.9,1709.1L1468.6,1709.8L1470.3,1710L1472,1709.6L1473.7,1709.6L1475.4,1709.5L1477.1,1709.8L1478.8,1710L1480.5,1710L1482.2,1710L1483.9,1709.4L1485.6,1709L1487.3,1709.3L1489,1709.8L1490.7,1709.9L1492.4,1709.9L1494.1,1710.1L1495.8,1709.6L1497.5,1710L1499.2,1709.3L1500.9,1710L1502.6,1709.5L1504.3,1709.8L1506,1710.5L1507.7,1710.5L1509.4,1710.1L1511.1,1709.7L1512.8,1709.4L1514.5,1710.5L1516.2,1710L1517.9,1710L1519.6,1709.7L1521.3,1709.3L1523,1709.2L1524.7,1709.5L1526.4,1709.7L1528.1,1710.5L1529.8,1710.1L1531.5,1710.3L1533.2,1710.4L1534.9,1710.5L1536.6,1709.6L1538.3,1710.4L1540,1709.8L1541.7,1710.3L1543.4,1709.6L1545.1,1710.5L1546.8,1710.5L1548.5,1709.3L1550.2,1710.5L1551.9,1709.9L1553.6,1710.5L1555.3,1710.2L1557,1710.5L1558.7,1710.5L1560.4,1710L1562.1,1709.6L1563.8,1710.1L1565.5,1710.4L1567.2,1709.9L1568.9,1709.5L1570.6,1709.5L1572.3,1709.3L1574,1710.1L1575.7,1709.5L1577.4,1710.1L1579.1,1710.5L1580.8,1709.7L1582.5,1710.5L1584.2,1710.5L1585.9,1710.3L1587.6,1709.8L1589.3,1710.5L1591,1710.5L1592.7,1710.5L1594.4,1710.2L1596.1,1709.8L1597.8,1709.4L1599.5,1710L1601.2,1710.1L1602.9,1709.7L1604.6,1710.2L1606.3,1710L1608,1710.1L1609.7,1710.5L1611.4,1710.5L1613.1,1709.9L1614.8,1710.4L1616.5,1710.2L1618.2,1710L1619.9,1709.7L1621.6,1710.5L1623.3,1709.4L1625,1709.9L1626.7,1710.2L1628.4,1710.2L1630.1,1709.9L1631.8,1710.3L1633.5,1710L1635.2,1710.5L1636.9,1710.4L1638.6,1709.6L1640.3,1709.5L1642,1710.3L1643.7,1710.5L1645.4,1709.6L1647.1,1710.3L1648.8,1709.6L1650.5,1710.5L1652.2,1710.5L1653.9,1710L1655.6,1709.9L1657.3,1709.4L1659,1709.9L1660.7,1709.7L1662.4,1709.8L1664.1,1709.5L1665.8,1709.7L1667.5,1709.7L1669.2,1710.1L1670.9,1710.5L1672.6,1709.7L1674.3,1710.5L1676,1709.8L1677.7,1710.5L1679.4,1710.3L1681.1,1710L1682.8,1710.5L1684.5,1710L1686.2,1710.5L1687.9,1710.1L1689.6,1710.2L1691.3,1709.8L1693,1710.1L1694.7,1710.2L1696.4,1710.5L1698.1,1710.5L1699.8,1710.5L1701.5,1710.5L1703.2,1710L1704.9,1710.2L1706.6,1709.6L1708.3,1710L1710,1709.4L1711.7,1709.8L1713.4,1710.4L1715.1,1710L1716.8,1710.5L1718.5,1710.3L1720.2,1710.2L1721.9,1710L1723.6,1709.5L1725.3,1710.1L1727,1709.8L1728.7,1710.4L1730.4,1710.5L1732.1,1710L1733.8,1710.3L1735.5,1709.5L1737.2,1709.7L1738.9,1709.7L1740.6,1710.5L1742.3,1710L1744,1709.8L1745.7,1709.6L1747.4,1709.9L1749.1,1709.5L1750.8,1710.4L1752.5,1709.8L1754.2,1710.5L1755.9,1710.1L1757.6,1710.4L1759.3,1710.5L1761,1710.4L1762.7,1710.4L1764.4,1709.6L1766.1,1709.7L1767.8,1710L1769.5,1709.8L1771.2,1709.9L1772.9,1709.8L1774.6,1710.5L1776.3,1710.3L1778,1710.5L1779.7,1710.3L1781.4,1709.6L1783.1,1710.1L1784.8,1710.5L1786.5,1710.5L1788.2,1709.9L1789.9,1709.6L1791.6,1710.1L1793.3,1709.5L1795,1709.7L1796.7,1709.9L1798.4,1710.5L1800.1,1709.5L1801.8,1709.7L1803.5,1710.1L1805.2,1710.1L1806.9,1710.1L1808.6,1710.2L1810.3,1709.9L1812,1710.2L1813.7,1710.2L1815.4,1709.5L1817.1,1710.5L1818.8,1710.4L1820.5,1709.6L1822.2,1709.6L1823.9,1709.7L1825.6,1710.5L1827.3,1710L1829,1710L1830.7,1709.6L1832.4,1710.1L1834.1,1710.5L1835.8,1709.7L1837.5,1710.5L1839.2,1709.7L1840.9,1710.1L1842.6,1709.8L1844.3,1710.5L1846,1709.8L1847.7,1709.7L1849.4,1710.4L1851.1,1708.5L1851.8,1708.6L1852.5,1708.7L1853.2,1708.7L1853.9,1704.6L1854.6,1704.6L1855.3,1704.6L1856,1705L1856.7,1704.6L1857.4,1704.6L1858.1,1708L1858.8,1707.9L1859.5,1708L1860.2,1708.2L1860.9,1708.2L1861.6,1707.9L1862.3,1707.2L1863,1707.3L1863.7,1707.2L1864.4,1707.5L1865.1,1707.2L1865.8,1710.1L1866.5,1710L1867.2,1710L1867.9,1710L1868.6,1710L1869.3,1709.9L1870,1710L1870.7,1710.1L1871.4,1708.5L1872.1,1708.8L1872.8,1708.6L1873.5,1708.5L1874.2,1708.8L1874.9,1710.5L1875.6,1710.5L1876.3,1710.5L1877,1710.5L1877.7,1710.5L1878.4,1710.5L1879.1,1710.5L1879.8,1710.5L1880.5,1710.5L1881.2,1710.5L1881.9,1710.5L1882.6,1710.5L1883.3,1710.5L1884,1710.5L1884.7,1710.5L1885.4,1710.5L1886.1,1710.5L1886.8,1710.5L1887.5,1703.8L1888.2,1704L1888.9,1703.6L1889.6,1704.1L1890.3,1700.6L1891,1699.9L1891.7,1700L1892.4,1700L1893.1,1700L1893.8,1687.3L1894.5,1687.2L1895.2,1686.3L1895.9,1686.4L1896.6,1703.9L1897.3,1703.8L1898,1703.7L1898.7,1704.1L1899.4,1702.2L1900.1,1702.2L1900.8,1702.6L1901.5,1704.1L1902.2,1704.1L1902.9,1703.8L1903.6,1703.6L1904.3,1704L1905,1703.9L1905.7,1707.5L1906.4,1707.1L1907.1,1707.2L1907.8,1707.3L1908.5,1710L1909.2,1709.9L1909.9,1710L1910.6,1710L1911.3,1709.9L1912,1710L1912.7,1710.1L1913.4,1710L1914.1,1708.7L1914.8,1708.8L1915.5,1708.6L1916.2,1708.6L1916.9,1708.1L1917.6,1708.1L1918.3,1708L1919,1708.1L1919.7,1707.9L1920.4,1698.4L1921.1,1698.5L1921.8,1698.2L1922.5,1698.2L1923.2,1653L1923.9,1653L1924.6,1651.9L1925.3,1651.5L1926,1652.1L1926.7,1627.8L1927.4,1628.5L1928.1,1626.7L1928.8,1626.8L1929.5,1671.6L1930.2,1670.2L1930.9,1671.4L1931.6,1676.9L1932.3,1677.1L1933,1677.4L1933.7,1677.2L1934.4,1665.5L1935.1,1665.7L1935.8,1665.2L1936.5,1664.5L1937.2,1666L1937.9,1676L1938.6,1676.1L1939.3,1675.3L1940,1675.1L1940.7,1676.1L1941.4,1676.3L1942.1,1677.5L1942.8,1677.6L1943.5,1627.2L1944.2,1625.9L1944.9,1626.3L1945.6,1625.3L1946.3,1626.3L1947,1611.6L1947.7,1610.5L1948.4,1610.6L1949.1,1610.2L1949.8,1610.8L1950.5,1676.6L1951.2,1675.5L1951.9,1675.2L1952.6,1673.3L1953.3,1672.3L1954,1672.9L1954.7,1672.7L1955.4,1665.4L1956.1,1664.7L1956.8,1664.7L1957.5,1665.2L1958.2,1663.9L1958.9,1670.4L1959.6,1671.3L1960.3,1671.4L1961,1671.2L1961.7,1644.5L1962.4,1644.6L1963.1,1645.4L1963.8,1643.8L1964.5,1645L1965.2,1629.8L1965.9,1630.6L1966.6,1630.3L1967.3,1630.9L1968,1629.6L1968.7,1697.5L1969.4,1698L1970.1,1697.5L1970.8,1685.9L1971.5,1686.9L1972.2,1685.9L1972.9,1685.6L1973.6,1685.2L1974.3,1673.2L1975,1673.8L1975.7,1673.5L1976.4,1673.3L1977.1,1645.1L1977.8,1644.4L1978.5,1644.6L1979.2,1644.9L1979.9,1644.3L1980.6,1683.3L1981.3,1684.2L1982,1683.2L1982.7,1684.4L1983.4,1683.2L1984.1,1700.2L1984.8,1700.2L1985.5,1700.1L1986.2,1689.1L1986.9,1688.7L1987.6,1689.3L1988.3,1660.8L1989,1660.2L1989.7,1661.7L1990.4,1661.4L1991.1,1690L1991.8,1689.7L1992.5,1689.4L1993.2,1690.8L1993.9,1682.3L1994.6,1682.9L1995.3,1683L1996,1682L1996.7,1682.6L1997.4,1687.3L1998.1,1686.9L1998.8,1686.8L1999.5,1675.2L2000.2,1675.7L2000.9,1675L2001.6,1676.5L2002.3,1672.4L2003,1672.6L2003.7,1673L2004.4,1672.8L2005.1,1672.9L2005.8,1662.8L2006.5,1662.2L2007.2,1663.5L2007.9,1682.2L2008.6,1681L2009.3,1681.6L2010,1681.2L2010.7,1680.8L2011.4,1680.3L2012.1,1679.1L2012.8,1678.8L2013.5,1680.1L2014.2,1686.8L2014.9,1687.7L2015.6,1688L2016.3,1686.7L2017,1687.7L2017.7,1690L2018.4,1689.2L2019.1,1689.1L2019.8,1689.4L2020.5,1690.2L2021.2,1688.7L2021.9,1688.6L2022.6,1689L2023.3,1689.1L2024,1690L2024.7,1688.6L2025.4,1689.6L2026.1,1699.4L2026.8,1698.6L2027.5,1698.7L2028.2,1698.4L2028.9,1701.5L2029.6,1701.9L2030.3,1701.5L2031,1708.6L2031.7,1708.7L2032.4,1708.5L2033.1,1708.5L2033.8,1708.5L2034.5,1708.7L2035.2,1708.6L2035.9,1708.6L2036.6,1708.6L2037.3,1708.6L2038,1708.6L2038.7,1708.6L2039.4,1708.6L2040.1,1708.8L2040.8,1708.7L2041.5,1708.8L2042.2,1706.8L2042.9,1706.8L2043.6,1706.7L2044.3,1706.7L2045,1706.7L2045.7,1706.8L2046.4,1705.2L2047.1,1705.2L2047.8,1705.5L2048.5,1705.2L2049.2,1705.6L2049.9,1705.5L2050.6,1705.5L2051.3,1705.3L2052,1706.9L2052.7,1706.9L2053.4,1706.5L2054.1,1706.9L2054.8,1706.7L2055.5,1706.9L2056.2,1708.8L2056.9,1708.8L2057.6,1708.5L2058.3,1708.7L2059,1708.7L2059.7,1708.6L2060.4,1708.7L2061.1,1708.5L2061.8,1709.3L2062.5,1709.1L2063.2,1709.2L2063.9,1709.3L2064.6,1709.1L2065.3,1709.3L2066,1709.1L2066.7,1709.2L2067.4,1709.2L2068.1,1709.3L2068.8,1709.3L2069.5,1709.3L2070.2,1709.1L2070.9,1709.1L2071.6,1707.5L2072.3,1707.7L2073,1707.6L2073.7,1707.8L2074.4,1707.7L2075.1,1710.1L2075.8,1710L2076.5,1710.1L2077.2,1710.1L2077.9,1710L2078.6,1709.9L2079.3,1710.1L2080,1709.9L2080.7,1709.9L2081.4,1710.1L2082.1,1710.1L2082.8,1708.5L2083.5,1708.5L2084.2,1708.3L2084.9,1708.4L2085.6,1708.3L2086.3,1708.6L2087,1710L2087.7,1710L2088.4,1709.9L2089.1,1710L2089.8,1710L2090.5,1709.9L2091.2,1709.9L2091.9,1708.7L2092.6,1708.8L2093.3,1708.9L2094,1708.9L2094.7,1708.7L2095.4,1708.7L2096.1,1708.7L2096.8,1709L2097.5,1708.7L2098.2,1709L2098.9,1709L2099.6,1708.7L2100.3,1709.7L2102,1709.7L2103.7,1709.7L2105.4,1708.9L2107.1,1709.6L2108.8,1708.8L2110.5,1708.8L2112.2,1708.5L2113.9,1709L2115.6,1707.8L2117.3,1708.7L2119,1707.5L2120.7,1708.7L2122.4,1708.8L2124.1,1707.8L2125.8,1709.2L2127.5,1708.4L2129.2,1708.6L2130.9,1709.6L2132.6,1708.5L2134.3,1709.9L2136,1708.9L2137.7,1709.7L2139.4,1708.8L2141.1,1709.4L2142.8,1708.5L2144.5,1709L2146.2,1709.8L2147.9,1708.8L2149.6,1708.3L2151.3,1708.4L2153,1708.9L2154.7,1709.1L2156.4,1707.5L2158.1,1708.7L2159.8,1707.6L2161.5,1706.9L2163.2,1707.4L2164.9,1708.7L2166.6,1708.5L2168.3,1707.6L2170,1706.2L2171.7,1705.8L2173.4,1706.7L2175.1,1705.9L2176.8,1707.5L2178.5,1707.9L2180.2,1707.3L2181.9,1707.8L2183.6,1707.9L2185.3,1709.4L2187,1709.5L2188.7,1709L2190.4,1708.4L2192.1,1708.5L2193.8,1709.8L2195.5,1709.8L2197.2,1708.3L2198.9,1708.9L2200.6,1709.2L2202.3,1708.7L2204,1709.5L2205.7,1709.7L2207.4,1709L2209.1,1708.9L2210.8,1709.4L2212.5,1708.8L2214.2,1708.4L2215.9,1709L2217.6,1708.9L2219.3,1709.6L2221,1708.9L2222.7,1710L2224.4,1709.4L2226.1,1708.9L2227.8,1709.7L2229.5,1708.5L2231.2,1707.6L2232.9,1709L2234.6,1708.5L2236.3,1708.6L2238,1708.4L2239.7,1708.3L2241.4,1707L2243.1,1708.3L2244.8,1707.6L2246.5,1708.6L2248.2,1707.2L2249.9,1707.3L2251.6,1707.2L2253.3,1707.4L2255,1705.5L2256.7,1708.1L2258.4,1706.5L2260.1,1709L2261.8,1709L2263.5,1708.6L2265.2,1708.4L2266.9,1709.8L2268.6,1709.9L2270.3,1708.9L2272,1708.5L2273.7,1709.7L2275.4,1709L2277.1,1709.6L2278.8,1709.7L2280.5,1710L2282.2,1708.4L2283.9,1709.5L2285.6,1708.5L2287.3,1710L2289,1709.8L2290.7,1708.4L2292.4,1709.7L2294.1,1709.5L2295.8,1708.8L2297.5,1709.5L2299.2,1708.8L2300.9,1709.2L2302.6,1709.8L2304.3,1708.2L2306,1708.5L2307.7,1708.9L2309.4,1707.5L2311.1,1709.2L2312.8,1708.3L2314.5,1708.1L2316.2,1708.1L2317.9,1709.2L2319.6,1709.4L2321.3,1709.5L2323,1709.7L2324.7,1709L2326.4,1709.3L2328.1,1709.8L2329.8,1710.1L2331.5,1710.3L2333.2,1709.1L2334.9,1710L2336.6,1710.4L2338.3,1709.3L2340,1710.2L2341.7,1710.3L2343.4,1710.2L2345.1,1710.4L2346.8,1710.1L2348.5,1709.7L2350.2,1709.9L2351.9,1710.3L2353.6,1710.5L2355.3,1709.7L2357,1710.5L2358.7,1710L2360.4,1710.5L2362.1,1710.3L2363.8,1710.3L2365.5,1709.6L2367.2,1710.5L2368.9,1710.5L2370.6,1710.5L2372.3,1710.2L2374,1709.4L2375.7,1709.6L2377.4,1709.8L2379.1,1710.1L2380.8,1709.9L2382.5,1710.1L2384.2,1710.1L2385.9,1709.9L2387.6,1709.7L2389.3,1710.5L2391,1710.5L2392.7,1709.5L2394.4,1710.2L2396.1,1710L2397.8,1709.8L2399.5,1709.7L2401.2,1710.5L2402.9,1710.5L2404.6,1710.5L2406.3,1709.8L2408,1709.9L2409.7,1710.1L2411.4,1710.2L2413.1,1709.9L2414.8,1710.5L2416.5,1710.1L2418.2,1710.5L2419.9,1709.7L2421.6,1710.5L2423.3,1709.6L2425,1709.9L2426.7,1709.6L2428.4,1710.5L2430.1,1710.5L2431.8,1709.7L2433.5,1710.5L2435.2,1710.5L2436.9,1709.9L2438.6,1710.3L2440.3,1710.3L2442,1710.3L2443.7,1710L2445.4,1710.1L2447.1,1710.6L2448.8,1710.4L2450.5,1710.6L2452.2,1709.7L2453.9,1710.6L2455.6,1710.4L2457.3,1710.6L2459,1709.8L2460.7,1710.6L2462.4,1710.6L2464.1,1710.6L2465.8,1709.9L2467.5,1710.6L2469.2,1709.9L2470.9,1710.5L2472.6,1710.5L2474.3,1709.9L2476,1709.9L2477.7,1710.2L2479.4,1709.7L2481.1,1709.7L2482.8,1709.9L2484.5,1710.6L2486.2,1709.9L2487.9,1710.6L2489.6,1709.9L2491.3,1710.6L2493,1710.6L2494.7,1709.8L2496.4,1709.9L2498.1,1710.6L2499.8,1710.6L2501.5,1710.6L2503.2,1710.5L2504.9,1710.5L2506.6,1710.6L2508.3,1710.1L2510,1710.4L2511.7,1710.6L2513.4,1710.6L2515.1,1710.6L2516.8,1710.4L2518.5,1709.9L2520.2,1710.5L2521.9,1710.6L2523.6,1710L2525.3,1710.4L2527,1710.1L2528.7,1710L2530.4,1709.9L2532.1,1710.2L2533.8,1710.4L2535.5,1710.4L2537.2,1710L2538.9,1710.1L2540.6,1710.3L2542.3,1710.7L2544,1710.6L2545.7,1710.7L2547.4,1710.7L2549.1,1710.4L2550.8,1710.7L2552.5,1710.7L2554.2,1710.1L2555.9,1710.1L2557.6,1710.7L2559.3,1710.2L2561,1709.9L2562.7,1710.7L2564.4,1710.7L2566.1,1710L2567.8,1710.7L2569.5,1710.7L2571.2,1710.7L2572.9,1710.6L2574.6,1710.6L2576.3,1709.9L2578,1710L2579.7,1710.7L2581.4,1710.5L2583.1,1710.3L2584.8,1709.9L2586.5,1710.7L2588.2,1710.7L2589.9,1710.1L2591.6,1710.7L2593.3,1710.1L2595,1710.7L2596.7,1709.9L2598.4,1710.2L2600.1,1710.2L2601.8,1710.5L2603.5,1710.5L2605.2,1710.7L2606.9,1710.7L2608.6,1710.7L2610.3,1709.9L2612,1710L2613.7,1710.1L2615.4,1710.4L2617.1,1710.2L2618.8,1710.1L2620.5,1710.8L2622.2,1710.6L2623.9,1709.9L2625.6,1710.3L2627.3,1710.3L2629,1710.4L2630.7,1710.1L2632.4,1710.2L2634.1,1710.8L2635.8,1710.3L2637.5,1710.8L2639.2,1710.7L2640.9,1710.8L2642.6,1710.7L2644.3,1710.1L2646,1710.8L2647.7,1710.4L2649.4,1710.4L2651.1,1710.8L2652.8,1710.4L2654.5,1710.4L2656.2,1710.4L2657.9,1710.2L2659.6,1710.2L2661.3,1710.7L2663,1710.5L2664.7,1710.2L2666.4,1710.8L2668.1,1710.2L2669.8,1710L2671.5,1710.2L2673.2,1710L2674.9,1710.1L2676.6,1710.8L2678.3,1710.8L2680,1710.8L2681.7,1710.4L2683.4,1710.8L2685.1,1710.8L2686.8,1710.7L2688.5,1710.8L2690.2,1710.8L2691.9,1710.8L2693.6,1710.8L2695.3,1710.8L2697,1710.6L2698.7,1710.6L2700.4,1710.8L2702.1,1710.3L2703.8,1710.4L2705.5,1710.2L2707.2,1710.9L2708.9,1710.4L2710.6,1710.1L2712.3,1710.9L2714,1710.5L2715.7,1710.9L2717.4,1710.7L2719.1,1710.1L2720.8,1710.9L2722.5,1710.9L2724.2,1710.9L2725.9,1710.9L2727.6,1710.2L2729.3,1710.2L2731,1710.9L2732.7,1710.9L2734.4,1710.9L2736.1,1710.2L2737.8,1710.5L2739.5,1710.9L2741.2,1710.9L2742.9,1710.3L2744.6,1710.8L2746.3,1710.5L2748,1710.7L2749.7,1710.5L2751.4,1710.5L2753.1,1710.9L2754.8,1710.7L2756.5,1710.7L2758.2,1710.9L2759.9,1710.9L2761.6,1710.9L2763.3,1710.9L2765,1710.5L2766.7,1710.7L2768.4,1710.9L2770.1,1710.6L2771.8,1710.2L2773.5,1710.9L2775.2,1710.9L2776.9,1710.8L2778.6,1710.9L2780.3,1710.9L2782,1710.7L2783.7,1710.9L2785.4,1710.3L2787.1,1710.6L2788.8,1710.6L2790.5,1710.5L2792.2,1710.9L2793.9,1710.3L2795.6,1710.8L2797.3,1711L2799,1711L2800.7,1711L2802.4,1711L2804.1,1711L2805.8,1710.9L2807.5,1710.6L2809.2,1710.8L2810.9,1710.9L2812.6,1711L2814.3,1711L2816,1710.5L2817.7,1710.8L2819.4,1710.6L2821.1,1710.6L2822.8,1711L2824.5,1711L2826.2,1711L2827.9,1711L2829.6,1711L2831.3,1710.4L2833,1711L2834.7,1711L2836.4,1710.3L2838.1,1711L2839.8,1711L2841.5,1710.8L2843.2,1711L2844.9,1711L2846.6,1710.8L2848.3,1710.5L2850,1711L2851.7,1711L2853.4,1711L2855.1,1710.7L2856.8,1710.9L2858.5,1710.5L2860.2,1710.5L2861.9,1711L2863.6,1710.6L2865.3,1710.3L2867,1711L2868.7,1710.4L2870.4,1710.5L2872.1,1711L2873.8,1711L2875.5,1710.4L2877.2,1711L2878.9,1711L2880.6,1711L2882.3,1710.6L2884,1710.5L2885.7,1711L2887.4,1710.6L2889.1,1711.1L2890.8,1711L2892.5,1711.1L2894.2,1711.1L2895.9,1710.6L2897.6,1710.5L2899.3,1711.1L2901,1710.6L2902.7,1710.8L2904.4,1711.1L2906.1,1711.1L2907.8,1710.4L2909.5,1711.1L2911.2,1710.9L2912.9,1710.5L2914.6,1711.1L2916.3,1711.1L2918,1710.5L2919.7,1711.1L2921.4,1711.1L2923.1,1710.5L2924.8,1711.1L2926.5,1711.1L2928.2,1711.1L2929.9,1710.8L2931.6,1711.1L2933.3,1710.9L2935,1710.8L2936.7,1711.1L2938.4,1710.9L2940.1,1711.1L2941.8,1711.1L2943.5,1711.1L2945.2,1710.5L2946.9,1710.6L2948.6,1710.9L2950.3,1710.9L2952,1711.1L2953.7,1710.9L2955.4,1710.9L2957.1,1710.8L2958.8,1711.1L2960.5,1711.1L2962.2,1711L2963.9,1710.9L2965.6,1710.8L2967.3,1711L2969,1711.2L2970.7,1710.6L2972.4,1711.2L2974.1,1711L2975.8,1711.2L2977.5,1711.2L2979.2,1711.2L2980.9,1711.2L2982.6,1711L2984.3,1710.9L2986,1710.9L2987.7,1710.9L2989.4,1711.1L2991.1,1711.2L2992.8,1711L2994.5,1710.9L2996.2,1710.8L2997.9,1711.2L2999.6,1710.8L3001.3,1711.2L3003,1710.5L3004.7,1710.5L3006.4,1711.2L3008.1,1711.2L3009.8,1710.8L3011.5,1710.8L3013.2,1710.8L3014.9,1710.9L3016.6,1710.9L3018.3,1711.2L3020,1710.9L3021.7,1710.5L3023.4,1711.2L3025.1,1711.2L3026.8,1710.7L3028.5,1710.9L3030.2,1711.1L3031.9,1711.2L3033.6,1711.2L3035.3,1710.6L3037,1711L3038.7,1711.2L3040.4,1711.2L3042.1,1711.2L3043.8,1711.2L3045.5,1710.8L3047.2,1711.2L3048.9,1711L3050.6,1711.1L3052.3,1711.2L3054,1711.2L3055.7,1711.2L3057.4,1711.2L3059.1,1711L3060.8,1711L3062.5,1710.8L3064.2,1711.3L3065.9,1711.1L3067.6,1711.3L3069.3,1711.2L3071,1711.3L3072.7,1711.3L3074.4,1711.2L3076.1,1711.1L3077.8,1711.1L3079.5,1710.6L3081.2,1711.3L3082.9,1711.3L3084.6,1710.8L3084.6,1715.9L3082.9,1715.9L3081.2,1716.6L3079.5,1716.3L3077.8,1716L3076.1,1716L3074.4,1715.9L3072.7,1716.4L3071,1716.4L3069.3,1716.2L3067.6,1716.2L3065.9,1715.9L3064.2,1716.5L3062.5,1716.3L3060.8,1715.9L3059.1,1715.9L3057.4,1715.9L3055.7,1715.8L3054,1715.8L3052.3,1716.1L3050.6,1716.4L3048.9,1715.8L3047.2,1716.5L3045.5,1716.1L3043.8,1716L3042.1,1716L3040.4,1716.4L3038.7,1715.8L3037,1715.9L3035.3,1715.9L3033.6,1716.5L3031.9,1716.4L3030.2,1716.5L3028.5,1715.8L3026.8,1715.8L3025.1,1715.8L3023.4,1715.9L3021.7,1715.9L3020,1715.8L3018.3,1716.1L3016.6,1716L3014.9,1716L3013.2,1716L3011.5,1715.8L3009.8,1716L3008.1,1716L3006.4,1715.8L3004.7,1716L3003,1715.9L3001.3,1716.4L2999.6,1716.1L2997.9,1715.8L2996.2,1715.8L2994.5,1715.9L2992.8,1716.4L2991.1,1716.2L2989.4,1716.1L2987.7,1715.8L2986,1715.8L2984.3,1716L2982.6,1715.8L2980.9,1715.8L2979.2,1715.8L2977.5,1715.8L2975.8,1716.2L2974.1,1715.8L2972.4,1715.9L2970.7,1716.4L2969,1715.8L2967.3,1715.7L2965.6,1715.9L2963.9,1715.9L2962.2,1715.9L2960.5,1716.3L2958.8,1715.7L2957.1,1715.7L2955.4,1716.3L2953.7,1715.7L2952,1715.7L2950.3,1715.9L2948.6,1716.3L2946.9,1716.4L2945.2,1716.2L2943.5,1715.7L2941.8,1716.1L2940.1,1716.1L2938.4,1715.7L2936.7,1715.7L2935,1715.7L2933.3,1715.7L2931.6,1716.4L2929.9,1716.3L2928.2,1716.2L2926.5,1716.1L2924.8,1715.9L2923.1,1716.1L2921.4,1715.9L2919.7,1715.9L2918,1715.7L2916.3,1716.2L2914.6,1715.7L2912.9,1715.7L2911.2,1715.7L2909.5,1715.7L2907.8,1715.9L2906.1,1716.2L2904.4,1715.7L2902.7,1715.9L2901,1715.9L2899.3,1715.7L2897.6,1715.8L2895.9,1715.9L2894.2,1715.7L2892.5,1715.7L2890.8,1715.7L2889.1,1715.7L2887.4,1715.8L2885.7,1715.7L2884,1715.7L2882.3,1716L2880.6,1715.7L2878.9,1715.7L2877.2,1715.8L2875.5,1715.8L2873.8,1716L2872.1,1715.9L2870.4,1716.3L2868.7,1716.1L2867,1716.2L2865.3,1715.6L2863.6,1715.7L2861.9,1715.6L2860.2,1715.6L2858.5,1716.1L2856.8,1716.2L2855.1,1716.1L2853.4,1716.2L2851.7,1715.7L2850,1715.6L2848.3,1716.1L2846.6,1715.9L2844.9,1715.6L2843.2,1715.9L2841.5,1715.7L2839.8,1716.1L2838.1,1715.6L2836.4,1715.6L2834.7,1716L2833,1716.3L2831.3,1716.2L2829.6,1716.2L2827.9,1715.6L2826.2,1716L2824.5,1715.8L2822.8,1715.7L2821.1,1715.6L2819.4,1716.3L2817.7,1715.8L2816,1715.6L2814.3,1715.6L2812.6,1716.1L2810.9,1716.1L2809.2,1715.6L2807.5,1715.6L2805.8,1715.8L2804.1,1715.6L2802.4,1715.6L2800.7,1716.2L2799,1715.6L2797.3,1716.2L2795.6,1715.6L2793.9,1716.2L2792.2,1716.3L2790.5,1715.5L2788.8,1716.1L2787.1,1715.5L2785.4,1715.5L2783.7,1715.8L2782,1715.5L2780.3,1716.1L2778.6,1716.2L2776.9,1715.6L2775.2,1715.5L2773.5,1715.5L2771.8,1715.5L2770.1,1715.8L2768.4,1715.5L2766.7,1715.5L2765,1716.3L2763.3,1716.2L2761.6,1715.5L2759.9,1716L2758.2,1716.1L2756.5,1715.5L2754.8,1715.6L2753.1,1716L2751.4,1715.9L2749.7,1715.5L2748,1716.2L2746.3,1715.5L2744.6,1715.5L2742.9,1715.7L2741.2,1716.1L2739.5,1716L2737.8,1715.7L2736.1,1715.5L2734.4,1715.5L2732.7,1715.7L2731,1716L2729.3,1716.2L2727.6,1716.2L2725.9,1715.8L2724.2,1715.8L2722.5,1715.5L2720.8,1715.8L2719.1,1715.5L2717.4,1715.5L2715.7,1716.2L2714,1715.8L2712.3,1715.7L2710.6,1716L2708.9,1716.1L2707.2,1715.5L2705.5,1715.9L2703.8,1715.7L2702.1,1716L2700.4,1715.4L2698.7,1715.4L2697,1715.4L2695.3,1715.6L2693.6,1716.1L2691.9,1715.4L2690.2,1715.7L2688.5,1716.2L2686.8,1716L2685.1,1715.7L2683.4,1715.5L2681.7,1715.4L2680,1715.4L2678.3,1716.2L2676.6,1715.4L2674.9,1715.5L2673.2,1715.6L2671.5,1715.9L2669.8,1715.7L2668.1,1715.8L2666.4,1715.4L2664.7,1715.7L2663,1715.8L2661.3,1715.4L2659.6,1716.2L2657.9,1716.2L2656.2,1715.7L2654.5,1716.1L2652.8,1715.4L2651.1,1715.4L2649.4,1715.4L2647.7,1715.9L2646,1716L2644.3,1715.8L2642.6,1715.8L2640.9,1715.4L2639.2,1715.4L2637.5,1715.4L2635.8,1715.6L2634.1,1715.5L2632.4,1715.5L2630.7,1715.9L2629,1715.4L2627.3,1715.4L2625.6,1715.8L2623.9,1715.5L2622.2,1716.1L2620.5,1715.9L2618.8,1715.4L2617.1,1716L2615.4,1715.3L2613.7,1716L2612,1716L2610.3,1716.1L2608.6,1715.3L2606.9,1716.1L2605.2,1715.7L2603.5,1715.8L2601.8,1715.3L2600.1,1715.9L2598.4,1715.5L2596.7,1716.1L2595,1715.3L2593.3,1716L2591.6,1715.3L2589.9,1715.3L2588.2,1715.8L2586.5,1715.3L2584.8,1715.3L2583.1,1715.3L2581.4,1715.7L2579.7,1715.3L2578,1715.9L2576.3,1716.1L2574.6,1715.7L2572.9,1715.5L2571.2,1715.3L2569.5,1715.7L2567.8,1715.5L2566.1,1716.1L2564.4,1715.3L2562.7,1715.5L2561,1715.6L2559.3,1715.3L2557.6,1715.8L2555.9,1715.3L2554.2,1716L2552.5,1715.3L2550.8,1716L2549.1,1715.8L2547.4,1715.8L2545.7,1715.6L2544,1716.1L2542.3,1715.5L2540.6,1716L2538.9,1715.7L2537.2,1715.3L2535.5,1715.9L2533.8,1715.6L2532.1,1715.4L2530.4,1715.8L2528.7,1715.9L2527,1715.5L2525.3,1715.3L2523.6,1715.6L2521.9,1715.2L2520.2,1715.5L2518.5,1715.3L2516.8,1715.2L2515.1,1715.2L2513.4,1715.2L2511.7,1715.2L2510,1715.3L2508.3,1715.3L2506.6,1715.2L2504.9,1715.6L2503.2,1715.5L2501.5,1715.2L2499.8,1715.2L2498.1,1715.8L2496.4,1715.2L2494.7,1715.6L2493,1715.4L2491.3,1715.2L2489.6,1715.5L2487.9,1716L2486.2,1715.7L2484.5,1715.4L2482.8,1715.2L2481.1,1715.2L2479.4,1715.2L2477.7,1716.1L2476,1716L2474.3,1715.2L2472.6,1715.4L2470.9,1715.4L2469.2,1715.8L2467.5,1715.2L2465.8,1715.2L2464.1,1715.8L2462.4,1715.8L2460.7,1715.2L2459,1715.3L2457.3,1715.6L2455.6,1715.2L2453.9,1715.2L2452.2,1715.9L2450.5,1715.4L2448.8,1715.2L2447.1,1715.3L2445.4,1715.2L2443.7,1715.2L2442,1715.7L2440.3,1715.3L2438.6,1715.4L2436.9,1715.8L2435.2,1715.7L2433.5,1715.3L2431.8,1715.4L2430.1,1716L2428.4,1715.1L2426.7,1715.1L2425,1715.9L2423.3,1715.1L2421.6,1715.9L2419.9,1715.3L2418.2,1716.1L2416.5,1715.6L2414.8,1715.1L2413.1,1715.1L2411.4,1715.1L2409.7,1715.1L2408,1715.4L2406.3,1715.6L2404.6,1715.2L2402.9,1716L2401.2,1715.5L2399.5,1715.9L2397.8,1715.2L2396.1,1715.2L2394.4,1715.4L2392.7,1715.2L2391,1715.1L2389.3,1715.1L2387.6,1715.9L2385.9,1715.6L2384.2,1715.8L2382.5,1715.4L2380.8,1715.1L2379.1,1715.9L2377.4,1715.7L2375.7,1716.1L2374,1715.6L2372.3,1715.1L2370.6,1715.1L2368.9,1715.6L2367.2,1715.9L2365.5,1715.6L2363.8,1716.1L2362.1,1716.1L2360.4,1715.4L2358.7,1715.3L2357,1715.4L2355.3,1715.7L2353.6,1715.1L2351.9,1715.1L2350.2,1715.9L2348.5,1715.1L2346.8,1715.3L2345.1,1715.3L2343.4,1715.6L2341.7,1716.2L2340,1716.1L2338.3,1715.1L2336.6,1716L2334.9,1715.2L2333.2,1715.5L2331.5,1716.3L2329.8,1715.6L2328.1,1716.2L2326.4,1716.5L2324.7,1716.5L2323,1715.9L2321.3,1716.6L2319.6,1716.3L2317.9,1716.9L2316.2,1717.7L2314.5,1717.1L2312.8,1717.3L2311.1,1717.6L2309.4,1717.3L2307.7,1716.3L2306,1716.6L2304.3,1716.7L2302.6,1716L2300.9,1715.8L2299.2,1716.8L2297.5,1716.3L2295.8,1716.9L2294.1,1715.8L2292.4,1716.5L2290.7,1717.1L2289,1716.5L2287.3,1716.4L2285.6,1716.9L2283.9,1716.8L2282.2,1716.6L2280.5,1717.2L2278.8,1716.7L2277.1,1717.2L2275.4,1716.3L2273.7,1715.6L2272,1716.9L2270.3,1716.3L2268.6,1715.6L2266.9,1716.9L2265.2,1716.1L2263.5,1715.9L2261.8,1717.1L2260.1,1718.1L2258.4,1718.7L2256.7,1717.5L2255,1718.9L2253.3,1717.5L2251.6,1719.9L2249.9,1717.9L2248.2,1718.9L2246.5,1717.7L2244.8,1716.8L2243.1,1716.5L2241.4,1716.4L2239.7,1717L2238,1717L2236.3,1718.1L2234.6,1717.8L2232.9,1716.9L2231.2,1717.5L2229.5,1717.2L2227.8,1716L2226.1,1716.7L2224.4,1716.8L2222.7,1716.5L2221,1716.4L2219.3,1716.9L2217.6,1717.3L2215.9,1717.1L2214.2,1716.6L2212.5,1716.9L2210.8,1715.8L2209.1,1717.1L2207.4,1715.8L2205.7,1715.7L2204,1715.7L2202.3,1715.7L2200.6,1715.9L2198.9,1717.3L2197.2,1717L2195.5,1716.6L2193.8,1715.9L2192.1,1717.6L2190.4,1716.9L2188.7,1716.1L2187,1715.9L2185.3,1717L2183.6,1718.1L2181.9,1716.6L2180.2,1717.6L2178.5,1717.5L2176.8,1717.8L2175.1,1719.9L2173.4,1719.6L2171.7,1718.3L2170,1717.6L2168.3,1720.2L2166.6,1718L2164.9,1716.9L2163.2,1717.6L2161.5,1717L2159.8,1716.8L2158.1,1717.1L2156.4,1718.4L2154.7,1717.1L2153,1717.3L2151.3,1716.5L2149.6,1715.9L2147.9,1715.9L2146.2,1716.3L2144.5,1717.2L2142.8,1716.8L2141.1,1716.7L2139.4,1716.7L2137.7,1716.3L2136,1716.9L2134.3,1717.2L2132.6,1716.9L2130.9,1716.3L2129.2,1717.5L2127.5,1717.3L2125.8,1716.4L2124.1,1716L2122.4,1717.5L2120.7,1717.6L2119,1716.4L2117.3,1717.2L2115.6,1717.2L2113.9,1715.9L2112.2,1716.3L2110.5,1715.9L2108.8,1716.5L2107.1,1716.8L2105.4,1716.4L2103.7,1715.9L2102,1716.7L2100.3,1715.7L2099.6,1718.2L2098.9,1718.1L2098.2,1718.4L2097.5,1718.1L2096.8,1718.3L2096.1,1718.1L2095.4,1718.2L2094.7,1718.5L2094,1718.4L2093.3,1720.4L2092.6,1720.5L2091.9,1720.1L2091.2,1720.5L2090.5,1720.4L2089.8,1720.1L2089.1,1717.9L2088.4,1717.8L2087.7,1717.9L2087,1717.6L2086.3,1717.7L2085.6,1717.6L2084.9,1717.8L2084.2,1717.8L2083.5,1717.8L2082.8,1717.7L2082.1,1717.8L2081.4,1717.8L2080.7,1717.7L2080,1717.6L2079.3,1717.8L2078.6,1717.7L2077.9,1717.9L2077.2,1717.6L2076.5,1717.7L2075.8,1719.3L2075.1,1719.1L2074.4,1719.4L2073.7,1719.1L2073,1719.2L2072.3,1717.5L2071.6,1717.2L2070.9,1717.3L2070.2,1717.5L2069.5,1717.2L2068.8,1717.5L2068.1,1717.3L2067.4,1717.2L2066.7,1717.5L2066,1717.5L2065.3,1717.3L2064.6,1717.3L2063.9,1717.4L2063.2,1718.8L2062.5,1718.9L2061.8,1719L2061.1,1718.9L2060.4,1719L2059.7,1719.1L2059,1719.1L2058.3,1718.7L2057.6,1718.9L2056.9,1718.7L2056.2,1718.7L2055.5,1718.3L2054.8,1718.3L2054.1,1718.4L2053.4,1718.2L2052.7,1718.5L2052,1718.6L2051.3,1718.4L2050.6,1718.3L2049.9,1718.4L2049.2,1718.5L2048.5,1722L2047.8,1722.3L2047.1,1721.9L2046.4,1721.9L2045.7,1722.5L2045,1719.3L2044.3,1719.3L2043.6,1719.3L2042.9,1719.3L2042.2,1719.4L2041.5,1717.9L2040.8,1717.7L2040.1,1717.7L2039.4,1717.6L2038.7,1717.8L2038,1717.6L2037.3,1717.7L2036.6,1717.7L2035.9,1717.8L2035.2,1717.7L2034.5,1717.8L2033.8,1717.7L2033.1,1717.8L2032.4,1717.6L2031.7,1717.9L2031,1718L2030.3,1724.7L2029.6,1725.2L2028.9,1725.5L2028.2,1725.3L2027.5,1725.3L2026.8,1730.7L2026.1,1731.5L2025.4,1730.5L2024.7,1730.7L2024,1732.2L2023.3,1732.4L2022.6,1731.8L2021.9,1732.6L2021.2,1743.8L2020.5,1743L2019.8,1743.8L2019.1,1744.2L2018.4,1743.2L2017.7,1736.2L2017,1736.5L2016.3,1737.2L2015.6,1748.1L2014.9,1746.5L2014.2,1747.4L2013.5,1747.9L2012.8,1746.6L2012.1,1743.9L2011.4,1745.4L2010.7,1744.1L2010,1744.8L2009.3,1759.5L2008.6,1760.1L2007.9,1760.2L2007.2,1760.8L2006.5,1760L2005.8,1749.9L2005.1,1750.3L2004.4,1750.4L2003.7,1749.3L2003,1760.3L2002.3,1761.6L2001.6,1761.3L2000.9,1761.3L2000.2,1736.8L1999.5,1736.9L1998.8,1737.6L1998.1,1744.2L1997.4,1743.8L1996.7,1744.6L1996,1744.9L1995.3,1744.7L1994.6,1735.3L1993.9,1735L1993.2,1735.4L1992.5,1757.3L1991.8,1757.9L1991.1,1758.1L1990.4,1756.6L1989.7,1756.6L1989,1757L1988.3,1751.7L1987.6,1752.3L1986.9,1751.8L1986.2,1751.6L1985.5,1731.2L1984.8,1731.6L1984.1,1730.7L1983.4,1731.2L1982.7,1731.4L1982,1729.5L1981.3,1728.9L1980.6,1729L1979.9,1766.4L1979.2,1765.7L1978.5,1765.5L1977.8,1765.7L1977.1,1765.7L1976.4,1766.4L1975.7,1766.6L1975,1756L1974.3,1756.9L1973.6,1755.8L1972.9,1757.1L1972.2,1756.3L1971.5,1723.5L1970.8,1722.9L1970.1,1723.1L1969.4,1764.9L1968.7,1765L1968,1766.3L1967.3,1766.1L1966.6,1801.1L1965.9,1801.2L1965.2,1800.6L1964.5,1800.6L1963.8,1800.3L1963.1,1799.9L1962.4,1760.6L1961.7,1758.9L1961,1759.6L1960.3,1759.9L1959.6,1757.7L1958.9,1758.5L1958.2,1758.2L1957.5,1757.2L1956.8,1765.2L1956.1,1766.8L1955.4,1765.4L1954.7,1766.7L1954,1747.5L1953.3,1747.8L1952.6,1746.7L1951.9,1747.4L1951.2,1780.2L1950.5,1780.7L1949.8,1780.4L1949.1,1779.5L1948.4,1815L1947.7,1815.5L1947,1814.8L1946.3,1815.2L1945.6,1816L1944.9,1777.5L1944.2,1777L1943.5,1778L1942.8,1777.7L1942.1,1748.9L1941.4,1750.2L1940.7,1750.3L1940,1749.7L1939.3,1748.9L1938.6,1757.2L1937.9,1757.7L1937.2,1756.6L1936.5,1756.4L1935.8,1760.7L1935.1,1761L1934.4,1761.9L1933.7,1761.7L1933,1761.5L1932.3,1746.5L1931.6,1746.7L1930.9,1748.4L1930.2,1784.7L1929.5,1783.9L1928.8,1785.2L1928.1,1784.6L1927.4,1795.2L1926.7,1795.8L1926,1795.5L1925.3,1795L1924.6,1795.8L1923.9,1794.5L1923.2,1748.7L1922.5,1750L1921.8,1750L1921.1,1750.2L1920.4,1750L1919.7,1748.8L1919,1718.3L1918.3,1718.5L1917.6,1718.3L1916.9,1718.5L1916.2,1718.3L1915.5,1718.5L1914.8,1718.5L1914.1,1718.2L1913.4,1716.3L1912.7,1716.3L1912,1716.4L1911.3,1716.4L1910.6,1716.4L1909.9,1716.4L1909.2,1716.4L1908.5,1716.4L1907.8,1716.5L1907.1,1724.2L1906.4,1724.3L1905.7,1724L1905,1723.8L1904.3,1717.3L1903.6,1717.3L1902.9,1717.5L1902.2,1723.9L1901.5,1724.5L1900.8,1723.9L1900.1,1724L1899.4,1717.4L1898.7,1717.4L1898,1717.3L1897.3,1731.1L1896.6,1730.8L1895.9,1730.6L1895.2,1730.7L1894.5,1730.5L1893.8,1731.2L1893.1,1731.4L1892.4,1730.2L1891.7,1731.3L1891,1722L1890.3,1722.1L1889.6,1721.9L1888.9,1722.6L1888.2,1722.2L1887.5,1722.3L1886.8,1716.5L1886.1,1716.3L1885.4,1716.4L1884.7,1716.4L1884,1716.5L1883.3,1716.3L1882.6,1716.3L1881.9,1716.4L1881.2,1716.4L1880.5,1716.4L1879.8,1716.3L1879.1,1716.3L1878.4,1716.3L1877.7,1716.5L1877,1716.3L1876.3,1716.4L1875.6,1716.5L1874.9,1716.5L1874.2,1716.3L1873.5,1716.5L1872.8,1716.5L1872.1,1716.5L1871.4,1719.1L1870.7,1718.7L1870,1718.7L1869.3,1718.9L1868.6,1719.1L1867.9,1719L1867.2,1716.9L1866.5,1717.1L1865.8,1717.1L1865.1,1716.9L1864.4,1717.1L1863.7,1716.9L1863,1718.6L1862.3,1718.2L1861.6,1718.5L1860.9,1718.4L1860.2,1718.4L1859.5,1718.3L1858.8,1718.2L1858.1,1721.5L1857.4,1721.3L1856.7,1721.4L1856,1721.1L1855.3,1721.2L1854.6,1717.2L1853.9,1717.5L1853.2,1717.4L1852.5,1717.3L1851.8,1717.4L1851.1,1717.5L1849.4,1715.2L1847.7,1715.3L1846,1716.1L1844.3,1715.1L1842.6,1715.8L1840.9,1715.5L1839.2,1715.7L1837.5,1715.1L1835.8,1716L1834.1,1715.1L1832.4,1716L1830.7,1715.1L1829,1715.6L1827.3,1715.7L1825.6,1715.4L1823.9,1716L1822.2,1716L1820.5,1716.1L1818.8,1715.7L1817.1,1715.2L1815.4,1715.5L1813.7,1715.5L1812,1715.1L1810.3,1715.3L1808.6,1715.1L1806.9,1715.2L1805.2,1715.1L1803.5,1715.1L1801.8,1715.8L1800.1,1715.7L1798.4,1715.5L1796.7,1715.1L1795,1715.1L1793.3,1715.2L1791.6,1715.1L1789.9,1715.1L1788.2,1715.1L1786.5,1716L1784.8,1716L1783.1,1715.3L1781.4,1715.5L1779.7,1715.8L1778,1715.4L1776.3,1715.8L1774.6,1716L1772.9,1715.1L1771.2,1716L1769.5,1715.5L1767.8,1715.5L1766.1,1715.9L1764.4,1715.1L1762.7,1715.5L1761,1715.2L1759.3,1715.5L1757.6,1715.1L1755.9,1715.1L1754.2,1715.1L1752.5,1715.2L1750.8,1716L1749.1,1715.8L1747.4,1715.3L1745.7,1716.1L1744,1715.6L1742.3,1715.1L1740.6,1715.5L1738.9,1715.1L1737.2,1715.1L1735.5,1715.8L1733.8,1715.1L1732.1,1715.6L1730.4,1715.8L1728.7,1716L1727,1715.1L1725.3,1715.1L1723.6,1715.4L1721.9,1716.1L1720.2,1715.7L1718.5,1715.8L1716.8,1715.9L1715.1,1715.2L1713.4,1715.8L1711.7,1715.1L1710,1715.3L1708.3,1715.5L1706.6,1715.3L1704.9,1715.6L1703.2,1715.5L1701.5,1715.3L1699.8,1715.3L1698.1,1715.6L1696.4,1715.9L1694.7,1715.9L1693,1715.8L1691.3,1716.1L1689.6,1715.4L1687.9,1715.1L1686.2,1716L1684.5,1716L1682.8,1715.4L1681.1,1716.1L1679.4,1716.2L1677.7,1715.1L1676,1715.6L1674.3,1716L1672.6,1715.1L1670.9,1715.3L1669.2,1715.5L1667.5,1715.4L1665.8,1715.5L1664.1,1715.1L1662.4,1716.2L1660.7,1715.4L1659,1715.1L1657.3,1715.9L1655.6,1715.1L1653.9,1716.1L1652.2,1715.7L1650.5,1715.9L1648.8,1715.8L1647.1,1716L1645.4,1715.3L1643.7,1716.2L1642,1715.8L1640.3,1715.4L1638.6,1715.5L1636.9,1715.3L1635.2,1715.1L1633.5,1715.9L1631.8,1715.6L1630.1,1715.7L1628.4,1715.3L1626.7,1715.7L1625,1716.2L1623.3,1715.1L1621.6,1715.5L1619.9,1715.6L1618.2,1715.2L1616.5,1715.3L1614.8,1715.1L1613.1,1715.4L1611.4,1715.6L1609.7,1716.1L1608,1715.5L1606.3,1715.4L1604.6,1715.5L1602.9,1715.3L1601.2,1715.3L1599.5,1716.2L1597.8,1715.7L1596.1,1716.1L1594.4,1715.6L1592.7,1716.2L1591,1715.3L1589.3,1715.5L1587.6,1716.1L1585.9,1716.3L1584.2,1715.1L1582.5,1715.7L1580.8,1715.9L1579.1,1716.1L1577.4,1715.1L1575.7,1716.3L1574,1715.8L1572.3,1715.7L1570.6,1715.1L1568.9,1715.1L1567.2,1715.6L1565.5,1715.6L1563.8,1715.1L1562.1,1715.3L1560.4,1715.3L1558.7,1715.1L1557,1715.7L1555.3,1715.6L1553.6,1716L1551.9,1715.7L1550.2,1715.4L1548.5,1716.2L1546.8,1716.2L1545.1,1715.6L1543.4,1716L1541.7,1716.1L1540,1716L1538.3,1715.9L1536.6,1715.1L1534.9,1715.5L1533.2,1715.5L1531.5,1716.4L1529.8,1715.9L1528.1,1715.6L1526.4,1716.4L1524.7,1715.9L1523,1715.5L1521.3,1716.3L1519.6,1715.8L1517.9,1715.4L1516.2,1715.5L1514.5,1715.9L1512.8,1716.3L1511.1,1715.4L1509.4,1716L1507.7,1715.5L1506,1716.2L1504.3,1715.7L1502.6,1716.2L1500.9,1715.5L1499.2,1715.3L1497.5,1715.2L1495.8,1715.4L1494.1,1716.1L1492.4,1716.5L1490.7,1715.5L1489,1715.2L1487.3,1716L1485.6,1715.7L1483.9,1715.9L1482.2,1716.5L1480.5,1716.6L1478.8,1716.1L1477.1,1716.4L1475.4,1716.8L1473.7,1716L1472,1716.7L1470.3,1716.4L1468.6,1716L1466.9,1715.9L1465.2,1716.4L1463.5,1715.6L1461.8,1716.3L1460.1,1715.5L1458.4,1716L1456.7,1715.5L1455,1716.4L1453.3,1715.7L1451.6,1715.7L1449.9,1715.2L1448.2,1716.3L1446.5,1716.8L1444.8,1717.1L1443.1,1718.3L1441.4,1718.6L1439.7,1718.9L1438,1717.2L1436.3,1719L1434.6,1717.8L1432.9,1717.2L1431.2,1717.3L1429.5,1719.5L1427.8,1719.1L1426.1,1718.9L1424.4,1717.8L1422.7,1717.7L1421,1717.7L1419.3,1716.4L1417.6,1716.9L1415.9,1717.2L1414.2,1716.7L1412.5,1715.4L1410.8,1716.2L1409.1,1717.1L1407.4,1717.1L1405.7,1716.5L1404,1718.4L1402.3,1718.5L1400.6,1719.1L1398.9,1717.6L1397.2,1719.5L1395.5,1717.3L1393.8,1718.6L1392.1,1718.3L1390.4,1717.2L1388.7,1718.8L1387,1717.9L1385.3,1718.5L1383.6,1718.6L1381.9,1719.6L1380.2,1718.7L1378.5,1718.8L1376.8,1719.4L1375.1,1717.4L1373.4,1717.8L1371.7,1717.1L1370,1717.7L1368.3,1717.6L1366.6,1718.6L1364.9,1717.3L1363.2,1718L1361.5,1719.6L1359.8,1719.7L1358.1,1719.1L1356.4,1719.6L1354.7,1719.8L1353,1718.1L1351.3,1718.6L1349.6,1718.5L1347.9,1717.7L1346.2,1717.8L1344.5,1718.7L1342.8,1717.6L1341.1,1717.7L1339.4,1717.5L1337.7,1717.2L1336,1717.9L1334.3,1718L1332.6,1716.8L1330.9,1716.4L1329.2,1715.8L1327.5,1716.3L1325.8,1716.6L1324.1,1716L1322.4,1717.3L1320.7,1717.4L1319,1717.3L1317.3,1717.4L1315.6,1715.8L1313.9,1716.2L1312.2,1716.8L1310.5,1717.3L1308.8,1716L1307.1,1716.4L1305.4,1716.5L1303.7,1718.1L1302,1718.7L1300.3,1718.7L1298.6,1718.1L1296.9,1718.1L1295.2,1717.8L1293.5,1718L1291.8,1719.4L1290.1,1719.5L1288.4,1717.2L1286.7,1717.3L1285,1716.6L1283.3,1716.9L1281.6,1717.2L1279.9,1716.5L1278.2,1716.1L1276.5,1716L1274.8,1716.3L1273.1,1716.7L1271.4,1716.5L1269.7,1716.8L1268,1717.9L1266.3,1717.7L1264.6,1718.8L1262.9,1718L1261.2,1719.2L1259.5,1717.6L1257.8,1717.8L1256.1,1716.5L1254.4,1716.5L1252.7,1717.7L1251,1716L1249.3,1717.3L1247.6,1718.1L1245.9,1717L1244.2,1717.3L1242.5,1716.7L1240.8,1718.9L1239.1,1716.7L1237.4,1717.5L1235.7,1718L1234,1719.4L1232.3,1719.1L1230.6,1718.4L1228.9,1719.4L1227.2,1718.9L1225.5,1717.6L1223.8,1717.2L1222.1,1717.4L1220.4,1717.5L1218.7,1716.2L1217,1717.8L1215.3,1716.8L1213.6,1716.9L1211.9,1717.7L1210.2,1716.4L1208.5,1716.8L1206.8,1717.1L1205.1,1717.5L1203.4,1718.4L1201.7,1718L1200,1719L1199.3,1718.4L1198.6,1718.5L1197.9,1718.4L1197.2,1718.4L1196.5,1718.5L1195.8,1718.3L1195.1,1718.5L1194.4,1718.4L1193.7,1718.4L1193,1718.2L1192.3,1718.4L1191.6,1718.2L1190.9,1718.2L1190.2,1718.2L1189.5,1718.3L1188.8,1720.5L1188.1,1720.2L1187.4,1720.4L1186.7,1720.7L1186,1719.3L1185.3,1719.4L1184.6,1719.5L1183.9,1719.4L1183.2,1719.5L1182.5,1719.3L1181.8,1719.4L1181.1,1719.3L1180.4,1719.2L1179.7,1719.2L1179,1719.3L1178.3,1719.3L1177.6,1719.3L1176.9,1719.2L1176.2,1719.1L1175.5,1719.3L1174.8,1719.4L1174.1,1719.3L1173.4,1718.3L1172.7,1718.6L1172,1718.5L1171.3,1718.4L1170.6,1718.5L1169.9,1718.5L1169.2,1718.5L1168.5,1718.3L1167.8,1718.4L1167.1,1718.7L1166.4,1725.3L1165.7,1725.5L1165,1724.9L1164.3,1725.4L1163.6,1720.4L1162.9,1720L1162.2,1720.2L1161.5,1720.1L1160.8,1720.2L1160.1,1720.4L1159.4,1720.1L1158.7,1724.3L1158,1723.9L1157.3,1723.8L1156.6,1724.1L1155.9,1719.6L1155.2,1719.7L1154.5,1719.7L1153.8,1719.6L1153.1,1720L1152.4,1720.1L1151.7,1719.8L1151,1719.6L1150.3,1720L1149.6,1719.8L1148.9,1719.7L1148.2,1719.8L1147.5,1720.1L1146.8,1719.8L1146.1,1719.6L1145.4,1719.8L1144.7,1719.7L1144,1724.8L1143.3,1725.3L1142.6,1725.1L1141.9,1725.1L1141.2,1724.8L1140.5,1725.2L1139.8,1725L1139.1,1733.7L1138.4,1733.8L1137.7,1733.2L1137,1733.4L1136.3,1733.6L1135.6,1727.5L1134.9,1727.9L1134.2,1728.2L1133.5,1727.8L1132.8,1728.6L1132.1,1727.7L1131.4,1724.9L1130.7,1725.4L1130,1725.6L1129.3,1724.7L1128.6,1724.9L1127.9,1740.3L1127.2,1740.5L1126.5,1741.5L1125.8,1740.3L1125.1,1737.7L1124.4,1736.3L1123.7,1736.6L1123,1737L1122.3,1737.7L1121.6,1737.5L1120.9,1736.7L1120.2,1739.7L1119.5,1739.3L1118.8,1739.1L1118.1,1738.7L1117.4,1738.7L1116.7,1738.6L1116,1744.6L1115.3,1745.3L1114.6,1745.1L1113.9,1744.4L1113.2,1744.5L1112.5,1757.4L1111.8,1758.8L1111.1,1758.5L1110.4,1757.2L1109.7,1750.5L1109,1750.3L1108.3,1750.9L1107.6,1750.9L1106.9,1749.8L1106.2,1766.2L1105.5,1766.2L1104.8,1766.9L1104.1,1745.2L1103.4,1744.6L1102.7,1744.8L1102,1744.8L1101.3,1757.1L1100.6,1758.6L1099.9,1758.2L1099.2,1756.8L1098.5,1741.4L1097.8,1740.7L1097.1,1740.1L1096.4,1740.2L1095.7,1769.4L1095,1768.3L1094.3,1767.8L1093.6,1768.8L1092.9,1769.7L1092.2,1769L1091.5,1769.1L1090.8,1768.4L1090.1,1744.7L1089.4,1744.8L1088.7,1745.1L1088,1740.1L1087.3,1740L1086.6,1740.3L1085.9,1739.8L1085.2,1789L1084.5,1787.4L1083.8,1788.9L1083.1,1787.8L1082.4,1764.1L1081.7,1765.6L1081,1765.1L1080.3,1765.9L1079.6,1756.5L1078.9,1756.8L1078.2,1756.5L1077.5,1758L1076.8,1756.5L1076.1,1739.7L1075.4,1738.7L1074.7,1739.5L1074,1737.8L1073.3,1772.4L1072.6,1773.3L1071.9,1771.8L1071.2,1772.2L1070.5,1828.8L1069.8,1829.9L1069.1,1830.4L1068.4,1830.6L1067.7,1777L1067,1777.1L1066.3,1777.2L1065.6,1777.4L1064.9,1775.7L1064.2,1776.3L1063.5,1751.8L1062.8,1752.7L1062.1,1752.1L1061.4,1769.6L1060.7,1768.9L1060,1769.3L1059.3,1769.9L1058.6,1753.1L1057.9,1751.4L1057.2,1753.1L1056.5,1796L1055.8,1796.7L1055.1,1795.8L1054.4,1796.6L1053.7,1796.9L1053,1841L1052.3,1840.9L1051.6,1840.3L1050.9,1840.7L1050.2,1839.8L1049.5,1782.4L1048.8,1783L1048.1,1782.8L1047.4,1782.6L1046.7,1775.3L1046,1775.5L1045.3,1774.6L1044.6,1775.7L1043.9,1787.7L1043.2,1786.8L1042.5,1788.1L1041.8,1786.5L1041.1,1786.3L1040.4,1761.3L1039.7,1762.1L1039,1817.1L1038.3,1816.9L1037.6,1816.5L1036.9,1817.3L1036.2,1815.8L1035.5,1848.8L1034.8,1849.3L1034.1,1849.3L1033.4,1848.6L1032.7,1796.8L1032,1796.3L1031.3,1795.4L1030.6,1795.3L1029.9,1796.8L1029.2,1771.4L1028.5,1770.7L1027.8,1771.1L1027.1,1783.3L1026.4,1783.4L1025.7,1783.8L1025,1787.4L1024.3,1787.8L1023.6,1786.9L1022.9,1787.5L1022.2,1786.8L1021.5,1762.2L1020.8,1762.6L1020.1,1762.4L1019.4,1815.3L1018.7,1815.9L1018,1816.9L1017.3,1816.6L1016.6,1816.1L1015.9,1836.7L1015.2,1836.8L1014.5,1837.1L1013.8,1837.8L1013.1,1752.1L1012.4,1752.7L1011.7,1751.5L1011,1751.5L1010.3,1752.3L1009.6,1752.8L1008.9,1752.3L1008.2,1749.7L1007.5,1750.7L1006.8,1750L1006.1,1750.4L1005.4,1760.6L1004.7,1760.4L1004,1762L1003.3,1760.9L1002.6,1760.5L1001.9,1758.8L1001.2,1759.4L1000.5,1760L999.8,1753L999.1,1753.6L998.4,1753.7L997.7,1796.5L997,1796.5L996.3,1797.5L995.6,1796.9L994.9,1796.3L994.2,1810.6L993.5,1811.3L992.8,1811L992.1,1811.6L991.4,1811.4L990.7,1757.3L990,1757.6L989.3,1758.7L988.6,1758.7L987.9,1758.6L987.2,1720.3L986.5,1720.6L985.8,1720.3L985.1,1720.1L984.4,1720.1L983.7,1720.3L983,1720.5L982.3,1720.3L981.6,1720.1L980.9,1720.6L980.2,1720.3L979.5,1720.2L978.8,1724L978.1,1723.3L977.4,1724L976.7,1723.4L976,1723.9L975.3,1723.6L974.6,1723.6L973.9,1723.8L973.2,1723.4L972.5,1722L971.8,1722.4L971.1,1722L970.4,1721.9L969.7,1722.5L969,1722.2L968.3,1735.2L967.6,1736.1L966.9,1735.4L966.2,1736.7L965.5,1735.7L964.8,1737.1L964.1,1738.7L963.4,1737L962.7,1737.6L962,1729.3L961.3,1729.2L960.6,1729.5L959.9,1729.4L959.2,1729.2L958.5,1721.2L957.8,1721.4L957.1,1715.8L956.4,1715.9L955.7,1715.8L955,1715.9L954.3,1715.9L953.6,1715.8L952.9,1715.9L952.2,1715.9L951.5,1715.9L950.8,1715.7L950.1,1715.9L948.4,1715.1L946.7,1715.5L945,1715.5L943.3,1715.5L941.6,1715.2L939.9,1716L938.2,1715.8L936.5,1715.8L934.8,1715.9L933.1,1715.7L931.4,1715.7L929.7,1716L928,1718.5L926.3,1718.7L924.6,1719L922.9,1718.4L921.2,1718.4L919.5,1716.3L917.8,1715.1L916.1,1715.5L914.4,1715.1L912.7,1715.4L911,1715.1L909.3,1715.4L907.6,1715.1L905.9,1715.1L904.2,1715.2L902.5,1715.1L900.8,1715.7L899.1,1715.5L897.4,1717.3L895.7,1717.5L894,1719.6L892.3,1718.1L890.6,1717.1L888.9,1716.4L887.2,1716.4L885.5,1715.1L883.8,1715.6L882.1,1715.1L880.4,1715.2L878.7,1715.4L877,1715.4L875.3,1715.1L873.6,1715.1L871.9,1715.1L870.2,1715.1L868.5,1716.6L866.8,1717.2L865.1,1716.2L863.4,1717L861.7,1716.8L860,1716.2L858.3,1716.9L856.6,1717.3L854.9,1716L853.2,1717.3L851.5,1716.5L849.8,1716.2L848.1,1715.8L846.4,1716.3L844.7,1715.3L843,1715.1L841.3,1715.4L839.6,1715.1L837.9,1715.8L836.2,1715.3L834.5,1715.9L832.8,1715.1L831.1,1715.3L829.4,1715.9L827.7,1715.9L826,1715.1L824.3,1715.9L822.6,1715.7L820.9,1715.1L819.2,1715.1L817.5,1715.6L815.8,1715.4L814.1,1715.1L812.4,1715.5L810.7,1715.3L809,1715.1L807.3,1715.4L805.6,1715.3L803.9,1715.9L802.2,1715.7L800.5,1715.1L798.8,1715.5L797.1,1715.4L795.4,1715.4L793.7,1715.9L792,1715.1L790.3,1715.1L788.6,1715.2L786.9,1715.7L785.2,1715.1L783.5,1715.7L781.8,1715.5L780.1,1715.2L778.4,1715.4L776.7,1715.2L775,1715.9L773.3,1715.5L771.6,1715.2L769.9,1715.3L768.2,1715.1L766.5,1715.2L764.8,1715.7L763.1,1715.8L761.4,1715.2L759.7,1715.7L758,1715.9L756.3,1715.8L754.6,1715.4L752.9,1715.2L751.2,1715.8L749.5,1715.7L747.8,1715.1L746.1,1715.1L744.4,1715.2L742.7,1715.3L741,1715.8L739.3,1715.1L737.6,1715.3L735.9,1715.3L734.2,1715.7L732.5,1715.9L730.8,1715.1L729.1,1716L727.4,1715.1L725.7,1715.1L724,1715.4L722.3,1715.1L720.6,1715.1L718.9,1715.6L717.2,1715.7L715.5,1715.1L713.8,1715.9L712.1,1715.1L710.4,1715.6L708.7,1715.1L707,1715.3L705.3,1715.1L703.6,1715.7L701.9,1715.1L700.2,1716L698.5,1715.9L696.8,1715.1L695.1,1715.8L693.4,1715.1L691.7,1715.5L690,1715.4L688.3,1715.5L686.6,1715.1L684.9,1715.2L683.2,1715.3L681.5,1715.1L679.8,1715.4L678.1,1715.7L676.4,1715.5L674.7,1715.1L673,1715.1L671.3,1715.1L669.6,1715.1L667.9,1715.5L666.2,1715.1L664.5,1715.9L662.8,1715.3L661.1,1715.3L659.4,1715.9L657.7,1715.2L656,1715.1L654.3,1715.3L652.6,1715.7L650.9,1715.4L649.2,1715.1L647.5,1715.4L645.8,1715.1L644.1,1715.4L642.4,1715.8L640.7,1715.9L639,1715.2L637.3,1715.4L635.6,1715.4L633.9,1715.7L632.2,1715.4L630.5,1715.1L628.8,1715.4L627.1,1715.6L625.4,1715.6L623.7,1715.1L622,1715.7L620.3,1715.1L618.6,1715.1L616.9,1715.1L615.2,1715.7L613.5,1715.3L611.8,1715.2L610.1,1715.9L608.4,1715.7L606.7,1716L605,1715.9L603.3,1715.6L601.6,1715.8L599.9,1715.1L598.2,1715.3L596.5,1715.7L594.8,1715.4L593.1,1715.9L591.4,1715.3L589.7,1715.6L588,1715.1L586.3,1715.7L584.6,1715.7L582.9,1715.4L581.2,1715.2L579.5,1715.1L577.8,1715.3L576.1,1715.1L574.4,1715.1L572.7,1715.9L571,1715.6L569.3,1715.3L567.6,1715.1L565.9,1715.1L564.2,1715.1L562.5,1715.1L560.8,1715.7L559.1,1715.5L557.4,1715.1L555.7,1715.1L554,1715.3L552.3,1715.8L550.6,1715.4L548.9,1715.2L547.2,1715.1L545.5,1715.1L543.8,1715.9L542.1,1715.8L540.4,1715.4L538.7,1715.1L537,1715.2L535.3,1715.9L533.6,1715.3L531.9,1715.6L530.2,1715.9L528.5,1715.6L526.8,1715.1L525.1,1715.6L523.4,1715.1L521.7,1715.9L520,1715.4L518.3,1715.1L516.6,1715.5L514.9,1715.7L513.2,1715.8L511.5,1715.5L509.8,1715.2L508.1,1715.8L506.4,1715.5L504.7,1715.5L503,1715.2L501.3,1715.5L499.6,1715.7L497.9,1715.8L496.2,1715.6L494.5,1715.9L492.8,1715.6L491.1,1715.9L489.4,1715.4L487.7,1716L486,1715.7L484.3,1715.5L482.6,1716L480.9,1715.9L479.2,1715.1L477.5,1715.5L475.8,1715.6L474.1,1715.9L472.4,1715.1L470.7,1715.2L469,1715.1L467.3,1715.1L465.6,1715.1L463.9,1715.1L462.2,1715.8L460.5,1715.1L458.8,1715.6L457.1,1715.1L455.4,1715.8L453.7,1715.6L452,1716L450.3,1715.1L448.6,1715.5L446.9,1715.9L445.2,1715.9L443.5,1715.1L441.8,1715.8L440.1,1715.1L438.4,1715.8L436.7,1715.3L435,1715.3L433.3,1715.5L431.6,1715.5L429.9,1715.1L428.2,1715.1L426.5,1715.1L424.8,1716L423.1,1715.5L421.4,1715.2L419.7,1715.9L418,1715.7L416.3,1715.1L414.6,1715.3L412.9,1715.5L411.2,1715.7L409.5,1715.3L407.8,1715.1L406.1,1715.1L404.4,1715.1L402.7,1715.7L401,1715.1L399.3,1715.1L397.6,1715.5L395.9,1715.2L394.2,1715.3L392.5,1715.1L390.8,1715.8L389.1,1715.2L387.4,1715.2L385.7,1715.1L384,1715.1L382.3,1715.6L380.6,1716L378.9,1715.1L377.2,1715.6L375.5,1715.5L373.8,1715.8L372.1,1715.3L370.4,1715.1L368.7,1715.1L367,1715.1L365.3,1715.5L363.6,1716L361.9,1715.1L360.2,1715.8L358.5,1715.1L356.8,1715.7L355.1,1715.4L353.4,1715.5L351.7,1715.3L350,1715.4Z" fill="#000" stroke="#000" stroke-width="0.8" stroke-linejoin="round"/>
<line x1="350" y1="1712.8" x2="3085.6" y2="1712.8" stroke="#808080" stroke-width="3.125" stroke-linecap="round" stroke-dasharray="12.5 12.5"/>
<g stroke="#000" stroke-width="3.125" stroke-linecap="round" stroke-linejoin="round" fill="none">
<rect x="350" y="50" width="2735.6" height="1525"/>
<rect x="350" y="1575" width="2735.6" height="276"/>
<line x1="350" y1="1575" x2="374.9" y2="1575"/>
<line x1="350" y1="1270" x2="374.9" y2="1270"/>
<line x1="350" y1="965" x2="374.9" y2="965"/>
<line x1="350" y1="660" x2="374.9" y2="660"/>
<line x1="350" y1="355" x2="374.9" y2="355"/>
<line x1="350" y1="50" x2="374.9" y2="50"/>
<line x1="350" y1="1851" x2="350" y2="1826.1"/>
<line x1="897.1" y1="1851" x2="897.1" y2="1826.1"/>
<line x1="1444.2" y1="1851" x2="1444.2" y2="1826.1"/>
<line x1="1991.4" y1="1851" x2="1991.4" y2="1826.1"/>
<line x1="2538.5" y1="1851" x2="2538.5" y2="1826.1"/>
<line x1="3085.6" y1="1851" x2="3085.6" y2="1826.1"/>
</g>
<rect x="3171.4" y="1530.1" width="163.8" height="45.1" fill="#FFFFFF"/>
<rect x="3171.4" y="1485.1" width="163.8" height="45.1" fill="#E3F8FF"/>
<rect x="3171.4" y="1440" width="163.8" height="45.1" fill="#C6EAFF"/>
<rect x="3171.4" y="1394.9" width="163.8" height="45.1" fill="#AAD4FF"/>
<rect x="3171.4" y="1349.9" width="163.8" height="45.1" fill="#8EB7FF"/>
<rect x="3171.4" y="1304.8" width="163.8" height="45.1" fill="#7192FF"/>
<rect x="3171.4" y="1259.7" width="163.8" height="45.1" fill="#5566FF"/>
<rect x="3171.4" y="1214.7" width="163.8" height="45.1" fill="#3F39FF"/>
<rect x="3171.4" y="1169.6" width="163.8" height="45.1" fill="#421CFF"/>
<rect x="3171.4" y="1124.5" width="163.8" height="45.1" fill="#4D00FF"/>
<rect x="3171.4" y="1079.5" width="163.8" height="45.1" fill="#00800D"/>
<rect x="3171.4" y="1034.4" width="163.8" height="45.1" fill="#058800"/>
<rect x="3171.4" y="989.3" width="163.8" height="45.1" fill="#189000"/>
<rect x="3171.4" y="944.3" width="163.8" height="45.1" fill="#2E9900"/>
<rect x="3171.4" y="899.2" width="163.8" height="45.1" fill="#46A200"/>
<rect x="3171.4" y="854.1" width="163.8" height="45.1" fill="#60AA00"/>
<rect x="3171.4" y="809.1" width="163.8" height="45.1" fill="#7DB200"/>
<rect x="3171.4" y="764" width="163.8" height="45.1" fill="#9CBB00"/>
<rect x="3171.4" y="718.9" width="163.8" height="45.1" fill="#BDC300"/>
<rect x="3171.4" y="673.9" width="163.8" height="45.1" fill="#CCB800"/>
<rect x="3171.4" y="628.8" width="163.8" height="45.1" fill="#FFE680"/>
<rect x="3171.4" y="583.7" width="163.8" height="45.1" fill="#FFD871"/>
<rect x="3171.4" y="538.7" width="163.8" height="45.1" fill="#FFC863"/>
<rect x="3171.4" y="493.6" width="163.8" height="45.1" fill="#FFB555"/>
<rect x="3171.4" y="448.5" width="163.8" height="45.1" fill="#FFA147"/>
<rect x="3171.4" y="403.5" width="163.8" height="45.1" fill="#FF8A39"/>
<rect x="3171.4" y="358.4" width="163.8" height="45.1" fill="#FF712B"/>
<rect x="3171.4" y="313.3" width="163.8" height="45.1" fill="#FF561C"/>
<rect x="3171.4" y="268.3" width="163.8" height="45.1" fill="#FF390E"/>
<rect x="3171.4" y="223.2" width="163.8" height="45.1" fill="#FF1900"/>
<g stroke="#000" stroke-width="3.125" stroke-linecap="round" stroke-linejoin="round" fill="none">
<rect x="3171.4" y="223.2" width="163.8" height="1352"/>
<line x1="3335.2" y1="223.2" x2="3360.1" y2="223.2"/>
<line x1="3335.2" y1="448.5" x2="3360.1" y2="448.5"/>
<line x1="3335.2" y1="673.9" x2="3360.1" y2="673.9"/>
<line x1="3335.2" y1="899.2" x2="3360.1" y2="899.2"/>
<line x1="3335.2" y1="1124.5" x2="3360.1" y2="1124.5"/>
<line x1="3335.2" y1="1349.9" x2="3360.1" y2="1349.9"/>
<line x1="3335.2" y1="1575.2" x2="3360.1" y2="1575.2"/>
</g>
<text transform="translate(300,1590.7) scale(1,1.06)" font-size="41.5" text-anchor="end">0</text>
<text transform="translate(300,1285.7) scale(1,1.06)" font-size="41.5" text-anchor="end">1</text>
<text transform="translate(300,980.7) scale(1,1.06)" font-size="41.5" text-anchor="end">2</text>
<text transform="translate(300,675.7) scale(1,1.06)" font-size="41.5" text-anchor="end">3</text>
<text transform="translate(300,370.7) scale(1,1.06)" font-size="41.5" text-anchor="end">4</text>
<text transform="translate(300,65.7) scale(1,1.06)" font-size="41.5" text-anchor="end">5</text>
<text transform="translate(350,1941.4) scale(1,1.06)" font-size="41.5" text-anchor="middle">1.5</text>
<text transform="translate(897.1,1941.4) scale(1,1.06)" font-size="41.5" text-anchor="middle">1.6</text>
<text transform="translate(1444.2,1941.4) scale(1,1.06)" font-size="41.5" text-anchor="middle">1.7</text>
<text transform="translate(1991.4,1941.4) scale(1,1.06)" font-size="41.5" text-anchor="middle">1.8</text>
<text transform="translate(2538.5,1941.4) scale(1,1.06)" font-size="41.5" text-anchor="middle">1.9</text>
<text transform="translate(3085.6,1941.4) scale(1,1.06)" font-size="41.5" text-anchor="middle">2.0</text>
<text transform="translate(241,812.5) rotate(-90) scale(1,1.03)" font-size="49.8" text-anchor="middle">Frequency (kHz)</text>
<text transform="translate(192,1713) rotate(-90) scale(1,1.03)" font-size="49.8" text-anchor="middle">Amplitude</text>
<text transform="translate(1717.8,2040) scale(1,1.03)" font-size="49.8" text-anchor="middle">Time (s)</text>
<text transform="translate(3171.5,93.9) scale(1,1.03)" font-size="37.35" text-anchor="start">Amplitude</text>
<text transform="translate(3171.5,138.8) scale(1,1.03)" font-size="37.35" text-anchor="start">(dB)</text>
<text transform="translate(3388.5,239.2) scale(1,1.06)" font-size="41.5" text-anchor="start">0</text>
<text transform="translate(3388.5,464.5) scale(1,1.06)" font-size="41.5" text-anchor="start">-5</text>
<text transform="translate(3388.5,689.9) scale(1,1.06)" font-size="41.5" text-anchor="start">-10</text>
<text transform="translate(3388.5,915.2) scale(1,1.06)" font-size="41.5" text-anchor="start">-15</text>
<text transform="translate(3388.5,1140.5) scale(1,1.06)" font-size="41.5" text-anchor="start">-20</text>
<text transform="translate(3388.5,1365.9) scale(1,1.06)" font-size="41.5" text-anchor="start">-25</text>
<text transform="translate(3388.5,1591.2) scale(1,1.06)" font-size="41.5" text-anchor="start">-30</text>
</svg></body></html>
